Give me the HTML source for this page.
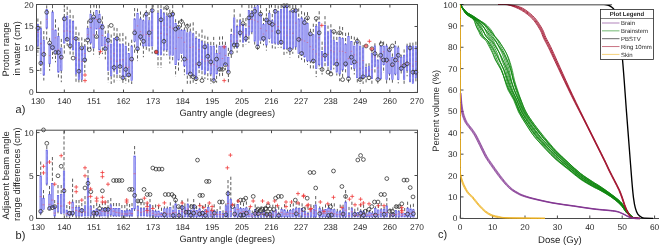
<!DOCTYPE html>
<html><head><meta charset="utf-8"><style>html,body{margin:0;padding:0;background:#fff;}svg{display:block;position:absolute;left:0;top:0;}.tx{filter:grayscale(1);}</style></head>
<body><svg xmlns="http://www.w3.org/2000/svg" width="660" height="246" viewBox="0 0 660 246"><line x1="37.9" y1="18.5" x2="37.9" y2="55.4" stroke="#333" stroke-width="0.8" stroke-dasharray="3.2 2"/>
<line x1="40.8" y1="21.2" x2="40.8" y2="73.6" stroke="#333" stroke-width="0.8" stroke-dasharray="3.2 2"/>
<line x1="43.8" y1="31.0" x2="43.8" y2="80.5" stroke="#333" stroke-width="0.8" stroke-dasharray="3.2 2"/>
<line x1="46.7" y1="5.4" x2="46.7" y2="39.9" stroke="#333" stroke-width="0.8" stroke-dasharray="3.2 2"/>
<line x1="49.6" y1="37.9" x2="49.6" y2="70.7" stroke="#333" stroke-width="0.8" stroke-dasharray="3.2 2"/>
<line x1="52.5" y1="5.0" x2="52.5" y2="58.8" stroke="#333" stroke-width="0.8" stroke-dasharray="3.2 2"/>
<line x1="55.5" y1="19.3" x2="55.5" y2="62.3" stroke="#333" stroke-width="0.8" stroke-dasharray="3.2 2"/>
<line x1="58.4" y1="27.5" x2="58.4" y2="78.4" stroke="#333" stroke-width="0.8" stroke-dasharray="3.2 2"/>
<line x1="61.3" y1="38.9" x2="61.3" y2="82.2" stroke="#333" stroke-width="0.8" stroke-dasharray="3.2 2"/>
<line x1="64.3" y1="8.8" x2="64.3" y2="54.0" stroke="#333" stroke-width="0.8" stroke-dasharray="3.2 2"/>
<line x1="67.2" y1="6.6" x2="67.2" y2="45.8" stroke="#333" stroke-width="0.8" stroke-dasharray="3.2 2"/>
<line x1="70.1" y1="9.7" x2="70.1" y2="55.7" stroke="#333" stroke-width="0.8" stroke-dasharray="3.2 2"/>
<line x1="73.1" y1="15.2" x2="73.1" y2="55.2" stroke="#333" stroke-width="0.8" stroke-dasharray="3.2 2"/>
<line x1="76.0" y1="26.6" x2="76.0" y2="82.8" stroke="#333" stroke-width="0.8" stroke-dasharray="3.2 2"/>
<line x1="78.9" y1="32.4" x2="78.9" y2="84.0" stroke="#333" stroke-width="0.8" stroke-dasharray="3.2 2"/>
<line x1="81.8" y1="37.3" x2="81.8" y2="84.0" stroke="#333" stroke-width="0.8" stroke-dasharray="3.2 2"/>
<line x1="84.8" y1="38.8" x2="84.8" y2="72.4" stroke="#333" stroke-width="0.8" stroke-dasharray="3.2 2"/>
<line x1="87.7" y1="20.6" x2="87.7" y2="51.9" stroke="#333" stroke-width="0.8" stroke-dasharray="3.2 2"/>
<line x1="90.6" y1="5.0" x2="90.6" y2="48.9" stroke="#333" stroke-width="0.8" stroke-dasharray="3.2 2"/>
<line x1="93.6" y1="11.9" x2="93.6" y2="54.7" stroke="#333" stroke-width="0.8" stroke-dasharray="3.2 2"/>
<line x1="96.5" y1="5.0" x2="96.5" y2="37.6" stroke="#333" stroke-width="0.8" stroke-dasharray="3.2 2"/>
<line x1="99.4" y1="5.1" x2="99.4" y2="57.4" stroke="#333" stroke-width="0.8" stroke-dasharray="3.2 2"/>
<line x1="102.4" y1="16.3" x2="102.4" y2="54.1" stroke="#333" stroke-width="0.8" stroke-dasharray="3.2 2"/>
<line x1="105.3" y1="30.7" x2="105.3" y2="59.4" stroke="#333" stroke-width="0.8" stroke-dasharray="3.2 2"/>
<line x1="108.2" y1="25.1" x2="108.2" y2="82.5" stroke="#333" stroke-width="0.8" stroke-dasharray="3.2 2"/>
<line x1="111.2" y1="34.5" x2="111.2" y2="84.0" stroke="#333" stroke-width="0.8" stroke-dasharray="3.2 2"/>
<line x1="114.1" y1="27.5" x2="114.1" y2="83.2" stroke="#333" stroke-width="0.8" stroke-dasharray="3.2 2"/>
<line x1="117.0" y1="28.1" x2="117.0" y2="80.3" stroke="#333" stroke-width="0.8" stroke-dasharray="3.2 2"/>
<line x1="119.9" y1="33.2" x2="119.9" y2="80.2" stroke="#333" stroke-width="0.8" stroke-dasharray="3.2 2"/>
<line x1="122.9" y1="32.9" x2="122.9" y2="84.0" stroke="#333" stroke-width="0.8" stroke-dasharray="3.2 2"/>
<line x1="125.8" y1="36.3" x2="125.8" y2="83.5" stroke="#333" stroke-width="0.8" stroke-dasharray="3.2 2"/>
<line x1="128.7" y1="42.8" x2="128.7" y2="84.0" stroke="#333" stroke-width="0.8" stroke-dasharray="3.2 2"/>
<line x1="131.7" y1="39.7" x2="131.7" y2="84.0" stroke="#333" stroke-width="0.8" stroke-dasharray="3.2 2"/>
<line x1="134.6" y1="8.0" x2="134.6" y2="54.2" stroke="#333" stroke-width="0.8" stroke-dasharray="3.2 2"/>
<line x1="137.5" y1="8.5" x2="137.5" y2="61.1" stroke="#333" stroke-width="0.8" stroke-dasharray="3.2 2"/>
<line x1="140.5" y1="11.5" x2="140.5" y2="45.6" stroke="#333" stroke-width="0.8" stroke-dasharray="3.2 2"/>
<line x1="143.4" y1="14.3" x2="143.4" y2="57.2" stroke="#333" stroke-width="0.8" stroke-dasharray="3.2 2"/>
<line x1="146.3" y1="5.0" x2="146.3" y2="51.4" stroke="#333" stroke-width="0.8" stroke-dasharray="3.2 2"/>
<line x1="149.2" y1="11.8" x2="149.2" y2="51.4" stroke="#333" stroke-width="0.8" stroke-dasharray="3.2 2"/>
<line x1="152.2" y1="5.0" x2="152.2" y2="53.6" stroke="#333" stroke-width="0.8" stroke-dasharray="3.2 2"/>
<line x1="158.0" y1="5.0" x2="158.0" y2="67.8" stroke="#333" stroke-width="0.8" stroke-dasharray="3.2 2"/>
<line x1="161.0" y1="5.0" x2="161.0" y2="68.0" stroke="#333" stroke-width="0.8" stroke-dasharray="3.2 2"/>
<line x1="163.9" y1="6.7" x2="163.9" y2="55.6" stroke="#333" stroke-width="0.8" stroke-dasharray="3.2 2"/>
<line x1="166.8" y1="7.2" x2="166.8" y2="55.3" stroke="#333" stroke-width="0.8" stroke-dasharray="3.2 2"/>
<line x1="169.8" y1="9.5" x2="169.8" y2="63.6" stroke="#333" stroke-width="0.8" stroke-dasharray="3.2 2"/>
<line x1="172.7" y1="5.0" x2="172.7" y2="61.5" stroke="#333" stroke-width="0.8" stroke-dasharray="3.2 2"/>
<line x1="175.6" y1="19.2" x2="175.6" y2="76.6" stroke="#333" stroke-width="0.8" stroke-dasharray="3.2 2"/>
<line x1="178.5" y1="20.7" x2="178.5" y2="72.7" stroke="#333" stroke-width="0.8" stroke-dasharray="3.2 2"/>
<line x1="181.5" y1="18.8" x2="181.5" y2="61.5" stroke="#333" stroke-width="0.8" stroke-dasharray="3.2 2"/>
<line x1="184.4" y1="22.3" x2="184.4" y2="75.2" stroke="#333" stroke-width="0.8" stroke-dasharray="3.2 2"/>
<line x1="187.3" y1="23.6" x2="187.3" y2="83.8" stroke="#333" stroke-width="0.8" stroke-dasharray="3.2 2"/>
<line x1="190.3" y1="23.4" x2="190.3" y2="84.0" stroke="#333" stroke-width="0.8" stroke-dasharray="3.2 2"/>
<line x1="193.2" y1="22.3" x2="193.2" y2="84.0" stroke="#333" stroke-width="0.8" stroke-dasharray="3.2 2"/>
<line x1="196.1" y1="31.0" x2="196.1" y2="84.0" stroke="#333" stroke-width="0.8" stroke-dasharray="3.2 2"/>
<line x1="199.1" y1="33.5" x2="199.1" y2="75.4" stroke="#333" stroke-width="0.8" stroke-dasharray="3.2 2"/>
<line x1="202.0" y1="29.5" x2="202.0" y2="79.2" stroke="#333" stroke-width="0.8" stroke-dasharray="3.2 2"/>
<line x1="204.9" y1="35.6" x2="204.9" y2="79.1" stroke="#333" stroke-width="0.8" stroke-dasharray="3.2 2"/>
<line x1="207.8" y1="36.7" x2="207.8" y2="79.9" stroke="#333" stroke-width="0.8" stroke-dasharray="3.2 2"/>
<line x1="210.8" y1="41.8" x2="210.8" y2="83.9" stroke="#333" stroke-width="0.8" stroke-dasharray="3.2 2"/>
<line x1="213.7" y1="36.9" x2="213.7" y2="84.0" stroke="#333" stroke-width="0.8" stroke-dasharray="3.2 2"/>
<line x1="216.6" y1="44.5" x2="216.6" y2="82.7" stroke="#333" stroke-width="0.8" stroke-dasharray="3.2 2"/>
<line x1="219.6" y1="36.6" x2="219.6" y2="77.2" stroke="#333" stroke-width="0.8" stroke-dasharray="3.2 2"/>
<line x1="222.5" y1="36.3" x2="222.5" y2="77.5" stroke="#333" stroke-width="0.8" stroke-dasharray="3.2 2"/>
<line x1="225.4" y1="41.8" x2="225.4" y2="70.2" stroke="#333" stroke-width="0.8" stroke-dasharray="3.2 2"/>
<line x1="228.4" y1="47.8" x2="228.4" y2="84.0" stroke="#333" stroke-width="0.8" stroke-dasharray="3.2 2"/>
<line x1="231.3" y1="28.7" x2="231.3" y2="59.2" stroke="#333" stroke-width="0.8" stroke-dasharray="3.2 2"/>
<line x1="234.2" y1="9.2" x2="234.2" y2="49.9" stroke="#333" stroke-width="0.8" stroke-dasharray="3.2 2"/>
<line x1="237.1" y1="19.4" x2="237.1" y2="52.7" stroke="#333" stroke-width="0.8" stroke-dasharray="3.2 2"/>
<line x1="240.1" y1="13.7" x2="240.1" y2="42.2" stroke="#333" stroke-width="0.8" stroke-dasharray="3.2 2"/>
<line x1="243.0" y1="18.0" x2="243.0" y2="47.5" stroke="#333" stroke-width="0.8" stroke-dasharray="3.2 2"/>
<line x1="245.9" y1="18.0" x2="245.9" y2="44.4" stroke="#333" stroke-width="0.8" stroke-dasharray="3.2 2"/>
<line x1="248.9" y1="5.0" x2="248.9" y2="43.0" stroke="#333" stroke-width="0.8" stroke-dasharray="3.2 2"/>
<line x1="251.8" y1="5.0" x2="251.8" y2="36.2" stroke="#333" stroke-width="0.8" stroke-dasharray="3.2 2"/>
<line x1="254.7" y1="5.0" x2="254.7" y2="45.6" stroke="#333" stroke-width="0.8" stroke-dasharray="3.2 2"/>
<line x1="257.6" y1="5.0" x2="257.6" y2="51.5" stroke="#333" stroke-width="0.8" stroke-dasharray="3.2 2"/>
<line x1="260.6" y1="5.0" x2="260.6" y2="43.9" stroke="#333" stroke-width="0.8" stroke-dasharray="3.2 2"/>
<line x1="263.5" y1="17.8" x2="263.5" y2="45.3" stroke="#333" stroke-width="0.8" stroke-dasharray="3.2 2"/>
<line x1="266.4" y1="8.1" x2="266.4" y2="50.6" stroke="#333" stroke-width="0.8" stroke-dasharray="3.2 2"/>
<line x1="269.4" y1="5.0" x2="269.4" y2="42.4" stroke="#333" stroke-width="0.8" stroke-dasharray="3.2 2"/>
<line x1="272.3" y1="14.0" x2="272.3" y2="50.0" stroke="#333" stroke-width="0.8" stroke-dasharray="3.2 2"/>
<line x1="275.2" y1="5.0" x2="275.2" y2="48.8" stroke="#333" stroke-width="0.8" stroke-dasharray="3.2 2"/>
<line x1="278.2" y1="5.5" x2="278.2" y2="47.7" stroke="#333" stroke-width="0.8" stroke-dasharray="3.2 2"/>
<line x1="281.1" y1="5.0" x2="281.1" y2="48.1" stroke="#333" stroke-width="0.8" stroke-dasharray="3.2 2"/>
<line x1="284.0" y1="5.0" x2="284.0" y2="56.7" stroke="#333" stroke-width="0.8" stroke-dasharray="3.2 2"/>
<line x1="286.9" y1="5.0" x2="286.9" y2="53.4" stroke="#333" stroke-width="0.8" stroke-dasharray="3.2 2"/>
<line x1="289.9" y1="5.0" x2="289.9" y2="57.5" stroke="#333" stroke-width="0.8" stroke-dasharray="3.2 2"/>
<line x1="292.8" y1="5.0" x2="292.8" y2="53.8" stroke="#333" stroke-width="0.8" stroke-dasharray="3.2 2"/>
<line x1="295.7" y1="5.0" x2="295.7" y2="51.7" stroke="#333" stroke-width="0.8" stroke-dasharray="3.2 2"/>
<line x1="298.7" y1="8.4" x2="298.7" y2="58.1" stroke="#333" stroke-width="0.8" stroke-dasharray="3.2 2"/>
<line x1="301.6" y1="11.1" x2="301.6" y2="59.9" stroke="#333" stroke-width="0.8" stroke-dasharray="3.2 2"/>
<line x1="304.5" y1="12.4" x2="304.5" y2="62.5" stroke="#333" stroke-width="0.8" stroke-dasharray="3.2 2"/>
<line x1="307.5" y1="12.1" x2="307.5" y2="64.9" stroke="#333" stroke-width="0.8" stroke-dasharray="3.2 2"/>
<line x1="310.4" y1="28.8" x2="310.4" y2="69.7" stroke="#333" stroke-width="0.8" stroke-dasharray="3.2 2"/>
<line x1="313.3" y1="23.7" x2="313.3" y2="69.9" stroke="#333" stroke-width="0.8" stroke-dasharray="3.2 2"/>
<line x1="316.2" y1="18.8" x2="316.2" y2="77.1" stroke="#333" stroke-width="0.8" stroke-dasharray="3.2 2"/>
<line x1="319.2" y1="11.2" x2="319.2" y2="69.0" stroke="#333" stroke-width="0.8" stroke-dasharray="3.2 2"/>
<line x1="322.1" y1="41.6" x2="322.1" y2="74.6" stroke="#333" stroke-width="0.8" stroke-dasharray="3.2 2"/>
<line x1="325.0" y1="16.1" x2="325.0" y2="67.1" stroke="#333" stroke-width="0.8" stroke-dasharray="3.2 2"/>
<line x1="328.0" y1="25.6" x2="328.0" y2="71.0" stroke="#333" stroke-width="0.8" stroke-dasharray="3.2 2"/>
<line x1="330.9" y1="24.2" x2="330.9" y2="73.4" stroke="#333" stroke-width="0.8" stroke-dasharray="3.2 2"/>
<line x1="333.8" y1="31.3" x2="333.8" y2="69.4" stroke="#333" stroke-width="0.8" stroke-dasharray="3.2 2"/>
<line x1="336.8" y1="31.7" x2="336.8" y2="75.5" stroke="#333" stroke-width="0.8" stroke-dasharray="3.2 2"/>
<line x1="339.7" y1="26.3" x2="339.7" y2="81.2" stroke="#333" stroke-width="0.8" stroke-dasharray="3.2 2"/>
<line x1="342.6" y1="27.0" x2="342.6" y2="78.4" stroke="#333" stroke-width="0.8" stroke-dasharray="3.2 2"/>
<line x1="345.6" y1="32.8" x2="345.6" y2="73.1" stroke="#333" stroke-width="0.8" stroke-dasharray="3.2 2"/>
<line x1="348.5" y1="32.5" x2="348.5" y2="84.0" stroke="#333" stroke-width="0.8" stroke-dasharray="3.2 2"/>
<line x1="351.4" y1="35.9" x2="351.4" y2="69.5" stroke="#333" stroke-width="0.8" stroke-dasharray="3.2 2"/>
<line x1="354.3" y1="36.7" x2="354.3" y2="74.5" stroke="#333" stroke-width="0.8" stroke-dasharray="3.2 2"/>
<line x1="357.3" y1="37.6" x2="357.3" y2="84.0" stroke="#333" stroke-width="0.8" stroke-dasharray="3.2 2"/>
<line x1="360.2" y1="41.6" x2="360.2" y2="83.7" stroke="#333" stroke-width="0.8" stroke-dasharray="3.2 2"/>
<line x1="363.1" y1="45.0" x2="363.1" y2="84.0" stroke="#333" stroke-width="0.8" stroke-dasharray="3.2 2"/>
<line x1="366.1" y1="63.6" x2="366.1" y2="84.0" stroke="#333" stroke-width="0.8" stroke-dasharray="3.2 2"/>
<line x1="369.0" y1="63.2" x2="369.0" y2="80.1" stroke="#333" stroke-width="0.8" stroke-dasharray="3.2 2"/>
<line x1="371.9" y1="49.4" x2="371.9" y2="84.0" stroke="#333" stroke-width="0.8" stroke-dasharray="3.2 2"/>
<line x1="374.9" y1="43.3" x2="374.9" y2="74.4" stroke="#333" stroke-width="0.8" stroke-dasharray="3.2 2"/>
<line x1="377.8" y1="54.3" x2="377.8" y2="84.0" stroke="#333" stroke-width="0.8" stroke-dasharray="3.2 2"/>
<line x1="380.7" y1="40.7" x2="380.7" y2="81.7" stroke="#333" stroke-width="0.8" stroke-dasharray="3.2 2"/>
<line x1="383.6" y1="41.5" x2="383.6" y2="72.9" stroke="#333" stroke-width="0.8" stroke-dasharray="3.2 2"/>
<line x1="386.6" y1="43.8" x2="386.6" y2="84.0" stroke="#333" stroke-width="0.8" stroke-dasharray="3.2 2"/>
<line x1="389.5" y1="46.6" x2="389.5" y2="80.2" stroke="#333" stroke-width="0.8" stroke-dasharray="3.2 2"/>
<line x1="392.4" y1="53.5" x2="392.4" y2="84.0" stroke="#333" stroke-width="0.8" stroke-dasharray="3.2 2"/>
<line x1="395.4" y1="40.9" x2="395.4" y2="77.0" stroke="#333" stroke-width="0.8" stroke-dasharray="3.2 2"/>
<line x1="398.3" y1="45.7" x2="398.3" y2="83.4" stroke="#333" stroke-width="0.8" stroke-dasharray="3.2 2"/>
<line x1="401.2" y1="54.7" x2="401.2" y2="73.7" stroke="#333" stroke-width="0.8" stroke-dasharray="3.2 2"/>
<line x1="404.1" y1="49.4" x2="404.1" y2="84.0" stroke="#333" stroke-width="0.8" stroke-dasharray="3.2 2"/>
<line x1="407.1" y1="43.7" x2="407.1" y2="76.3" stroke="#333" stroke-width="0.8" stroke-dasharray="3.2 2"/>
<line x1="410.0" y1="42.7" x2="410.0" y2="84.0" stroke="#333" stroke-width="0.8" stroke-dasharray="3.2 2"/>
<line x1="412.9" y1="42.6" x2="412.9" y2="84.0" stroke="#333" stroke-width="0.8" stroke-dasharray="3.2 2"/>
<line x1="415.9" y1="41.7" x2="415.9" y2="83.0" stroke="#333" stroke-width="0.8" stroke-dasharray="3.2 2"/>
<rect x="37.20" y="24.4" width="1.4" height="21.6" fill="#b2b2f5" stroke="#5c5cea" stroke-width="0.6"/>
<line x1="37.20" y1="32.5" x2="38.60" y2="32.5" stroke="#e8485a" stroke-width="0.5"/>
<rect x="40.13" y="28.2" width="1.4" height="35.6" fill="#b2b2f5" stroke="#5c5cea" stroke-width="0.6"/>
<line x1="40.13" y1="43.6" x2="41.53" y2="43.6" stroke="#e8485a" stroke-width="0.5"/>
<rect x="43.06" y="40.0" width="1.4" height="35.0" fill="#b2b2f5" stroke="#5c5cea" stroke-width="0.6"/>
<line x1="43.06" y1="52.2" x2="44.46" y2="52.2" stroke="#e8485a" stroke-width="0.5"/>
<rect x="45.99" y="9.5" width="1.4" height="18.7" fill="#b2b2f5" stroke="#5c5cea" stroke-width="0.6"/>
<line x1="45.99" y1="19.3" x2="47.39" y2="19.3" stroke="#e8485a" stroke-width="0.5"/>
<rect x="48.92" y="44.0" width="1.4" height="19.8" fill="#b2b2f5" stroke="#5c5cea" stroke-width="0.6"/>
<line x1="48.92" y1="55.6" x2="50.32" y2="55.6" stroke="#e8485a" stroke-width="0.5"/>
<rect x="51.85" y="12.0" width="1.4" height="38.0" fill="#b2b2f5" stroke="#5c5cea" stroke-width="0.6"/>
<line x1="51.85" y1="29.2" x2="53.25" y2="29.2" stroke="#e8485a" stroke-width="0.5"/>
<rect x="54.78" y="30.0" width="1.4" height="23.5" fill="#b2b2f5" stroke="#5c5cea" stroke-width="0.6"/>
<line x1="54.78" y1="37.8" x2="56.18" y2="37.8" stroke="#e8485a" stroke-width="0.5"/>
<rect x="57.71" y="36.6" width="1.4" height="35.6" fill="#b2b2f5" stroke="#5c5cea" stroke-width="0.6"/>
<line x1="57.71" y1="49.8" x2="59.11" y2="49.8" stroke="#e8485a" stroke-width="0.5"/>
<rect x="60.64" y="48.0" width="1.4" height="22.3" fill="#b2b2f5" stroke="#5c5cea" stroke-width="0.6"/>
<line x1="60.64" y1="58.0" x2="62.04" y2="58.0" stroke="#e8485a" stroke-width="0.5"/>
<rect x="63.57" y="17.0" width="1.4" height="26.1" fill="#b2b2f5" stroke="#5c5cea" stroke-width="0.6"/>
<line x1="63.57" y1="31.1" x2="64.97" y2="31.1" stroke="#e8485a" stroke-width="0.5"/>
<rect x="66.50" y="16.0" width="1.4" height="24.3" fill="#b2b2f5" stroke="#5c5cea" stroke-width="0.6"/>
<line x1="66.50" y1="30.9" x2="67.90" y2="30.9" stroke="#e8485a" stroke-width="0.5"/>
<rect x="69.43" y="19.8" width="1.4" height="26.2" fill="#b2b2f5" stroke="#5c5cea" stroke-width="0.6"/>
<line x1="69.43" y1="31.6" x2="70.83" y2="31.6" stroke="#e8485a" stroke-width="0.5"/>
<rect x="72.36" y="21.6" width="1.4" height="28.4" fill="#b2b2f5" stroke="#5c5cea" stroke-width="0.6"/>
<line x1="72.36" y1="39.2" x2="73.76" y2="39.2" stroke="#e8485a" stroke-width="0.5"/>
<rect x="75.29" y="37.5" width="1.4" height="36.5" fill="#b2b2f5" stroke="#5c5cea" stroke-width="0.6"/>
<line x1="75.29" y1="57.5" x2="76.69" y2="57.5" stroke="#e8485a" stroke-width="0.5"/>
<rect x="78.22" y="42.2" width="1.4" height="37.4" fill="#b2b2f5" stroke="#5c5cea" stroke-width="0.6"/>
<line x1="78.22" y1="59.9" x2="79.62" y2="59.9" stroke="#e8485a" stroke-width="0.5"/>
<rect x="81.15" y="47.0" width="1.4" height="32.6" fill="#b2b2f5" stroke="#5c5cea" stroke-width="0.6"/>
<line x1="81.15" y1="61.6" x2="82.55" y2="61.6" stroke="#e8485a" stroke-width="0.5"/>
<rect x="84.08" y="46.0" width="1.4" height="15.0" fill="#b2b2f5" stroke="#5c5cea" stroke-width="0.6"/>
<line x1="84.08" y1="53.5" x2="85.48" y2="53.5" stroke="#e8485a" stroke-width="0.5"/>
<rect x="87.01" y="28.2" width="1.4" height="11.2" fill="#b2b2f5" stroke="#5c5cea" stroke-width="0.6"/>
<line x1="87.01" y1="34.7" x2="88.41" y2="34.7" stroke="#e8485a" stroke-width="0.5"/>
<rect x="89.94" y="14.1" width="1.4" height="29.0" fill="#b2b2f5" stroke="#5c5cea" stroke-width="0.6"/>
<line x1="89.94" y1="27.7" x2="91.34" y2="27.7" stroke="#e8485a" stroke-width="0.5"/>
<rect x="92.87" y="17.0" width="1.4" height="31.0" fill="#b2b2f5" stroke="#5c5cea" stroke-width="0.6"/>
<line x1="92.87" y1="34.9" x2="94.27" y2="34.9" stroke="#e8485a" stroke-width="0.5"/>
<rect x="95.80" y="10.4" width="1.4" height="18.7" fill="#b2b2f5" stroke="#5c5cea" stroke-width="0.6"/>
<line x1="95.80" y1="19.5" x2="97.20" y2="19.5" stroke="#e8485a" stroke-width="0.5"/>
<rect x="98.73" y="14.1" width="1.4" height="35.9" fill="#b2b2f5" stroke="#5c5cea" stroke-width="0.6"/>
<line x1="98.73" y1="28.4" x2="100.13" y2="28.4" stroke="#e8485a" stroke-width="0.5"/>
<rect x="101.66" y="24.4" width="1.4" height="21.6" fill="#b2b2f5" stroke="#5c5cea" stroke-width="0.6"/>
<line x1="101.66" y1="35.5" x2="103.06" y2="35.5" stroke="#e8485a" stroke-width="0.5"/>
<rect x="104.59" y="37.5" width="1.4" height="12.2" fill="#b2b2f5" stroke="#5c5cea" stroke-width="0.6"/>
<line x1="104.59" y1="44.6" x2="105.99" y2="44.6" stroke="#e8485a" stroke-width="0.5"/>
<rect x="107.52" y="33.8" width="1.4" height="36.5" fill="#b2b2f5" stroke="#5c5cea" stroke-width="0.6"/>
<line x1="107.52" y1="45.8" x2="108.92" y2="45.8" stroke="#e8485a" stroke-width="0.5"/>
<rect x="110.45" y="44.0" width="1.4" height="31.9" fill="#b2b2f5" stroke="#5c5cea" stroke-width="0.6"/>
<line x1="110.45" y1="59.0" x2="111.85" y2="59.0" stroke="#e8485a" stroke-width="0.5"/>
<rect x="113.38" y="38.4" width="1.4" height="31.9" fill="#b2b2f5" stroke="#5c5cea" stroke-width="0.6"/>
<line x1="113.38" y1="53.4" x2="114.78" y2="53.4" stroke="#e8485a" stroke-width="0.5"/>
<rect x="116.31" y="37.5" width="1.4" height="36.5" fill="#b2b2f5" stroke="#5c5cea" stroke-width="0.6"/>
<line x1="116.31" y1="61.3" x2="117.71" y2="61.3" stroke="#e8485a" stroke-width="0.5"/>
<rect x="119.24" y="44.1" width="1.4" height="23.4" fill="#b2b2f5" stroke="#5c5cea" stroke-width="0.6"/>
<line x1="119.24" y1="59.9" x2="120.64" y2="59.9" stroke="#e8485a" stroke-width="0.5"/>
<rect x="122.17" y="44.1" width="1.4" height="34.6" fill="#b2b2f5" stroke="#5c5cea" stroke-width="0.6"/>
<line x1="122.17" y1="59.7" x2="123.57" y2="59.7" stroke="#e8485a" stroke-width="0.5"/>
<rect x="125.10" y="46.0" width="1.4" height="30.8" fill="#b2b2f5" stroke="#5c5cea" stroke-width="0.6"/>
<line x1="125.10" y1="66.3" x2="126.50" y2="66.3" stroke="#e8485a" stroke-width="0.5"/>
<rect x="128.03" y="53.5" width="1.4" height="22.4" fill="#b2b2f5" stroke="#5c5cea" stroke-width="0.6"/>
<line x1="128.03" y1="67.3" x2="129.43" y2="67.3" stroke="#e8485a" stroke-width="0.5"/>
<rect x="130.96" y="46.0" width="1.4" height="34.6" fill="#b2b2f5" stroke="#5c5cea" stroke-width="0.6"/>
<line x1="130.96" y1="60.0" x2="132.36" y2="60.0" stroke="#e8485a" stroke-width="0.5"/>
<rect x="133.89" y="18.8" width="1.4" height="22.5" fill="#b2b2f5" stroke="#5c5cea" stroke-width="0.6"/>
<line x1="133.89" y1="29.7" x2="135.29" y2="29.7" stroke="#e8485a" stroke-width="0.5"/>
<rect x="136.82" y="13.2" width="1.4" height="36.5" fill="#b2b2f5" stroke="#5c5cea" stroke-width="0.6"/>
<line x1="136.82" y1="25.9" x2="138.22" y2="25.9" stroke="#e8485a" stroke-width="0.5"/>
<rect x="139.75" y="18.8" width="1.4" height="20.6" fill="#b2b2f5" stroke="#5c5cea" stroke-width="0.6"/>
<line x1="139.75" y1="31.7" x2="141.15" y2="31.7" stroke="#e8485a" stroke-width="0.5"/>
<rect x="142.68" y="20.7" width="1.4" height="25.3" fill="#b2b2f5" stroke="#5c5cea" stroke-width="0.6"/>
<line x1="142.68" y1="35.0" x2="144.08" y2="35.0" stroke="#e8485a" stroke-width="0.5"/>
<rect x="145.61" y="12.3" width="1.4" height="33.7" fill="#b2b2f5" stroke="#5c5cea" stroke-width="0.6"/>
<line x1="145.61" y1="34.4" x2="147.01" y2="34.4" stroke="#e8485a" stroke-width="0.5"/>
<rect x="148.54" y="20.7" width="1.4" height="25.3" fill="#b2b2f5" stroke="#5c5cea" stroke-width="0.6"/>
<line x1="148.54" y1="36.3" x2="149.94" y2="36.3" stroke="#e8485a" stroke-width="0.5"/>
<rect x="151.47" y="9.5" width="1.4" height="36.5" fill="#b2b2f5" stroke="#5c5cea" stroke-width="0.6"/>
<line x1="151.47" y1="30.2" x2="152.87" y2="30.2" stroke="#e8485a" stroke-width="0.5"/>
<rect x="157.33" y="13.2" width="1.4" height="41.8" fill="#b2b2f5" stroke="#5c5cea" stroke-width="0.6"/>
<line x1="157.33" y1="38.0" x2="158.73" y2="38.0" stroke="#e8485a" stroke-width="0.5"/>
<rect x="160.26" y="9.5" width="1.4" height="45.5" fill="#b2b2f5" stroke="#5c5cea" stroke-width="0.6"/>
<line x1="160.26" y1="33.4" x2="161.66" y2="33.4" stroke="#e8485a" stroke-width="0.5"/>
<rect x="163.19" y="13.2" width="1.4" height="36.8" fill="#b2b2f5" stroke="#5c5cea" stroke-width="0.6"/>
<line x1="163.19" y1="25.8" x2="164.59" y2="25.8" stroke="#e8485a" stroke-width="0.5"/>
<rect x="166.12" y="16.0" width="1.4" height="34.0" fill="#b2b2f5" stroke="#5c5cea" stroke-width="0.6"/>
<line x1="166.12" y1="34.2" x2="167.52" y2="34.2" stroke="#e8485a" stroke-width="0.5"/>
<rect x="169.05" y="15.1" width="1.4" height="40.2" fill="#b2b2f5" stroke="#5c5cea" stroke-width="0.6"/>
<line x1="169.05" y1="27.2" x2="170.45" y2="27.2" stroke="#e8485a" stroke-width="0.5"/>
<rect x="171.98" y="13.2" width="1.4" height="42.1" fill="#b2b2f5" stroke="#5c5cea" stroke-width="0.6"/>
<line x1="171.98" y1="28.2" x2="173.38" y2="28.2" stroke="#e8485a" stroke-width="0.5"/>
<rect x="174.91" y="23.5" width="1.4" height="41.2" fill="#b2b2f5" stroke="#5c5cea" stroke-width="0.6"/>
<line x1="174.91" y1="48.6" x2="176.31" y2="48.6" stroke="#e8485a" stroke-width="0.5"/>
<rect x="177.84" y="27.2" width="1.4" height="32.8" fill="#b2b2f5" stroke="#5c5cea" stroke-width="0.6"/>
<line x1="177.84" y1="37.6" x2="179.24" y2="37.6" stroke="#e8485a" stroke-width="0.5"/>
<rect x="180.77" y="30.0" width="1.4" height="23.5" fill="#b2b2f5" stroke="#5c5cea" stroke-width="0.6"/>
<line x1="180.77" y1="37.9" x2="182.17" y2="37.9" stroke="#e8485a" stroke-width="0.5"/>
<rect x="183.70" y="30.0" width="1.4" height="36.0" fill="#b2b2f5" stroke="#5c5cea" stroke-width="0.6"/>
<line x1="183.70" y1="42.2" x2="185.10" y2="42.2" stroke="#e8485a" stroke-width="0.5"/>
<rect x="186.63" y="32.8" width="1.4" height="41.2" fill="#b2b2f5" stroke="#5c5cea" stroke-width="0.6"/>
<line x1="186.63" y1="59.7" x2="188.03" y2="59.7" stroke="#e8485a" stroke-width="0.5"/>
<rect x="189.56" y="31.9" width="1.4" height="42.1" fill="#b2b2f5" stroke="#5c5cea" stroke-width="0.6"/>
<line x1="189.56" y1="47.5" x2="190.96" y2="47.5" stroke="#e8485a" stroke-width="0.5"/>
<rect x="192.49" y="33.8" width="1.4" height="42.1" fill="#b2b2f5" stroke="#5c5cea" stroke-width="0.6"/>
<line x1="192.49" y1="46.8" x2="193.89" y2="46.8" stroke="#e8485a" stroke-width="0.5"/>
<rect x="195.42" y="38.4" width="1.4" height="40.3" fill="#b2b2f5" stroke="#5c5cea" stroke-width="0.6"/>
<line x1="195.42" y1="64.1" x2="196.82" y2="64.1" stroke="#e8485a" stroke-width="0.5"/>
<rect x="198.35" y="39.4" width="1.4" height="28.6" fill="#b2b2f5" stroke="#5c5cea" stroke-width="0.6"/>
<line x1="198.35" y1="49.4" x2="199.75" y2="49.4" stroke="#e8485a" stroke-width="0.5"/>
<rect x="201.28" y="41.3" width="1.4" height="28.7" fill="#b2b2f5" stroke="#5c5cea" stroke-width="0.6"/>
<line x1="201.28" y1="59.6" x2="202.68" y2="59.6" stroke="#e8485a" stroke-width="0.5"/>
<rect x="204.21" y="44.0" width="1.4" height="30.0" fill="#b2b2f5" stroke="#5c5cea" stroke-width="0.6"/>
<line x1="204.21" y1="61.1" x2="205.61" y2="61.1" stroke="#e8485a" stroke-width="0.5"/>
<rect x="207.14" y="44.0" width="1.4" height="26.3" fill="#b2b2f5" stroke="#5c5cea" stroke-width="0.6"/>
<line x1="207.14" y1="60.7" x2="208.54" y2="60.7" stroke="#e8485a" stroke-width="0.5"/>
<rect x="210.07" y="46.0" width="1.4" height="28.0" fill="#b2b2f5" stroke="#5c5cea" stroke-width="0.6"/>
<line x1="210.07" y1="65.1" x2="211.47" y2="65.1" stroke="#e8485a" stroke-width="0.5"/>
<rect x="213.00" y="46.0" width="1.4" height="34.6" fill="#b2b2f5" stroke="#5c5cea" stroke-width="0.6"/>
<line x1="213.00" y1="64.4" x2="214.40" y2="64.4" stroke="#e8485a" stroke-width="0.5"/>
<rect x="215.93" y="53.5" width="1.4" height="20.5" fill="#b2b2f5" stroke="#5c5cea" stroke-width="0.6"/>
<line x1="215.93" y1="66.2" x2="217.33" y2="66.2" stroke="#e8485a" stroke-width="0.5"/>
<rect x="218.86" y="46.0" width="1.4" height="23.4" fill="#b2b2f5" stroke="#5c5cea" stroke-width="0.6"/>
<line x1="218.86" y1="53.4" x2="220.26" y2="53.4" stroke="#e8485a" stroke-width="0.5"/>
<rect x="221.79" y="46.0" width="1.4" height="20.6" fill="#b2b2f5" stroke="#5c5cea" stroke-width="0.6"/>
<line x1="221.79" y1="58.5" x2="223.19" y2="58.5" stroke="#e8485a" stroke-width="0.5"/>
<rect x="224.72" y="46.0" width="1.4" height="18.7" fill="#b2b2f5" stroke="#5c5cea" stroke-width="0.6"/>
<line x1="224.72" y1="55.4" x2="226.12" y2="55.4" stroke="#e8485a" stroke-width="0.5"/>
<rect x="227.65" y="57.2" width="1.4" height="15.0" fill="#b2b2f5" stroke="#5c5cea" stroke-width="0.6"/>
<line x1="227.65" y1="66.0" x2="229.05" y2="66.0" stroke="#e8485a" stroke-width="0.5"/>
<rect x="230.58" y="34.7" width="1.4" height="18.8" fill="#b2b2f5" stroke="#5c5cea" stroke-width="0.6"/>
<line x1="230.58" y1="41.1" x2="231.98" y2="41.1" stroke="#e8485a" stroke-width="0.5"/>
<rect x="233.51" y="17.9" width="1.4" height="27.1" fill="#b2b2f5" stroke="#5c5cea" stroke-width="0.6"/>
<line x1="233.51" y1="34.1" x2="234.91" y2="34.1" stroke="#e8485a" stroke-width="0.5"/>
<rect x="236.44" y="26.3" width="1.4" height="21.5" fill="#b2b2f5" stroke="#5c5cea" stroke-width="0.6"/>
<line x1="236.44" y1="40.8" x2="237.84" y2="40.8" stroke="#e8485a" stroke-width="0.5"/>
<rect x="239.37" y="20.7" width="1.4" height="14.9" fill="#b2b2f5" stroke="#5c5cea" stroke-width="0.6"/>
<line x1="239.37" y1="25.5" x2="240.77" y2="25.5" stroke="#e8485a" stroke-width="0.5"/>
<rect x="242.30" y="24.4" width="1.4" height="17.8" fill="#b2b2f5" stroke="#5c5cea" stroke-width="0.6"/>
<line x1="242.30" y1="32.0" x2="243.70" y2="32.0" stroke="#e8485a" stroke-width="0.5"/>
<rect x="245.23" y="28.2" width="1.4" height="13.0" fill="#b2b2f5" stroke="#5c5cea" stroke-width="0.6"/>
<line x1="245.23" y1="35.0" x2="246.63" y2="35.0" stroke="#e8485a" stroke-width="0.5"/>
<rect x="248.16" y="10.4" width="1.4" height="25.2" fill="#b2b2f5" stroke="#5c5cea" stroke-width="0.6"/>
<line x1="248.16" y1="26.3" x2="249.56" y2="26.3" stroke="#e8485a" stroke-width="0.5"/>
<rect x="251.09" y="11.3" width="1.4" height="20.6" fill="#b2b2f5" stroke="#5c5cea" stroke-width="0.6"/>
<line x1="251.09" y1="19.5" x2="252.49" y2="19.5" stroke="#e8485a" stroke-width="0.5"/>
<rect x="254.02" y="7.6" width="1.4" height="33.6" fill="#b2b2f5" stroke="#5c5cea" stroke-width="0.6"/>
<line x1="254.02" y1="20.1" x2="255.42" y2="20.1" stroke="#e8485a" stroke-width="0.5"/>
<rect x="256.95" y="5.7" width="1.4" height="40.2" fill="#b2b2f5" stroke="#5c5cea" stroke-width="0.6"/>
<line x1="256.95" y1="21.8" x2="258.35" y2="21.8" stroke="#e8485a" stroke-width="0.5"/>
<rect x="259.88" y="14.1" width="1.4" height="26.2" fill="#b2b2f5" stroke="#5c5cea" stroke-width="0.6"/>
<line x1="259.88" y1="28.4" x2="261.28" y2="28.4" stroke="#e8485a" stroke-width="0.5"/>
<rect x="262.81" y="24.4" width="1.4" height="15.9" fill="#b2b2f5" stroke="#5c5cea" stroke-width="0.6"/>
<line x1="262.81" y1="34.0" x2="264.21" y2="34.0" stroke="#e8485a" stroke-width="0.5"/>
<rect x="265.74" y="18.8" width="1.4" height="26.2" fill="#b2b2f5" stroke="#5c5cea" stroke-width="0.6"/>
<line x1="265.74" y1="30.8" x2="267.14" y2="30.8" stroke="#e8485a" stroke-width="0.5"/>
<rect x="268.67" y="13.2" width="1.4" height="25.2" fill="#b2b2f5" stroke="#5c5cea" stroke-width="0.6"/>
<line x1="268.67" y1="24.5" x2="270.07" y2="24.5" stroke="#e8485a" stroke-width="0.5"/>
<rect x="271.60" y="20.7" width="1.4" height="22.4" fill="#b2b2f5" stroke="#5c5cea" stroke-width="0.6"/>
<line x1="271.60" y1="31.0" x2="273.00" y2="31.0" stroke="#e8485a" stroke-width="0.5"/>
<rect x="274.53" y="9.5" width="1.4" height="33.6" fill="#b2b2f5" stroke="#5c5cea" stroke-width="0.6"/>
<line x1="274.53" y1="24.3" x2="275.93" y2="24.3" stroke="#e8485a" stroke-width="0.5"/>
<rect x="277.46" y="11.3" width="1.4" height="32.7" fill="#b2b2f5" stroke="#5c5cea" stroke-width="0.6"/>
<line x1="277.46" y1="26.6" x2="278.86" y2="26.6" stroke="#e8485a" stroke-width="0.5"/>
<rect x="280.39" y="9.5" width="1.4" height="34.5" fill="#b2b2f5" stroke="#5c5cea" stroke-width="0.6"/>
<line x1="280.39" y1="21.0" x2="281.79" y2="21.0" stroke="#e8485a" stroke-width="0.5"/>
<rect x="283.32" y="6.7" width="1.4" height="42.0" fill="#b2b2f5" stroke="#5c5cea" stroke-width="0.6"/>
<line x1="283.32" y1="27.7" x2="284.72" y2="27.7" stroke="#e8485a" stroke-width="0.5"/>
<rect x="286.25" y="5.7" width="1.4" height="43.0" fill="#b2b2f5" stroke="#5c5cea" stroke-width="0.6"/>
<line x1="286.25" y1="35.3" x2="287.65" y2="35.3" stroke="#e8485a" stroke-width="0.5"/>
<rect x="289.18" y="11.3" width="1.4" height="39.3" fill="#b2b2f5" stroke="#5c5cea" stroke-width="0.6"/>
<line x1="289.18" y1="29.6" x2="290.58" y2="29.6" stroke="#e8485a" stroke-width="0.5"/>
<rect x="292.11" y="10.4" width="1.4" height="38.3" fill="#b2b2f5" stroke="#5c5cea" stroke-width="0.6"/>
<line x1="292.11" y1="33.3" x2="293.51" y2="33.3" stroke="#e8485a" stroke-width="0.5"/>
<rect x="295.04" y="9.5" width="1.4" height="37.4" fill="#b2b2f5" stroke="#5c5cea" stroke-width="0.6"/>
<line x1="295.04" y1="23.1" x2="296.44" y2="23.1" stroke="#e8485a" stroke-width="0.5"/>
<rect x="297.97" y="18.8" width="1.4" height="34.7" fill="#b2b2f5" stroke="#5c5cea" stroke-width="0.6"/>
<line x1="297.97" y1="38.8" x2="299.37" y2="38.8" stroke="#e8485a" stroke-width="0.5"/>
<rect x="300.90" y="17.9" width="1.4" height="36.5" fill="#b2b2f5" stroke="#5c5cea" stroke-width="0.6"/>
<line x1="300.90" y1="39.9" x2="302.30" y2="39.9" stroke="#e8485a" stroke-width="0.5"/>
<rect x="303.83" y="19.8" width="1.4" height="37.2" fill="#b2b2f5" stroke="#5c5cea" stroke-width="0.6"/>
<line x1="303.83" y1="41.0" x2="305.23" y2="41.0" stroke="#e8485a" stroke-width="0.5"/>
<rect x="306.76" y="23.5" width="1.4" height="37.5" fill="#b2b2f5" stroke="#5c5cea" stroke-width="0.6"/>
<line x1="306.76" y1="42.5" x2="308.16" y2="42.5" stroke="#e8485a" stroke-width="0.5"/>
<rect x="309.69" y="32.8" width="1.4" height="28.2" fill="#b2b2f5" stroke="#5c5cea" stroke-width="0.6"/>
<line x1="309.69" y1="46.7" x2="311.09" y2="46.7" stroke="#e8485a" stroke-width="0.5"/>
<rect x="312.62" y="34.7" width="1.4" height="26.3" fill="#b2b2f5" stroke="#5c5cea" stroke-width="0.6"/>
<line x1="312.62" y1="49.4" x2="314.02" y2="49.4" stroke="#e8485a" stroke-width="0.5"/>
<rect x="315.55" y="26.3" width="1.4" height="42.1" fill="#b2b2f5" stroke="#5c5cea" stroke-width="0.6"/>
<line x1="315.55" y1="54.0" x2="316.95" y2="54.0" stroke="#e8485a" stroke-width="0.5"/>
<rect x="318.48" y="22.6" width="1.4" height="42.1" fill="#b2b2f5" stroke="#5c5cea" stroke-width="0.6"/>
<line x1="318.48" y1="37.7" x2="319.88" y2="37.7" stroke="#e8485a" stroke-width="0.5"/>
<rect x="321.41" y="51.6" width="1.4" height="15.0" fill="#b2b2f5" stroke="#5c5cea" stroke-width="0.6"/>
<line x1="321.41" y1="56.7" x2="322.81" y2="56.7" stroke="#e8485a" stroke-width="0.5"/>
<rect x="324.34" y="25.4" width="1.4" height="35.6" fill="#b2b2f5" stroke="#5c5cea" stroke-width="0.6"/>
<line x1="324.34" y1="46.7" x2="325.74" y2="46.7" stroke="#e8485a" stroke-width="0.5"/>
<rect x="327.27" y="31.9" width="1.4" height="34.1" fill="#b2b2f5" stroke="#5c5cea" stroke-width="0.6"/>
<line x1="327.27" y1="54.6" x2="328.67" y2="54.6" stroke="#e8485a" stroke-width="0.5"/>
<rect x="330.20" y="30.0" width="1.4" height="40.0" fill="#b2b2f5" stroke="#5c5cea" stroke-width="0.6"/>
<line x1="330.20" y1="50.3" x2="331.60" y2="50.3" stroke="#e8485a" stroke-width="0.5"/>
<rect x="333.13" y="40.0" width="1.4" height="24.7" fill="#b2b2f5" stroke="#5c5cea" stroke-width="0.6"/>
<line x1="333.13" y1="51.8" x2="334.53" y2="51.8" stroke="#e8485a" stroke-width="0.5"/>
<rect x="336.06" y="42.2" width="1.4" height="30.0" fill="#b2b2f5" stroke="#5c5cea" stroke-width="0.6"/>
<line x1="336.06" y1="59.8" x2="337.46" y2="59.8" stroke="#e8485a" stroke-width="0.5"/>
<rect x="338.99" y="37.5" width="1.4" height="36.5" fill="#b2b2f5" stroke="#5c5cea" stroke-width="0.6"/>
<line x1="338.99" y1="51.2" x2="340.39" y2="51.2" stroke="#e8485a" stroke-width="0.5"/>
<rect x="341.92" y="38.4" width="1.4" height="31.6" fill="#b2b2f5" stroke="#5c5cea" stroke-width="0.6"/>
<line x1="341.92" y1="51.3" x2="343.32" y2="51.3" stroke="#e8485a" stroke-width="0.5"/>
<rect x="344.85" y="44.0" width="1.4" height="22.6" fill="#b2b2f5" stroke="#5c5cea" stroke-width="0.6"/>
<line x1="344.85" y1="52.6" x2="346.25" y2="52.6" stroke="#e8485a" stroke-width="0.5"/>
<rect x="347.78" y="36.6" width="1.4" height="41.2" fill="#b2b2f5" stroke="#5c5cea" stroke-width="0.6"/>
<line x1="347.78" y1="58.6" x2="349.18" y2="58.6" stroke="#e8485a" stroke-width="0.5"/>
<rect x="350.71" y="41.3" width="1.4" height="23.4" fill="#b2b2f5" stroke="#5c5cea" stroke-width="0.6"/>
<line x1="350.71" y1="51.3" x2="352.11" y2="51.3" stroke="#e8485a" stroke-width="0.5"/>
<rect x="353.64" y="46.0" width="1.4" height="22.4" fill="#b2b2f5" stroke="#5c5cea" stroke-width="0.6"/>
<line x1="353.64" y1="54.8" x2="355.04" y2="54.8" stroke="#e8485a" stroke-width="0.5"/>
<rect x="356.57" y="41.3" width="1.4" height="36.5" fill="#b2b2f5" stroke="#5c5cea" stroke-width="0.6"/>
<line x1="356.57" y1="62.3" x2="357.97" y2="62.3" stroke="#e8485a" stroke-width="0.5"/>
<rect x="359.50" y="46.0" width="1.4" height="32.7" fill="#b2b2f5" stroke="#5c5cea" stroke-width="0.6"/>
<line x1="359.50" y1="68.3" x2="360.90" y2="68.3" stroke="#e8485a" stroke-width="0.5"/>
<rect x="362.43" y="48.0" width="1.4" height="29.8" fill="#b2b2f5" stroke="#5c5cea" stroke-width="0.6"/>
<line x1="362.43" y1="60.5" x2="363.83" y2="60.5" stroke="#e8485a" stroke-width="0.5"/>
<rect x="365.36" y="67.5" width="1.4" height="9.3" fill="#b2b2f5" stroke="#5c5cea" stroke-width="0.6"/>
<line x1="365.36" y1="72.9" x2="366.76" y2="72.9" stroke="#e8485a" stroke-width="0.5"/>
<rect x="368.29" y="66.6" width="1.4" height="9.3" fill="#b2b2f5" stroke="#5c5cea" stroke-width="0.6"/>
<line x1="368.29" y1="70.9" x2="369.69" y2="70.9" stroke="#e8485a" stroke-width="0.5"/>
<rect x="371.22" y="53.5" width="1.4" height="25.2" fill="#b2b2f5" stroke="#5c5cea" stroke-width="0.6"/>
<line x1="371.22" y1="69.7" x2="372.62" y2="69.7" stroke="#e8485a" stroke-width="0.5"/>
<rect x="374.15" y="46.0" width="1.4" height="20.6" fill="#b2b2f5" stroke="#5c5cea" stroke-width="0.6"/>
<line x1="374.15" y1="57.0" x2="375.55" y2="57.0" stroke="#e8485a" stroke-width="0.5"/>
<rect x="377.08" y="60.0" width="1.4" height="19.6" fill="#b2b2f5" stroke="#5c5cea" stroke-width="0.6"/>
<line x1="377.08" y1="68.0" x2="378.48" y2="68.0" stroke="#e8485a" stroke-width="0.5"/>
<rect x="380.01" y="46.0" width="1.4" height="32.7" fill="#b2b2f5" stroke="#5c5cea" stroke-width="0.6"/>
<line x1="380.01" y1="58.7" x2="381.41" y2="58.7" stroke="#e8485a" stroke-width="0.5"/>
<rect x="382.94" y="46.0" width="1.4" height="18.7" fill="#b2b2f5" stroke="#5c5cea" stroke-width="0.6"/>
<line x1="382.94" y1="51.8" x2="384.34" y2="51.8" stroke="#e8485a" stroke-width="0.5"/>
<rect x="385.87" y="46.0" width="1.4" height="33.6" fill="#b2b2f5" stroke="#5c5cea" stroke-width="0.6"/>
<line x1="385.87" y1="62.5" x2="387.27" y2="62.5" stroke="#e8485a" stroke-width="0.5"/>
<rect x="388.80" y="49.7" width="1.4" height="24.3" fill="#b2b2f5" stroke="#5c5cea" stroke-width="0.6"/>
<line x1="388.80" y1="60.7" x2="390.20" y2="60.7" stroke="#e8485a" stroke-width="0.5"/>
<rect x="391.73" y="57.2" width="1.4" height="22.4" fill="#b2b2f5" stroke="#5c5cea" stroke-width="0.6"/>
<line x1="391.73" y1="65.5" x2="393.13" y2="65.5" stroke="#e8485a" stroke-width="0.5"/>
<rect x="394.66" y="46.0" width="1.4" height="28.0" fill="#b2b2f5" stroke="#5c5cea" stroke-width="0.6"/>
<line x1="394.66" y1="58.4" x2="396.06" y2="58.4" stroke="#e8485a" stroke-width="0.5"/>
<rect x="397.59" y="47.9" width="1.4" height="31.7" fill="#b2b2f5" stroke="#5c5cea" stroke-width="0.6"/>
<line x1="397.59" y1="61.5" x2="398.99" y2="61.5" stroke="#e8485a" stroke-width="0.5"/>
<rect x="400.52" y="57.2" width="1.4" height="13.1" fill="#b2b2f5" stroke="#5c5cea" stroke-width="0.6"/>
<line x1="400.52" y1="65.2" x2="401.92" y2="65.2" stroke="#e8485a" stroke-width="0.5"/>
<rect x="403.45" y="55.3" width="1.4" height="24.3" fill="#b2b2f5" stroke="#5c5cea" stroke-width="0.6"/>
<line x1="403.45" y1="64.0" x2="404.85" y2="64.0" stroke="#e8485a" stroke-width="0.5"/>
<rect x="406.38" y="46.0" width="1.4" height="24.3" fill="#b2b2f5" stroke="#5c5cea" stroke-width="0.6"/>
<line x1="406.38" y1="62.9" x2="407.78" y2="62.9" stroke="#e8485a" stroke-width="0.5"/>
<rect x="409.31" y="46.0" width="1.4" height="35.5" fill="#b2b2f5" stroke="#5c5cea" stroke-width="0.6"/>
<line x1="409.31" y1="63.5" x2="410.71" y2="63.5" stroke="#e8485a" stroke-width="0.5"/>
<rect x="412.24" y="46.0" width="1.4" height="37.4" fill="#b2b2f5" stroke="#5c5cea" stroke-width="0.6"/>
<line x1="412.24" y1="66.2" x2="413.64" y2="66.2" stroke="#e8485a" stroke-width="0.5"/>
<rect x="415.17" y="46.0" width="1.4" height="31.8" fill="#b2b2f5" stroke="#5c5cea" stroke-width="0.6"/>
<line x1="415.17" y1="61.5" x2="416.57" y2="61.5" stroke="#e8485a" stroke-width="0.5"/>
<circle cx="37.9" cy="28.2" r="1.9" fill="none" stroke="#2a2a2a" stroke-width="0.75"/>
<circle cx="40.8" cy="63.2" r="1.9" fill="none" stroke="#2a2a2a" stroke-width="0.75"/>
<circle cx="43.8" cy="54.4" r="1.9" fill="none" stroke="#2a2a2a" stroke-width="0.75"/>
<circle cx="46.7" cy="12.3" r="1.9" fill="none" stroke="#2a2a2a" stroke-width="0.75"/>
<circle cx="49.6" cy="43.0" r="1.9" fill="none" stroke="#2a2a2a" stroke-width="0.75"/>
<circle cx="52.5" cy="47.5" r="1.9" fill="none" stroke="#2a2a2a" stroke-width="0.75"/>
<circle cx="55.5" cy="52.5" r="1.9" fill="none" stroke="#2a2a2a" stroke-width="0.75"/>
<circle cx="58.4" cy="52.5" r="1.9" fill="none" stroke="#2a2a2a" stroke-width="0.75"/>
<circle cx="61.3" cy="57.2" r="1.9" fill="none" stroke="#2a2a2a" stroke-width="0.75"/>
<circle cx="64.3" cy="18.8" r="1.9" fill="none" stroke="#2a2a2a" stroke-width="0.75"/>
<circle cx="67.2" cy="39.4" r="1.9" fill="none" stroke="#2a2a2a" stroke-width="0.75"/>
<circle cx="70.1" cy="45.9" r="1.9" fill="none" stroke="#2a2a2a" stroke-width="0.75"/>
<circle cx="73.1" cy="58.1" r="1.9" fill="none" stroke="#2a2a2a" stroke-width="0.75"/>
<circle cx="76.0" cy="38.4" r="1.9" fill="none" stroke="#2a2a2a" stroke-width="0.75"/>
<circle cx="78.9" cy="71.2" r="1.9" fill="none" stroke="#2a2a2a" stroke-width="0.75"/>
<circle cx="81.8" cy="47.9" r="1.9" fill="none" stroke="#2a2a2a" stroke-width="0.75"/>
<circle cx="84.8" cy="60.0" r="1.9" fill="none" stroke="#2a2a2a" stroke-width="0.75"/>
<circle cx="87.7" cy="40.0" r="1.9" fill="none" stroke="#2a2a2a" stroke-width="0.75"/>
<circle cx="90.6" cy="20.7" r="1.9" fill="none" stroke="#2a2a2a" stroke-width="0.75"/>
<circle cx="93.6" cy="17.0" r="1.9" fill="none" stroke="#2a2a2a" stroke-width="0.75"/>
<circle cx="96.5" cy="36.6" r="1.9" fill="none" stroke="#2a2a2a" stroke-width="0.75"/>
<circle cx="99.4" cy="20.7" r="1.9" fill="none" stroke="#2a2a2a" stroke-width="0.75"/>
<circle cx="102.4" cy="27.2" r="1.9" fill="none" stroke="#2a2a2a" stroke-width="0.75"/>
<circle cx="105.3" cy="48.8" r="1.9" fill="none" stroke="#2a2a2a" stroke-width="0.75"/>
<circle cx="108.2" cy="40.3" r="1.9" fill="none" stroke="#2a2a2a" stroke-width="0.75"/>
<circle cx="111.2" cy="25.4" r="1.9" fill="none" stroke="#2a2a2a" stroke-width="0.75"/>
<circle cx="114.1" cy="67.5" r="1.9" fill="none" stroke="#2a2a2a" stroke-width="0.75"/>
<circle cx="117.0" cy="38.4" r="1.9" fill="none" stroke="#2a2a2a" stroke-width="0.75"/>
<circle cx="119.9" cy="66.6" r="1.9" fill="none" stroke="#2a2a2a" stroke-width="0.75"/>
<circle cx="122.9" cy="77.8" r="1.9" fill="none" stroke="#2a2a2a" stroke-width="0.75"/>
<circle cx="125.8" cy="69.4" r="1.9" fill="none" stroke="#2a2a2a" stroke-width="0.75"/>
<circle cx="128.7" cy="75.0" r="1.9" fill="none" stroke="#2a2a2a" stroke-width="0.75"/>
<circle cx="131.7" cy="59.1" r="1.9" fill="none" stroke="#2a2a2a" stroke-width="0.75"/>
<circle cx="134.6" cy="32.8" r="1.9" fill="none" stroke="#2a2a2a" stroke-width="0.75"/>
<circle cx="137.5" cy="48.8" r="1.9" fill="none" stroke="#2a2a2a" stroke-width="0.75"/>
<circle cx="140.5" cy="36.6" r="1.9" fill="none" stroke="#2a2a2a" stroke-width="0.75"/>
<circle cx="143.4" cy="41.3" r="1.9" fill="none" stroke="#2a2a2a" stroke-width="0.75"/>
<circle cx="146.3" cy="14.1" r="1.9" fill="none" stroke="#2a2a2a" stroke-width="0.75"/>
<circle cx="149.2" cy="32.8" r="1.9" fill="none" stroke="#2a2a2a" stroke-width="0.75"/>
<circle cx="152.2" cy="10.4" r="1.9" fill="none" stroke="#2a2a2a" stroke-width="0.75"/>
<circle cx="161.0" cy="19.8" r="1.9" fill="none" stroke="#2a2a2a" stroke-width="0.75"/>
<circle cx="163.9" cy="41.3" r="1.9" fill="none" stroke="#2a2a2a" stroke-width="0.75"/>
<circle cx="166.8" cy="7.6" r="1.9" fill="none" stroke="#2a2a2a" stroke-width="0.75"/>
<circle cx="169.8" cy="15.1" r="1.9" fill="none" stroke="#2a2a2a" stroke-width="0.75"/>
<circle cx="172.7" cy="14.1" r="1.9" fill="none" stroke="#2a2a2a" stroke-width="0.75"/>
<circle cx="175.6" cy="29.1" r="1.9" fill="none" stroke="#2a2a2a" stroke-width="0.75"/>
<circle cx="178.5" cy="27.2" r="1.9" fill="none" stroke="#2a2a2a" stroke-width="0.75"/>
<circle cx="181.5" cy="21.6" r="1.9" fill="none" stroke="#2a2a2a" stroke-width="0.75"/>
<circle cx="184.4" cy="59.1" r="1.9" fill="none" stroke="#2a2a2a" stroke-width="0.75"/>
<circle cx="187.3" cy="26.3" r="1.9" fill="none" stroke="#2a2a2a" stroke-width="0.75"/>
<circle cx="190.3" cy="74.0" r="1.9" fill="none" stroke="#2a2a2a" stroke-width="0.75"/>
<circle cx="193.2" cy="76.8" r="1.9" fill="none" stroke="#2a2a2a" stroke-width="0.75"/>
<circle cx="196.1" cy="78.7" r="1.9" fill="none" stroke="#2a2a2a" stroke-width="0.75"/>
<circle cx="199.1" cy="63.8" r="1.9" fill="none" stroke="#2a2a2a" stroke-width="0.75"/>
<circle cx="202.0" cy="80.6" r="1.9" fill="none" stroke="#2a2a2a" stroke-width="0.75"/>
<circle cx="204.9" cy="46.9" r="1.9" fill="none" stroke="#2a2a2a" stroke-width="0.75"/>
<circle cx="207.8" cy="56.3" r="1.9" fill="none" stroke="#2a2a2a" stroke-width="0.75"/>
<circle cx="210.8" cy="61.9" r="1.9" fill="none" stroke="#2a2a2a" stroke-width="0.75"/>
<circle cx="213.7" cy="80.6" r="1.9" fill="none" stroke="#2a2a2a" stroke-width="0.75"/>
<circle cx="216.6" cy="59.1" r="1.9" fill="none" stroke="#2a2a2a" stroke-width="0.75"/>
<circle cx="219.6" cy="69.4" r="1.9" fill="none" stroke="#2a2a2a" stroke-width="0.75"/>
<circle cx="222.5" cy="69.4" r="1.9" fill="none" stroke="#2a2a2a" stroke-width="0.75"/>
<circle cx="225.4" cy="64.7" r="1.9" fill="none" stroke="#2a2a2a" stroke-width="0.75"/>
<circle cx="228.4" cy="72.2" r="1.9" fill="none" stroke="#2a2a2a" stroke-width="0.75"/>
<circle cx="231.3" cy="52.5" r="1.9" fill="none" stroke="#2a2a2a" stroke-width="0.75"/>
<circle cx="234.2" cy="45.0" r="1.9" fill="none" stroke="#2a2a2a" stroke-width="0.75"/>
<circle cx="237.1" cy="45.0" r="1.9" fill="none" stroke="#2a2a2a" stroke-width="0.75"/>
<circle cx="240.1" cy="32.8" r="1.9" fill="none" stroke="#2a2a2a" stroke-width="0.75"/>
<circle cx="243.0" cy="23.5" r="1.9" fill="none" stroke="#2a2a2a" stroke-width="0.75"/>
<circle cx="245.9" cy="38.4" r="1.9" fill="none" stroke="#2a2a2a" stroke-width="0.75"/>
<circle cx="248.9" cy="17.9" r="1.9" fill="none" stroke="#2a2a2a" stroke-width="0.75"/>
<circle cx="251.8" cy="15.0" r="1.9" fill="none" stroke="#2a2a2a" stroke-width="0.75"/>
<circle cx="254.7" cy="11.3" r="1.9" fill="none" stroke="#2a2a2a" stroke-width="0.75"/>
<circle cx="257.6" cy="46.9" r="1.9" fill="none" stroke="#2a2a2a" stroke-width="0.75"/>
<circle cx="260.6" cy="14.1" r="1.9" fill="none" stroke="#2a2a2a" stroke-width="0.75"/>
<circle cx="263.5" cy="38.4" r="1.9" fill="none" stroke="#2a2a2a" stroke-width="0.75"/>
<circle cx="266.4" cy="19.8" r="1.9" fill="none" stroke="#2a2a2a" stroke-width="0.75"/>
<circle cx="269.4" cy="22.6" r="1.9" fill="none" stroke="#2a2a2a" stroke-width="0.75"/>
<circle cx="272.3" cy="24.4" r="1.9" fill="none" stroke="#2a2a2a" stroke-width="0.75"/>
<circle cx="275.2" cy="11.3" r="1.9" fill="none" stroke="#2a2a2a" stroke-width="0.75"/>
<circle cx="278.2" cy="31.9" r="1.9" fill="none" stroke="#2a2a2a" stroke-width="0.75"/>
<circle cx="281.1" cy="42.2" r="1.9" fill="none" stroke="#2a2a2a" stroke-width="0.75"/>
<circle cx="284.0" cy="5.7" r="1.9" fill="none" stroke="#2a2a2a" stroke-width="0.75"/>
<circle cx="286.9" cy="5.7" r="1.9" fill="none" stroke="#2a2a2a" stroke-width="0.75"/>
<circle cx="289.9" cy="49.7" r="1.9" fill="none" stroke="#2a2a2a" stroke-width="0.75"/>
<circle cx="292.8" cy="10.4" r="1.9" fill="none" stroke="#2a2a2a" stroke-width="0.75"/>
<circle cx="295.7" cy="10.4" r="1.9" fill="none" stroke="#2a2a2a" stroke-width="0.75"/>
<circle cx="298.7" cy="39.4" r="1.9" fill="none" stroke="#2a2a2a" stroke-width="0.75"/>
<circle cx="301.6" cy="53.5" r="1.9" fill="none" stroke="#2a2a2a" stroke-width="0.75"/>
<circle cx="304.5" cy="22.6" r="1.9" fill="none" stroke="#2a2a2a" stroke-width="0.75"/>
<circle cx="307.5" cy="17.9" r="1.9" fill="none" stroke="#2a2a2a" stroke-width="0.75"/>
<circle cx="310.4" cy="33.8" r="1.9" fill="none" stroke="#2a2a2a" stroke-width="0.75"/>
<circle cx="313.3" cy="61.0" r="1.9" fill="none" stroke="#2a2a2a" stroke-width="0.75"/>
<circle cx="316.2" cy="18.4" r="1.9" fill="none" stroke="#2a2a2a" stroke-width="0.75"/>
<circle cx="319.2" cy="32.8" r="1.9" fill="none" stroke="#2a2a2a" stroke-width="0.75"/>
<circle cx="322.1" cy="69.4" r="1.9" fill="none" stroke="#2a2a2a" stroke-width="0.75"/>
<circle cx="325.0" cy="55.3" r="1.9" fill="none" stroke="#2a2a2a" stroke-width="0.75"/>
<circle cx="328.0" cy="72.2" r="1.9" fill="none" stroke="#2a2a2a" stroke-width="0.75"/>
<circle cx="330.9" cy="74.0" r="1.9" fill="none" stroke="#2a2a2a" stroke-width="0.75"/>
<circle cx="333.8" cy="31.5" r="1.9" fill="none" stroke="#2a2a2a" stroke-width="0.75"/>
<circle cx="336.8" cy="64.1" r="1.9" fill="none" stroke="#2a2a2a" stroke-width="0.75"/>
<circle cx="339.7" cy="32.8" r="1.9" fill="none" stroke="#2a2a2a" stroke-width="0.75"/>
<circle cx="342.6" cy="79.6" r="1.9" fill="none" stroke="#2a2a2a" stroke-width="0.75"/>
<circle cx="345.6" cy="63.8" r="1.9" fill="none" stroke="#2a2a2a" stroke-width="0.75"/>
<circle cx="348.5" cy="78.7" r="1.9" fill="none" stroke="#2a2a2a" stroke-width="0.75"/>
<circle cx="351.4" cy="57.2" r="1.9" fill="none" stroke="#2a2a2a" stroke-width="0.75"/>
<circle cx="354.3" cy="61.9" r="1.9" fill="none" stroke="#2a2a2a" stroke-width="0.75"/>
<circle cx="357.3" cy="41.3" r="1.9" fill="none" stroke="#2a2a2a" stroke-width="0.75"/>
<circle cx="360.2" cy="79.6" r="1.9" fill="none" stroke="#2a2a2a" stroke-width="0.75"/>
<circle cx="363.1" cy="76.8" r="1.9" fill="none" stroke="#2a2a2a" stroke-width="0.75"/>
<circle cx="366.1" cy="46.0" r="1.9" fill="none" stroke="#2a2a2a" stroke-width="0.75"/>
<circle cx="369.0" cy="77.8" r="1.9" fill="none" stroke="#2a2a2a" stroke-width="0.75"/>
<circle cx="371.9" cy="48.8" r="1.9" fill="none" stroke="#2a2a2a" stroke-width="0.75"/>
<circle cx="374.9" cy="53.5" r="1.9" fill="none" stroke="#2a2a2a" stroke-width="0.75"/>
<circle cx="377.8" cy="79.6" r="1.9" fill="none" stroke="#2a2a2a" stroke-width="0.75"/>
<circle cx="380.7" cy="55.3" r="1.9" fill="none" stroke="#2a2a2a" stroke-width="0.75"/>
<circle cx="383.6" cy="60.0" r="1.9" fill="none" stroke="#2a2a2a" stroke-width="0.75"/>
<circle cx="386.6" cy="60.0" r="1.9" fill="none" stroke="#2a2a2a" stroke-width="0.75"/>
<circle cx="389.5" cy="49.7" r="1.9" fill="none" stroke="#2a2a2a" stroke-width="0.75"/>
<circle cx="392.4" cy="64.7" r="1.9" fill="none" stroke="#2a2a2a" stroke-width="0.75"/>
<circle cx="395.4" cy="60.0" r="1.9" fill="none" stroke="#2a2a2a" stroke-width="0.75"/>
<circle cx="398.3" cy="55.3" r="1.9" fill="none" stroke="#2a2a2a" stroke-width="0.75"/>
<circle cx="401.2" cy="68.4" r="1.9" fill="none" stroke="#2a2a2a" stroke-width="0.75"/>
<circle cx="404.1" cy="65.6" r="1.9" fill="none" stroke="#2a2a2a" stroke-width="0.75"/>
<circle cx="407.1" cy="63.8" r="1.9" fill="none" stroke="#2a2a2a" stroke-width="0.75"/>
<circle cx="410.0" cy="47.9" r="1.9" fill="none" stroke="#2a2a2a" stroke-width="0.75"/>
<circle cx="412.9" cy="72.2" r="1.9" fill="none" stroke="#2a2a2a" stroke-width="0.75"/>
<circle cx="415.9" cy="72.2" r="1.9" fill="none" stroke="#2a2a2a" stroke-width="0.75"/>
<path d="M367.4 41.3h4M369.4 39.3v4" stroke="#f03a3a" stroke-width="0.8"/>
<path d="M83.0 75.0h4M85.0 73.0v4" stroke="#f03a3a" stroke-width="0.8"/>
<path d="M83.0 80.6h4M85.0 78.6v4" stroke="#f03a3a" stroke-width="0.8"/>
<path d="M98.5 51.6h4M100.5 49.6v4" stroke="#f03a3a" stroke-width="0.8"/>
<path d="M222.2 46.9h4M224.2 44.9v4" stroke="#f03a3a" stroke-width="0.8"/>
<path d="M222.2 80.6h4M224.2 78.6v4" stroke="#f03a3a" stroke-width="0.8"/>
<path d="M319.8 25.4h4M321.8 23.4v4" stroke="#f03a3a" stroke-width="0.8"/>
<path d="M364.0 45.9h4M366.0 43.9v4" stroke="#f03a3a" stroke-width="0.8"/>
<path d="M369.8 48.8h4M371.8 46.8v4" stroke="#f03a3a" stroke-width="0.8"/>
<circle cx="156.2" cy="52" r="1.9" fill="#e84848" stroke="#333" stroke-width="0.6"/>
<circle cx="381.2" cy="44.0" r="1.9" fill="none" stroke="#2a2a2a" stroke-width="0.75"/>
<circle cx="392.4" cy="45.9" r="1.9" fill="none" stroke="#2a2a2a" stroke-width="0.75"/>
<circle cx="89.3" cy="49.7" r="1.9" fill="none" stroke="#2a2a2a" stroke-width="0.75"/>
<line x1="40.7" y1="161.5" x2="40.7" y2="215.2" stroke="#333" stroke-width="0.8" stroke-dasharray="3.2 2"/>
<line x1="43.5" y1="190.0" x2="43.5" y2="211.4" stroke="#333" stroke-width="0.8" stroke-dasharray="3.2 2"/>
<line x1="46.8" y1="146.0" x2="46.8" y2="186.2" stroke="#333" stroke-width="0.8" stroke-dasharray="3.2 2"/>
<line x1="49.5" y1="186.0" x2="49.5" y2="211.4" stroke="#333" stroke-width="0.8" stroke-dasharray="3.2 2"/>
<line x1="52.4" y1="157.0" x2="52.4" y2="209.6" stroke="#333" stroke-width="0.8" stroke-dasharray="3.2 2"/>
<line x1="54.7" y1="200.0" x2="54.7" y2="218.0" stroke="#333" stroke-width="0.8" stroke-dasharray="3.2 2"/>
<line x1="58.0" y1="185.0" x2="58.0" y2="213.3" stroke="#333" stroke-width="0.8" stroke-dasharray="3.2 2"/>
<line x1="61.2" y1="185.0" x2="61.2" y2="215.2" stroke="#333" stroke-width="0.8" stroke-dasharray="3.2 2"/>
<line x1="64.0" y1="131.0" x2="64.0" y2="215.2" stroke="#333" stroke-width="0.8" stroke-dasharray="3.2 2"/>
<line x1="66.8" y1="205.0" x2="66.8" y2="217.5" stroke="#333" stroke-width="0.8" stroke-dasharray="3.2 2"/>
<line x1="69.6" y1="206.0" x2="69.6" y2="218.0" stroke="#333" stroke-width="0.8" stroke-dasharray="3.2 2"/>
<line x1="72.6" y1="178.6" x2="72.6" y2="217.0" stroke="#333" stroke-width="0.8" stroke-dasharray="3.2 2"/>
<line x1="76.2" y1="200.0" x2="76.2" y2="218.0" stroke="#333" stroke-width="0.8" stroke-dasharray="3.2 2"/>
<line x1="79.0" y1="200.0" x2="79.0" y2="218.0" stroke="#333" stroke-width="0.8" stroke-dasharray="3.2 2"/>
<line x1="81.8" y1="203.0" x2="81.8" y2="218.0" stroke="#333" stroke-width="0.8" stroke-dasharray="3.2 2"/>
<line x1="85.0" y1="196.0" x2="85.0" y2="218.0" stroke="#333" stroke-width="0.8" stroke-dasharray="3.2 2"/>
<line x1="88.0" y1="170.0" x2="88.0" y2="218.0" stroke="#333" stroke-width="0.8" stroke-dasharray="3.2 2"/>
<line x1="90.8" y1="200.0" x2="90.8" y2="218.0" stroke="#333" stroke-width="0.8" stroke-dasharray="3.2 2"/>
<line x1="93.8" y1="205.0" x2="93.8" y2="218.0" stroke="#333" stroke-width="0.8" stroke-dasharray="3.2 2"/>
<line x1="96.7" y1="203.0" x2="96.7" y2="218.0" stroke="#333" stroke-width="0.8" stroke-dasharray="3.2 2"/>
<line x1="99.6" y1="204.0" x2="99.6" y2="218.0" stroke="#333" stroke-width="0.8" stroke-dasharray="3.2 2"/>
<line x1="102.4" y1="202.0" x2="102.4" y2="218.0" stroke="#333" stroke-width="0.8" stroke-dasharray="3.2 2"/>
<line x1="105.2" y1="202.0" x2="105.2" y2="218.0" stroke="#333" stroke-width="0.8" stroke-dasharray="3.2 2"/>
<line x1="108.0" y1="200.0" x2="108.0" y2="218.0" stroke="#333" stroke-width="0.8" stroke-dasharray="3.2 2"/>
<line x1="110.8" y1="198.0" x2="110.8" y2="217.0" stroke="#333" stroke-width="0.8" stroke-dasharray="3.2 2"/>
<line x1="113.6" y1="203.0" x2="113.6" y2="218.0" stroke="#333" stroke-width="0.8" stroke-dasharray="3.2 2"/>
<line x1="116.4" y1="203.0" x2="116.4" y2="218.0" stroke="#333" stroke-width="0.8" stroke-dasharray="3.2 2"/>
<line x1="119.2" y1="203.0" x2="119.2" y2="218.0" stroke="#333" stroke-width="0.8" stroke-dasharray="3.2 2"/>
<line x1="121.9" y1="205.0" x2="121.9" y2="218.0" stroke="#333" stroke-width="0.8" stroke-dasharray="3.2 2"/>
<line x1="124.8" y1="205.0" x2="124.8" y2="218.0" stroke="#333" stroke-width="0.8" stroke-dasharray="3.2 2"/>
<line x1="127.0" y1="203.0" x2="127.0" y2="218.0" stroke="#333" stroke-width="0.8" stroke-dasharray="3.2 2"/>
<line x1="129.6" y1="204.0" x2="129.6" y2="218.0" stroke="#333" stroke-width="0.8" stroke-dasharray="3.2 2"/>
<line x1="132.0" y1="203.0" x2="132.0" y2="218.0" stroke="#333" stroke-width="0.8" stroke-dasharray="3.2 2"/>
<line x1="134.6" y1="146.0" x2="134.6" y2="211.0" stroke="#333" stroke-width="0.8" stroke-dasharray="3.2 2"/>
<line x1="137.9" y1="200.0" x2="137.9" y2="218.0" stroke="#333" stroke-width="0.8" stroke-dasharray="3.2 2"/>
<line x1="141.0" y1="202.0" x2="141.0" y2="218.0" stroke="#333" stroke-width="0.8" stroke-dasharray="3.2 2"/>
<line x1="144.0" y1="202.0" x2="144.0" y2="218.0" stroke="#333" stroke-width="0.8" stroke-dasharray="3.2 2"/>
<line x1="147.2" y1="203.0" x2="147.2" y2="218.0" stroke="#333" stroke-width="0.8" stroke-dasharray="3.2 2"/>
<line x1="150.0" y1="199.0" x2="150.0" y2="218.0" stroke="#333" stroke-width="0.8" stroke-dasharray="3.2 2"/>
<line x1="152.8" y1="205.0" x2="152.8" y2="218.0" stroke="#333" stroke-width="0.8" stroke-dasharray="3.2 2"/>
<line x1="155.6" y1="204.4" x2="155.6" y2="218.0" stroke="#333" stroke-width="0.8" stroke-dasharray="3.2 2"/>
<line x1="158.5" y1="206.0" x2="158.5" y2="218.0" stroke="#333" stroke-width="0.8" stroke-dasharray="3.2 2"/>
<line x1="161.5" y1="207.7" x2="161.5" y2="218.0" stroke="#333" stroke-width="0.8" stroke-dasharray="3.2 2"/>
<line x1="164.4" y1="206.4" x2="164.4" y2="218.0" stroke="#333" stroke-width="0.8" stroke-dasharray="3.2 2"/>
<line x1="167.3" y1="206.5" x2="167.3" y2="218.0" stroke="#333" stroke-width="0.8" stroke-dasharray="3.2 2"/>
<line x1="170.3" y1="202.3" x2="170.3" y2="218.0" stroke="#333" stroke-width="0.8" stroke-dasharray="3.2 2"/>
<line x1="173.2" y1="205.4" x2="173.2" y2="218.0" stroke="#333" stroke-width="0.8" stroke-dasharray="3.2 2"/>
<line x1="175.6" y1="195.0" x2="175.6" y2="218.0" stroke="#333" stroke-width="0.8" stroke-dasharray="3.2 2"/>
<line x1="179.0" y1="206.2" x2="179.0" y2="218.0" stroke="#333" stroke-width="0.8" stroke-dasharray="3.2 2"/>
<line x1="182.0" y1="200.1" x2="182.0" y2="218.0" stroke="#333" stroke-width="0.8" stroke-dasharray="3.2 2"/>
<line x1="184.9" y1="203.3" x2="184.9" y2="218.0" stroke="#333" stroke-width="0.8" stroke-dasharray="3.2 2"/>
<line x1="187.8" y1="198.5" x2="187.8" y2="218.0" stroke="#333" stroke-width="0.8" stroke-dasharray="3.2 2"/>
<line x1="190.8" y1="204.3" x2="190.8" y2="218.0" stroke="#333" stroke-width="0.8" stroke-dasharray="3.2 2"/>
<line x1="193.7" y1="199.0" x2="193.7" y2="218.0" stroke="#333" stroke-width="0.8" stroke-dasharray="3.2 2"/>
<line x1="196.6" y1="206.0" x2="196.6" y2="218.0" stroke="#333" stroke-width="0.8" stroke-dasharray="3.2 2"/>
<line x1="199.6" y1="202.9" x2="199.6" y2="218.0" stroke="#333" stroke-width="0.8" stroke-dasharray="3.2 2"/>
<line x1="202.5" y1="205.5" x2="202.5" y2="218.0" stroke="#333" stroke-width="0.8" stroke-dasharray="3.2 2"/>
<line x1="205.4" y1="204.0" x2="205.4" y2="218.0" stroke="#333" stroke-width="0.8" stroke-dasharray="3.2 2"/>
<line x1="208.3" y1="204.6" x2="208.3" y2="218.0" stroke="#333" stroke-width="0.8" stroke-dasharray="3.2 2"/>
<line x1="211.3" y1="208.4" x2="211.3" y2="218.0" stroke="#333" stroke-width="0.8" stroke-dasharray="3.2 2"/>
<line x1="214.2" y1="204.3" x2="214.2" y2="218.0" stroke="#333" stroke-width="0.8" stroke-dasharray="3.2 2"/>
<line x1="217.1" y1="209.0" x2="217.1" y2="218.0" stroke="#333" stroke-width="0.8" stroke-dasharray="3.2 2"/>
<line x1="220.1" y1="206.2" x2="220.1" y2="218.0" stroke="#333" stroke-width="0.8" stroke-dasharray="3.2 2"/>
<line x1="223.0" y1="210.3" x2="223.0" y2="218.0" stroke="#333" stroke-width="0.8" stroke-dasharray="3.2 2"/>
<line x1="225.9" y1="203.5" x2="225.9" y2="218.0" stroke="#333" stroke-width="0.8" stroke-dasharray="3.2 2"/>
<line x1="228.0" y1="180.0" x2="228.0" y2="218.0" stroke="#333" stroke-width="0.8" stroke-dasharray="3.2 2"/>
<line x1="230.8" y1="176.7" x2="230.8" y2="218.0" stroke="#333" stroke-width="0.8" stroke-dasharray="3.2 2"/>
<line x1="234.7" y1="203.5" x2="234.7" y2="218.0" stroke="#333" stroke-width="0.8" stroke-dasharray="3.2 2"/>
<line x1="237.6" y1="199.5" x2="237.6" y2="218.0" stroke="#333" stroke-width="0.8" stroke-dasharray="3.2 2"/>
<line x1="240.6" y1="201.8" x2="240.6" y2="218.0" stroke="#333" stroke-width="0.8" stroke-dasharray="3.2 2"/>
<line x1="243.5" y1="203.0" x2="243.5" y2="218.0" stroke="#333" stroke-width="0.8" stroke-dasharray="3.2 2"/>
<line x1="246.4" y1="201.5" x2="246.4" y2="218.0" stroke="#333" stroke-width="0.8" stroke-dasharray="3.2 2"/>
<line x1="249.4" y1="207.6" x2="249.4" y2="218.0" stroke="#333" stroke-width="0.8" stroke-dasharray="3.2 2"/>
<line x1="252.3" y1="210.6" x2="252.3" y2="218.0" stroke="#333" stroke-width="0.8" stroke-dasharray="3.2 2"/>
<line x1="255.2" y1="204.4" x2="255.2" y2="218.0" stroke="#333" stroke-width="0.8" stroke-dasharray="3.2 2"/>
<line x1="258.2" y1="209.7" x2="258.2" y2="218.0" stroke="#333" stroke-width="0.8" stroke-dasharray="3.2 2"/>
<line x1="261.1" y1="206.3" x2="261.1" y2="218.0" stroke="#333" stroke-width="0.8" stroke-dasharray="3.2 2"/>
<line x1="264.0" y1="207.0" x2="264.0" y2="218.0" stroke="#333" stroke-width="0.8" stroke-dasharray="3.2 2"/>
<line x1="266.9" y1="211.6" x2="266.9" y2="218.0" stroke="#333" stroke-width="0.8" stroke-dasharray="3.2 2"/>
<line x1="269.9" y1="210.2" x2="269.9" y2="218.0" stroke="#333" stroke-width="0.8" stroke-dasharray="3.2 2"/>
<line x1="272.8" y1="204.7" x2="272.8" y2="218.0" stroke="#333" stroke-width="0.8" stroke-dasharray="3.2 2"/>
<line x1="275.7" y1="204.8" x2="275.7" y2="218.0" stroke="#333" stroke-width="0.8" stroke-dasharray="3.2 2"/>
<line x1="278.7" y1="206.5" x2="278.7" y2="218.0" stroke="#333" stroke-width="0.8" stroke-dasharray="3.2 2"/>
<line x1="281.6" y1="207.3" x2="281.6" y2="218.0" stroke="#333" stroke-width="0.8" stroke-dasharray="3.2 2"/>
<line x1="284.5" y1="204.2" x2="284.5" y2="218.0" stroke="#333" stroke-width="0.8" stroke-dasharray="3.2 2"/>
<line x1="287.5" y1="209.6" x2="287.5" y2="218.0" stroke="#333" stroke-width="0.8" stroke-dasharray="3.2 2"/>
<line x1="290.4" y1="203.9" x2="290.4" y2="218.0" stroke="#333" stroke-width="0.8" stroke-dasharray="3.2 2"/>
<line x1="293.3" y1="203.2" x2="293.3" y2="218.0" stroke="#333" stroke-width="0.8" stroke-dasharray="3.2 2"/>
<line x1="296.2" y1="201.5" x2="296.2" y2="218.0" stroke="#333" stroke-width="0.8" stroke-dasharray="3.2 2"/>
<line x1="299.2" y1="202.4" x2="299.2" y2="218.0" stroke="#333" stroke-width="0.8" stroke-dasharray="3.2 2"/>
<line x1="302.1" y1="203.3" x2="302.1" y2="218.0" stroke="#333" stroke-width="0.8" stroke-dasharray="3.2 2"/>
<line x1="305.0" y1="206.5" x2="305.0" y2="218.0" stroke="#333" stroke-width="0.8" stroke-dasharray="3.2 2"/>
<line x1="308.0" y1="206.5" x2="308.0" y2="218.0" stroke="#333" stroke-width="0.8" stroke-dasharray="3.2 2"/>
<line x1="310.9" y1="204.3" x2="310.9" y2="218.0" stroke="#333" stroke-width="0.8" stroke-dasharray="3.2 2"/>
<line x1="313.8" y1="205.0" x2="313.8" y2="218.0" stroke="#333" stroke-width="0.8" stroke-dasharray="3.2 2"/>
<line x1="315.7" y1="196.0" x2="315.7" y2="218.0" stroke="#333" stroke-width="0.8" stroke-dasharray="3.2 2"/>
<line x1="319.7" y1="206.4" x2="319.7" y2="218.0" stroke="#333" stroke-width="0.8" stroke-dasharray="3.2 2"/>
<line x1="322.6" y1="206.9" x2="322.6" y2="218.0" stroke="#333" stroke-width="0.8" stroke-dasharray="3.2 2"/>
<line x1="325.5" y1="204.4" x2="325.5" y2="218.0" stroke="#333" stroke-width="0.8" stroke-dasharray="3.2 2"/>
<line x1="328.5" y1="204.5" x2="328.5" y2="218.0" stroke="#333" stroke-width="0.8" stroke-dasharray="3.2 2"/>
<line x1="331.4" y1="203.1" x2="331.4" y2="218.0" stroke="#333" stroke-width="0.8" stroke-dasharray="3.2 2"/>
<line x1="334.3" y1="203.3" x2="334.3" y2="218.0" stroke="#333" stroke-width="0.8" stroke-dasharray="3.2 2"/>
<line x1="337.3" y1="208.9" x2="337.3" y2="218.0" stroke="#333" stroke-width="0.8" stroke-dasharray="3.2 2"/>
<line x1="340.2" y1="204.6" x2="340.2" y2="218.0" stroke="#333" stroke-width="0.8" stroke-dasharray="3.2 2"/>
<line x1="343.1" y1="204.7" x2="343.1" y2="218.0" stroke="#333" stroke-width="0.8" stroke-dasharray="3.2 2"/>
<line x1="345.6" y1="190.0" x2="345.6" y2="218.0" stroke="#333" stroke-width="0.8" stroke-dasharray="3.2 2"/>
<line x1="349.0" y1="206.9" x2="349.0" y2="218.0" stroke="#333" stroke-width="0.8" stroke-dasharray="3.2 2"/>
<line x1="351.9" y1="201.7" x2="351.9" y2="218.0" stroke="#333" stroke-width="0.8" stroke-dasharray="3.2 2"/>
<line x1="354.8" y1="208.8" x2="354.8" y2="218.0" stroke="#333" stroke-width="0.8" stroke-dasharray="3.2 2"/>
<line x1="357.8" y1="207.5" x2="357.8" y2="218.0" stroke="#333" stroke-width="0.8" stroke-dasharray="3.2 2"/>
<line x1="360.7" y1="203.9" x2="360.7" y2="218.0" stroke="#333" stroke-width="0.8" stroke-dasharray="3.2 2"/>
<line x1="363.6" y1="204.7" x2="363.6" y2="218.0" stroke="#333" stroke-width="0.8" stroke-dasharray="3.2 2"/>
<line x1="366.6" y1="208.9" x2="366.6" y2="218.0" stroke="#333" stroke-width="0.8" stroke-dasharray="3.2 2"/>
<line x1="369.5" y1="209.9" x2="369.5" y2="218.0" stroke="#333" stroke-width="0.8" stroke-dasharray="3.2 2"/>
<line x1="372.4" y1="211.0" x2="372.4" y2="218.0" stroke="#333" stroke-width="0.8" stroke-dasharray="3.2 2"/>
<line x1="375.4" y1="206.4" x2="375.4" y2="218.0" stroke="#333" stroke-width="0.8" stroke-dasharray="3.2 2"/>
<line x1="378.3" y1="204.8" x2="378.3" y2="218.0" stroke="#333" stroke-width="0.8" stroke-dasharray="3.2 2"/>
<line x1="381.2" y1="202.9" x2="381.2" y2="218.0" stroke="#333" stroke-width="0.8" stroke-dasharray="3.2 2"/>
<line x1="384.1" y1="206.7" x2="384.1" y2="218.0" stroke="#333" stroke-width="0.8" stroke-dasharray="3.2 2"/>
<line x1="386.8" y1="198.0" x2="386.8" y2="218.0" stroke="#333" stroke-width="0.8" stroke-dasharray="3.2 2"/>
<line x1="390.0" y1="208.4" x2="390.0" y2="218.0" stroke="#333" stroke-width="0.8" stroke-dasharray="3.2 2"/>
<line x1="392.9" y1="207.3" x2="392.9" y2="218.0" stroke="#333" stroke-width="0.8" stroke-dasharray="3.2 2"/>
<line x1="395.9" y1="204.8" x2="395.9" y2="218.0" stroke="#333" stroke-width="0.8" stroke-dasharray="3.2 2"/>
<line x1="398.8" y1="204.9" x2="398.8" y2="218.0" stroke="#333" stroke-width="0.8" stroke-dasharray="3.2 2"/>
<line x1="401.7" y1="207.8" x2="401.7" y2="218.0" stroke="#333" stroke-width="0.8" stroke-dasharray="3.2 2"/>
<line x1="404.7" y1="208.0" x2="404.7" y2="218.0" stroke="#333" stroke-width="0.8" stroke-dasharray="3.2 2"/>
<line x1="407.6" y1="201.7" x2="407.6" y2="218.0" stroke="#333" stroke-width="0.8" stroke-dasharray="3.2 2"/>
<line x1="410.5" y1="204.5" x2="410.5" y2="218.0" stroke="#333" stroke-width="0.8" stroke-dasharray="3.2 2"/>
<line x1="413.4" y1="203.7" x2="413.4" y2="218.0" stroke="#333" stroke-width="0.8" stroke-dasharray="3.2 2"/>
<rect x="39.95" y="175.8" width="1.5" height="37.4" fill="#b2b2f5" stroke="#5c5cea" stroke-width="0.6"/>
<line x1="39.60" y1="196.6" x2="41.80" y2="196.6" stroke="#e8485a" stroke-width="0.5"/>
<rect x="42.75" y="198.2" width="1.5" height="11.2" fill="#b2b2f5" stroke="#5c5cea" stroke-width="0.6"/>
<line x1="42.40" y1="204.8" x2="44.60" y2="204.8" stroke="#e8485a" stroke-width="0.5"/>
<rect x="46.05" y="150.0" width="1.5" height="34.2" fill="#b2b2f5" stroke="#5c5cea" stroke-width="0.6"/>
<line x1="45.70" y1="163.2" x2="47.90" y2="163.2" stroke="#e8485a" stroke-width="0.5"/>
<rect x="48.75" y="194.5" width="1.5" height="14.9" fill="#b2b2f5" stroke="#5c5cea" stroke-width="0.6"/>
<line x1="48.40" y1="204.3" x2="50.60" y2="204.3" stroke="#e8485a" stroke-width="0.5"/>
<rect x="51.65" y="183.3" width="1.5" height="24.3" fill="#b2b2f5" stroke="#5c5cea" stroke-width="0.6"/>
<line x1="51.30" y1="200.1" x2="53.50" y2="200.1" stroke="#e8485a" stroke-width="0.5"/>
<rect x="53.95" y="206.6" width="1.5" height="9.4" fill="#b2b2f5" stroke="#5c5cea" stroke-width="0.6"/>
<line x1="53.60" y1="213.1" x2="55.80" y2="213.1" stroke="#e8485a" stroke-width="0.5"/>
<rect x="57.25" y="195.4" width="1.5" height="15.9" fill="#b2b2f5" stroke="#5c5cea" stroke-width="0.6"/>
<line x1="56.90" y1="203.6" x2="59.10" y2="203.6" stroke="#e8485a" stroke-width="0.5"/>
<rect x="60.45" y="194.5" width="1.5" height="18.7" fill="#b2b2f5" stroke="#5c5cea" stroke-width="0.6"/>
<line x1="60.10" y1="206.0" x2="62.30" y2="206.0" stroke="#e8485a" stroke-width="0.5"/>
<rect x="63.25" y="171.0" width="1.5" height="42.2" fill="#b2b2f5" stroke="#5c5cea" stroke-width="0.6"/>
<line x1="62.90" y1="189.1" x2="65.10" y2="189.1" stroke="#e8485a" stroke-width="0.5"/>
<rect x="66.05" y="210.0" width="1.5" height="5.5" fill="#b2b2f5" stroke="#5c5cea" stroke-width="0.6"/>
<line x1="65.70" y1="213.7" x2="67.90" y2="213.7" stroke="#e8485a" stroke-width="0.5"/>
<rect x="68.85" y="211.5" width="1.5" height="4.5" fill="#b2b2f5" stroke="#5c5cea" stroke-width="0.6"/>
<line x1="68.50" y1="214.4" x2="70.70" y2="214.4" stroke="#e8485a" stroke-width="0.5"/>
<rect x="71.85" y="202.0" width="1.5" height="13.0" fill="#b2b2f5" stroke="#5c5cea" stroke-width="0.6"/>
<line x1="71.50" y1="207.7" x2="73.70" y2="207.7" stroke="#e8485a" stroke-width="0.5"/>
<rect x="75.45" y="207.6" width="1.5" height="8.4" fill="#b2b2f5" stroke="#5c5cea" stroke-width="0.6"/>
<line x1="75.10" y1="210.4" x2="77.30" y2="210.4" stroke="#e8485a" stroke-width="0.5"/>
<rect x="78.25" y="207.6" width="1.5" height="8.4" fill="#b2b2f5" stroke="#5c5cea" stroke-width="0.6"/>
<line x1="77.90" y1="211.6" x2="80.10" y2="211.6" stroke="#e8485a" stroke-width="0.5"/>
<rect x="81.05" y="209.0" width="1.5" height="7.0" fill="#b2b2f5" stroke="#5c5cea" stroke-width="0.6"/>
<line x1="80.70" y1="212.6" x2="82.90" y2="212.6" stroke="#e8485a" stroke-width="0.5"/>
<rect x="84.25" y="205.7" width="1.5" height="10.3" fill="#b2b2f5" stroke="#5c5cea" stroke-width="0.6"/>
<line x1="83.90" y1="212.0" x2="86.10" y2="212.0" stroke="#e8485a" stroke-width="0.5"/>
<rect x="87.25" y="178.6" width="1.5" height="37.4" fill="#b2b2f5" stroke="#5c5cea" stroke-width="0.6"/>
<line x1="86.90" y1="197.1" x2="89.10" y2="197.1" stroke="#e8485a" stroke-width="0.5"/>
<rect x="90.05" y="206.0" width="1.5" height="10.0" fill="#b2b2f5" stroke="#5c5cea" stroke-width="0.6"/>
<line x1="89.70" y1="209.1" x2="91.90" y2="209.1" stroke="#e8485a" stroke-width="0.5"/>
<rect x="93.05" y="210.4" width="1.5" height="5.6" fill="#b2b2f5" stroke="#5c5cea" stroke-width="0.6"/>
<line x1="92.70" y1="213.9" x2="94.90" y2="213.9" stroke="#e8485a" stroke-width="0.5"/>
<rect x="95.95" y="209.0" width="1.5" height="7.0" fill="#b2b2f5" stroke="#5c5cea" stroke-width="0.6"/>
<line x1="95.60" y1="211.3" x2="97.80" y2="211.3" stroke="#e8485a" stroke-width="0.5"/>
<rect x="98.85" y="210.4" width="1.5" height="5.6" fill="#b2b2f5" stroke="#5c5cea" stroke-width="0.6"/>
<line x1="98.50" y1="213.9" x2="100.70" y2="213.9" stroke="#e8485a" stroke-width="0.5"/>
<rect x="101.65" y="208.5" width="1.5" height="7.5" fill="#b2b2f5" stroke="#5c5cea" stroke-width="0.6"/>
<line x1="101.30" y1="211.3" x2="103.50" y2="211.3" stroke="#e8485a" stroke-width="0.5"/>
<rect x="104.45" y="208.5" width="1.5" height="7.5" fill="#b2b2f5" stroke="#5c5cea" stroke-width="0.6"/>
<line x1="104.10" y1="211.8" x2="106.30" y2="211.8" stroke="#e8485a" stroke-width="0.5"/>
<rect x="107.25" y="208.5" width="1.5" height="7.5" fill="#b2b2f5" stroke="#5c5cea" stroke-width="0.6"/>
<line x1="106.90" y1="213.1" x2="109.10" y2="213.1" stroke="#e8485a" stroke-width="0.5"/>
<rect x="110.05" y="204.8" width="1.5" height="10.2" fill="#b2b2f5" stroke="#5c5cea" stroke-width="0.6"/>
<line x1="109.70" y1="208.4" x2="111.90" y2="208.4" stroke="#e8485a" stroke-width="0.5"/>
<rect x="112.85" y="208.5" width="1.5" height="7.5" fill="#b2b2f5" stroke="#5c5cea" stroke-width="0.6"/>
<line x1="112.50" y1="211.2" x2="114.70" y2="211.2" stroke="#e8485a" stroke-width="0.5"/>
<rect x="115.65" y="208.5" width="1.5" height="7.5" fill="#b2b2f5" stroke="#5c5cea" stroke-width="0.6"/>
<line x1="115.30" y1="212.3" x2="117.50" y2="212.3" stroke="#e8485a" stroke-width="0.5"/>
<rect x="118.45" y="208.5" width="1.5" height="7.5" fill="#b2b2f5" stroke="#5c5cea" stroke-width="0.6"/>
<line x1="118.10" y1="212.9" x2="120.30" y2="212.9" stroke="#e8485a" stroke-width="0.5"/>
<rect x="121.15" y="210.4" width="1.5" height="5.6" fill="#b2b2f5" stroke="#5c5cea" stroke-width="0.6"/>
<line x1="120.80" y1="214.0" x2="123.00" y2="214.0" stroke="#e8485a" stroke-width="0.5"/>
<rect x="124.05" y="211.0" width="1.5" height="5.0" fill="#b2b2f5" stroke="#5c5cea" stroke-width="0.6"/>
<line x1="123.70" y1="213.9" x2="125.90" y2="213.9" stroke="#e8485a" stroke-width="0.5"/>
<rect x="126.25" y="210.0" width="1.5" height="6.0" fill="#b2b2f5" stroke="#5c5cea" stroke-width="0.6"/>
<line x1="125.90" y1="214.1" x2="128.10" y2="214.1" stroke="#e8485a" stroke-width="0.5"/>
<rect x="128.85" y="210.4" width="1.5" height="5.6" fill="#b2b2f5" stroke="#5c5cea" stroke-width="0.6"/>
<line x1="128.50" y1="213.2" x2="130.70" y2="213.2" stroke="#e8485a" stroke-width="0.5"/>
<rect x="131.25" y="208.5" width="1.5" height="7.5" fill="#b2b2f5" stroke="#5c5cea" stroke-width="0.6"/>
<line x1="130.90" y1="213.6" x2="133.10" y2="213.6" stroke="#e8485a" stroke-width="0.5"/>
<rect x="133.85" y="156.0" width="1.5" height="53.0" fill="#b2b2f5" stroke="#5c5cea" stroke-width="0.6"/>
<line x1="133.50" y1="173.7" x2="135.70" y2="173.7" stroke="#e8485a" stroke-width="0.5"/>
<rect x="137.15" y="206.6" width="1.5" height="9.4" fill="#b2b2f5" stroke="#5c5cea" stroke-width="0.6"/>
<line x1="136.80" y1="210.3" x2="139.00" y2="210.3" stroke="#e8485a" stroke-width="0.5"/>
<rect x="140.25" y="208.5" width="1.5" height="7.5" fill="#b2b2f5" stroke="#5c5cea" stroke-width="0.6"/>
<line x1="139.90" y1="212.3" x2="142.10" y2="212.3" stroke="#e8485a" stroke-width="0.5"/>
<rect x="143.25" y="208.5" width="1.5" height="7.5" fill="#b2b2f5" stroke="#5c5cea" stroke-width="0.6"/>
<line x1="142.90" y1="211.6" x2="145.10" y2="211.6" stroke="#e8485a" stroke-width="0.5"/>
<rect x="146.45" y="208.5" width="1.5" height="7.5" fill="#b2b2f5" stroke="#5c5cea" stroke-width="0.6"/>
<line x1="146.10" y1="212.9" x2="148.30" y2="212.9" stroke="#e8485a" stroke-width="0.5"/>
<rect x="149.25" y="205.0" width="1.5" height="11.0" fill="#b2b2f5" stroke="#5c5cea" stroke-width="0.6"/>
<line x1="148.90" y1="211.1" x2="151.10" y2="211.1" stroke="#e8485a" stroke-width="0.5"/>
<rect x="152.05" y="210.4" width="1.5" height="5.6" fill="#b2b2f5" stroke="#5c5cea" stroke-width="0.6"/>
<line x1="151.70" y1="213.3" x2="153.90" y2="213.3" stroke="#e8485a" stroke-width="0.5"/>
<rect x="154.85" y="211.1" width="1.5" height="5.9" fill="#b2b2f5" stroke="#5c5cea" stroke-width="0.6"/>
<line x1="154.50" y1="214.8" x2="156.70" y2="214.8" stroke="#e8485a" stroke-width="0.5"/>
<rect x="157.78" y="211.0" width="1.5" height="6.0" fill="#b2b2f5" stroke="#5c5cea" stroke-width="0.6"/>
<line x1="157.43" y1="214.1" x2="159.63" y2="214.1" stroke="#e8485a" stroke-width="0.5"/>
<rect x="160.71" y="212.8" width="1.5" height="4.2" fill="#b2b2f5" stroke="#5c5cea" stroke-width="0.6"/>
<line x1="160.36" y1="214.6" x2="162.56" y2="214.6" stroke="#e8485a" stroke-width="0.5"/>
<rect x="163.64" y="208.8" width="1.5" height="8.2" fill="#b2b2f5" stroke="#5c5cea" stroke-width="0.6"/>
<line x1="163.29" y1="212.5" x2="165.49" y2="212.5" stroke="#e8485a" stroke-width="0.5"/>
<rect x="166.57" y="208.7" width="1.5" height="8.3" fill="#b2b2f5" stroke="#5c5cea" stroke-width="0.6"/>
<line x1="166.22" y1="214.0" x2="168.42" y2="214.0" stroke="#e8485a" stroke-width="0.5"/>
<rect x="169.50" y="207.6" width="1.5" height="9.4" fill="#b2b2f5" stroke="#5c5cea" stroke-width="0.6"/>
<line x1="169.15" y1="213.8" x2="171.35" y2="213.8" stroke="#e8485a" stroke-width="0.5"/>
<rect x="172.43" y="210.0" width="1.5" height="7.0" fill="#b2b2f5" stroke="#5c5cea" stroke-width="0.6"/>
<line x1="172.08" y1="212.7" x2="174.28" y2="212.7" stroke="#e8485a" stroke-width="0.5"/>
<rect x="174.85" y="203.8" width="1.5" height="13.2" fill="#b2b2f5" stroke="#5c5cea" stroke-width="0.6"/>
<line x1="174.50" y1="212.3" x2="176.70" y2="212.3" stroke="#e8485a" stroke-width="0.5"/>
<rect x="178.29" y="210.5" width="1.5" height="6.5" fill="#b2b2f5" stroke="#5c5cea" stroke-width="0.6"/>
<line x1="177.94" y1="215.0" x2="180.14" y2="215.0" stroke="#e8485a" stroke-width="0.5"/>
<rect x="181.22" y="205.3" width="1.5" height="11.7" fill="#b2b2f5" stroke="#5c5cea" stroke-width="0.6"/>
<line x1="180.87" y1="211.2" x2="183.07" y2="211.2" stroke="#e8485a" stroke-width="0.5"/>
<rect x="184.15" y="206.7" width="1.5" height="10.3" fill="#b2b2f5" stroke="#5c5cea" stroke-width="0.6"/>
<line x1="183.80" y1="212.2" x2="186.00" y2="212.2" stroke="#e8485a" stroke-width="0.5"/>
<rect x="187.08" y="204.0" width="1.5" height="13.0" fill="#b2b2f5" stroke="#5c5cea" stroke-width="0.6"/>
<line x1="186.73" y1="209.0" x2="188.93" y2="209.0" stroke="#e8485a" stroke-width="0.5"/>
<rect x="190.01" y="210.2" width="1.5" height="6.8" fill="#b2b2f5" stroke="#5c5cea" stroke-width="0.6"/>
<line x1="189.66" y1="213.7" x2="191.86" y2="213.7" stroke="#e8485a" stroke-width="0.5"/>
<rect x="192.94" y="205.2" width="1.5" height="11.8" fill="#b2b2f5" stroke="#5c5cea" stroke-width="0.6"/>
<line x1="192.59" y1="211.1" x2="194.79" y2="211.1" stroke="#e8485a" stroke-width="0.5"/>
<rect x="195.87" y="210.3" width="1.5" height="6.7" fill="#b2b2f5" stroke="#5c5cea" stroke-width="0.6"/>
<line x1="195.52" y1="213.9" x2="197.72" y2="213.9" stroke="#e8485a" stroke-width="0.5"/>
<rect x="198.80" y="208.8" width="1.5" height="8.2" fill="#b2b2f5" stroke="#5c5cea" stroke-width="0.6"/>
<line x1="198.45" y1="211.4" x2="200.65" y2="211.4" stroke="#e8485a" stroke-width="0.5"/>
<rect x="201.73" y="211.3" width="1.5" height="5.7" fill="#b2b2f5" stroke="#5c5cea" stroke-width="0.6"/>
<line x1="201.38" y1="215.2" x2="203.58" y2="215.2" stroke="#e8485a" stroke-width="0.5"/>
<rect x="204.66" y="210.0" width="1.5" height="7.0" fill="#b2b2f5" stroke="#5c5cea" stroke-width="0.6"/>
<line x1="204.31" y1="213.6" x2="206.51" y2="213.6" stroke="#e8485a" stroke-width="0.5"/>
<rect x="207.59" y="207.5" width="1.5" height="9.5" fill="#b2b2f5" stroke="#5c5cea" stroke-width="0.6"/>
<line x1="207.24" y1="211.9" x2="209.44" y2="211.9" stroke="#e8485a" stroke-width="0.5"/>
<rect x="210.52" y="211.0" width="1.5" height="6.0" fill="#b2b2f5" stroke="#5c5cea" stroke-width="0.6"/>
<line x1="210.17" y1="214.7" x2="212.37" y2="214.7" stroke="#e8485a" stroke-width="0.5"/>
<rect x="213.45" y="210.3" width="1.5" height="6.7" fill="#b2b2f5" stroke="#5c5cea" stroke-width="0.6"/>
<line x1="213.10" y1="213.8" x2="215.30" y2="213.8" stroke="#e8485a" stroke-width="0.5"/>
<rect x="216.38" y="212.0" width="1.5" height="5.0" fill="#b2b2f5" stroke="#5c5cea" stroke-width="0.6"/>
<line x1="216.03" y1="214.5" x2="218.23" y2="214.5" stroke="#e8485a" stroke-width="0.5"/>
<rect x="219.31" y="211.4" width="1.5" height="5.6" fill="#b2b2f5" stroke="#5c5cea" stroke-width="0.6"/>
<line x1="218.96" y1="214.6" x2="221.16" y2="214.6" stroke="#e8485a" stroke-width="0.5"/>
<rect x="222.24" y="213.3" width="1.5" height="3.7" fill="#b2b2f5" stroke="#5c5cea" stroke-width="0.6"/>
<line x1="221.89" y1="214.5" x2="224.09" y2="214.5" stroke="#e8485a" stroke-width="0.5"/>
<rect x="225.17" y="205.8" width="1.5" height="11.2" fill="#b2b2f5" stroke="#5c5cea" stroke-width="0.6"/>
<line x1="224.82" y1="211.6" x2="227.02" y2="211.6" stroke="#e8485a" stroke-width="0.5"/>
<rect x="227.25" y="191.7" width="1.5" height="25.3" fill="#b2b2f5" stroke="#5c5cea" stroke-width="0.6"/>
<line x1="226.90" y1="203.5" x2="229.10" y2="203.5" stroke="#e8485a" stroke-width="0.5"/>
<rect x="230.05" y="199.2" width="1.5" height="17.8" fill="#b2b2f5" stroke="#5c5cea" stroke-width="0.6"/>
<line x1="229.70" y1="211.4" x2="231.90" y2="211.4" stroke="#e8485a" stroke-width="0.5"/>
<rect x="233.96" y="207.3" width="1.5" height="9.7" fill="#b2b2f5" stroke="#5c5cea" stroke-width="0.6"/>
<line x1="233.61" y1="213.8" x2="235.81" y2="213.8" stroke="#e8485a" stroke-width="0.5"/>
<rect x="236.89" y="204.3" width="1.5" height="12.7" fill="#b2b2f5" stroke="#5c5cea" stroke-width="0.6"/>
<line x1="236.54" y1="209.5" x2="238.74" y2="209.5" stroke="#e8485a" stroke-width="0.5"/>
<rect x="239.82" y="208.4" width="1.5" height="8.6" fill="#b2b2f5" stroke="#5c5cea" stroke-width="0.6"/>
<line x1="239.47" y1="212.6" x2="241.67" y2="212.6" stroke="#e8485a" stroke-width="0.5"/>
<rect x="242.75" y="208.7" width="1.5" height="8.3" fill="#b2b2f5" stroke="#5c5cea" stroke-width="0.6"/>
<line x1="242.40" y1="211.6" x2="244.60" y2="211.6" stroke="#e8485a" stroke-width="0.5"/>
<rect x="245.68" y="207.9" width="1.5" height="9.1" fill="#b2b2f5" stroke="#5c5cea" stroke-width="0.6"/>
<line x1="245.33" y1="212.2" x2="247.53" y2="212.2" stroke="#e8485a" stroke-width="0.5"/>
<rect x="248.61" y="210.1" width="1.5" height="6.9" fill="#b2b2f5" stroke="#5c5cea" stroke-width="0.6"/>
<line x1="248.26" y1="214.4" x2="250.46" y2="214.4" stroke="#e8485a" stroke-width="0.5"/>
<rect x="251.54" y="213.7" width="1.5" height="3.3" fill="#b2b2f5" stroke="#5c5cea" stroke-width="0.6"/>
<line x1="251.19" y1="215.9" x2="253.39" y2="215.9" stroke="#e8485a" stroke-width="0.5"/>
<rect x="254.47" y="209.4" width="1.5" height="7.6" fill="#b2b2f5" stroke="#5c5cea" stroke-width="0.6"/>
<line x1="254.12" y1="213.1" x2="256.32" y2="213.1" stroke="#e8485a" stroke-width="0.5"/>
<rect x="257.40" y="212.1" width="1.5" height="4.9" fill="#b2b2f5" stroke="#5c5cea" stroke-width="0.6"/>
<line x1="257.05" y1="214.2" x2="259.25" y2="214.2" stroke="#e8485a" stroke-width="0.5"/>
<rect x="260.33" y="212.5" width="1.5" height="4.5" fill="#b2b2f5" stroke="#5c5cea" stroke-width="0.6"/>
<line x1="259.98" y1="214.2" x2="262.18" y2="214.2" stroke="#e8485a" stroke-width="0.5"/>
<rect x="263.26" y="210.0" width="1.5" height="7.0" fill="#b2b2f5" stroke="#5c5cea" stroke-width="0.6"/>
<line x1="262.91" y1="213.8" x2="265.11" y2="213.8" stroke="#e8485a" stroke-width="0.5"/>
<rect x="266.19" y="213.9" width="1.5" height="3.1" fill="#b2b2f5" stroke="#5c5cea" stroke-width="0.6"/>
<line x1="265.84" y1="216.0" x2="268.04" y2="216.0" stroke="#e8485a" stroke-width="0.5"/>
<rect x="269.12" y="212.9" width="1.5" height="4.1" fill="#b2b2f5" stroke="#5c5cea" stroke-width="0.6"/>
<line x1="268.77" y1="214.3" x2="270.97" y2="214.3" stroke="#e8485a" stroke-width="0.5"/>
<rect x="272.05" y="211.6" width="1.5" height="5.4" fill="#b2b2f5" stroke="#5c5cea" stroke-width="0.6"/>
<line x1="271.70" y1="214.9" x2="273.90" y2="214.9" stroke="#e8485a" stroke-width="0.5"/>
<rect x="274.98" y="209.7" width="1.5" height="7.3" fill="#b2b2f5" stroke="#5c5cea" stroke-width="0.6"/>
<line x1="274.63" y1="212.0" x2="276.83" y2="212.0" stroke="#e8485a" stroke-width="0.5"/>
<rect x="277.91" y="213.1" width="1.5" height="3.9" fill="#b2b2f5" stroke="#5c5cea" stroke-width="0.6"/>
<line x1="277.56" y1="214.6" x2="279.76" y2="214.6" stroke="#e8485a" stroke-width="0.5"/>
<rect x="280.84" y="209.4" width="1.5" height="7.6" fill="#b2b2f5" stroke="#5c5cea" stroke-width="0.6"/>
<line x1="280.49" y1="212.4" x2="282.69" y2="212.4" stroke="#e8485a" stroke-width="0.5"/>
<rect x="283.77" y="209.9" width="1.5" height="7.1" fill="#b2b2f5" stroke="#5c5cea" stroke-width="0.6"/>
<line x1="283.42" y1="214.0" x2="285.62" y2="214.0" stroke="#e8485a" stroke-width="0.5"/>
<rect x="286.70" y="211.9" width="1.5" height="5.1" fill="#b2b2f5" stroke="#5c5cea" stroke-width="0.6"/>
<line x1="286.35" y1="214.1" x2="288.55" y2="214.1" stroke="#e8485a" stroke-width="0.5"/>
<rect x="289.63" y="210.5" width="1.5" height="6.5" fill="#b2b2f5" stroke="#5c5cea" stroke-width="0.6"/>
<line x1="289.28" y1="213.3" x2="291.48" y2="213.3" stroke="#e8485a" stroke-width="0.5"/>
<rect x="292.56" y="209.2" width="1.5" height="7.8" fill="#b2b2f5" stroke="#5c5cea" stroke-width="0.6"/>
<line x1="292.21" y1="213.5" x2="294.41" y2="213.5" stroke="#e8485a" stroke-width="0.5"/>
<rect x="295.49" y="208.1" width="1.5" height="8.9" fill="#b2b2f5" stroke="#5c5cea" stroke-width="0.6"/>
<line x1="295.14" y1="211.1" x2="297.34" y2="211.1" stroke="#e8485a" stroke-width="0.5"/>
<rect x="298.42" y="208.3" width="1.5" height="8.7" fill="#b2b2f5" stroke="#5c5cea" stroke-width="0.6"/>
<line x1="298.07" y1="213.5" x2="300.27" y2="213.5" stroke="#e8485a" stroke-width="0.5"/>
<rect x="301.35" y="208.4" width="1.5" height="8.6" fill="#b2b2f5" stroke="#5c5cea" stroke-width="0.6"/>
<line x1="301.00" y1="211.4" x2="303.20" y2="211.4" stroke="#e8485a" stroke-width="0.5"/>
<rect x="304.28" y="211.5" width="1.5" height="5.5" fill="#b2b2f5" stroke="#5c5cea" stroke-width="0.6"/>
<line x1="303.93" y1="214.3" x2="306.13" y2="214.3" stroke="#e8485a" stroke-width="0.5"/>
<rect x="307.21" y="213.5" width="1.5" height="3.5" fill="#b2b2f5" stroke="#5c5cea" stroke-width="0.6"/>
<line x1="306.86" y1="214.9" x2="309.06" y2="214.9" stroke="#e8485a" stroke-width="0.5"/>
<rect x="310.14" y="208.3" width="1.5" height="8.7" fill="#b2b2f5" stroke="#5c5cea" stroke-width="0.6"/>
<line x1="309.79" y1="211.6" x2="311.99" y2="211.6" stroke="#e8485a" stroke-width="0.5"/>
<rect x="313.07" y="209.2" width="1.5" height="7.8" fill="#b2b2f5" stroke="#5c5cea" stroke-width="0.6"/>
<line x1="312.72" y1="213.2" x2="314.92" y2="213.2" stroke="#e8485a" stroke-width="0.5"/>
<rect x="314.95" y="204.8" width="1.5" height="12.2" fill="#b2b2f5" stroke="#5c5cea" stroke-width="0.6"/>
<line x1="314.60" y1="210.6" x2="316.80" y2="210.6" stroke="#e8485a" stroke-width="0.5"/>
<rect x="318.93" y="208.6" width="1.5" height="8.4" fill="#b2b2f5" stroke="#5c5cea" stroke-width="0.6"/>
<line x1="318.58" y1="212.4" x2="320.78" y2="212.4" stroke="#e8485a" stroke-width="0.5"/>
<rect x="321.86" y="210.1" width="1.5" height="6.9" fill="#b2b2f5" stroke="#5c5cea" stroke-width="0.6"/>
<line x1="321.51" y1="213.3" x2="323.71" y2="213.3" stroke="#e8485a" stroke-width="0.5"/>
<rect x="324.79" y="209.5" width="1.5" height="7.5" fill="#b2b2f5" stroke="#5c5cea" stroke-width="0.6"/>
<line x1="324.44" y1="213.3" x2="326.64" y2="213.3" stroke="#e8485a" stroke-width="0.5"/>
<rect x="327.72" y="208.0" width="1.5" height="9.0" fill="#b2b2f5" stroke="#5c5cea" stroke-width="0.6"/>
<line x1="327.37" y1="211.3" x2="329.57" y2="211.3" stroke="#e8485a" stroke-width="0.5"/>
<rect x="330.65" y="209.6" width="1.5" height="7.4" fill="#b2b2f5" stroke="#5c5cea" stroke-width="0.6"/>
<line x1="330.30" y1="212.4" x2="332.50" y2="212.4" stroke="#e8485a" stroke-width="0.5"/>
<rect x="333.58" y="209.7" width="1.5" height="7.3" fill="#b2b2f5" stroke="#5c5cea" stroke-width="0.6"/>
<line x1="333.23" y1="213.7" x2="335.43" y2="213.7" stroke="#e8485a" stroke-width="0.5"/>
<rect x="336.51" y="211.9" width="1.5" height="5.1" fill="#b2b2f5" stroke="#5c5cea" stroke-width="0.6"/>
<line x1="336.16" y1="214.7" x2="338.36" y2="214.7" stroke="#e8485a" stroke-width="0.5"/>
<rect x="339.44" y="211.2" width="1.5" height="5.8" fill="#b2b2f5" stroke="#5c5cea" stroke-width="0.6"/>
<line x1="339.09" y1="214.2" x2="341.29" y2="214.2" stroke="#e8485a" stroke-width="0.5"/>
<rect x="342.37" y="208.3" width="1.5" height="8.7" fill="#b2b2f5" stroke="#5c5cea" stroke-width="0.6"/>
<line x1="342.02" y1="213.9" x2="344.22" y2="213.9" stroke="#e8485a" stroke-width="0.5"/>
<rect x="344.85" y="202.0" width="1.5" height="15.0" fill="#b2b2f5" stroke="#5c5cea" stroke-width="0.6"/>
<line x1="344.50" y1="210.2" x2="346.70" y2="210.2" stroke="#e8485a" stroke-width="0.5"/>
<rect x="348.23" y="213.1" width="1.5" height="3.9" fill="#b2b2f5" stroke="#5c5cea" stroke-width="0.6"/>
<line x1="347.88" y1="215.6" x2="350.08" y2="215.6" stroke="#e8485a" stroke-width="0.5"/>
<rect x="351.16" y="208.5" width="1.5" height="8.5" fill="#b2b2f5" stroke="#5c5cea" stroke-width="0.6"/>
<line x1="350.81" y1="211.8" x2="353.01" y2="211.8" stroke="#e8485a" stroke-width="0.5"/>
<rect x="354.09" y="212.2" width="1.5" height="4.8" fill="#b2b2f5" stroke="#5c5cea" stroke-width="0.6"/>
<line x1="353.74" y1="215.1" x2="355.94" y2="215.1" stroke="#e8485a" stroke-width="0.5"/>
<rect x="357.02" y="212.6" width="1.5" height="4.4" fill="#b2b2f5" stroke="#5c5cea" stroke-width="0.6"/>
<line x1="356.67" y1="215.3" x2="358.87" y2="215.3" stroke="#e8485a" stroke-width="0.5"/>
<rect x="359.95" y="210.8" width="1.5" height="6.2" fill="#b2b2f5" stroke="#5c5cea" stroke-width="0.6"/>
<line x1="359.60" y1="214.9" x2="361.80" y2="214.9" stroke="#e8485a" stroke-width="0.5"/>
<rect x="362.88" y="211.1" width="1.5" height="5.9" fill="#b2b2f5" stroke="#5c5cea" stroke-width="0.6"/>
<line x1="362.53" y1="213.6" x2="364.73" y2="213.6" stroke="#e8485a" stroke-width="0.5"/>
<rect x="365.81" y="213.7" width="1.5" height="3.3" fill="#b2b2f5" stroke="#5c5cea" stroke-width="0.6"/>
<line x1="365.46" y1="215.1" x2="367.66" y2="215.1" stroke="#e8485a" stroke-width="0.5"/>
<rect x="368.74" y="212.0" width="1.5" height="5.0" fill="#b2b2f5" stroke="#5c5cea" stroke-width="0.6"/>
<line x1="368.39" y1="215.3" x2="370.59" y2="215.3" stroke="#e8485a" stroke-width="0.5"/>
<rect x="371.67" y="213.1" width="1.5" height="3.9" fill="#b2b2f5" stroke="#5c5cea" stroke-width="0.6"/>
<line x1="371.32" y1="214.6" x2="373.52" y2="214.6" stroke="#e8485a" stroke-width="0.5"/>
<rect x="374.60" y="208.6" width="1.5" height="8.4" fill="#b2b2f5" stroke="#5c5cea" stroke-width="0.6"/>
<line x1="374.25" y1="214.5" x2="376.45" y2="214.5" stroke="#e8485a" stroke-width="0.5"/>
<rect x="377.53" y="209.9" width="1.5" height="7.1" fill="#b2b2f5" stroke="#5c5cea" stroke-width="0.6"/>
<line x1="377.18" y1="214.6" x2="379.38" y2="214.6" stroke="#e8485a" stroke-width="0.5"/>
<rect x="380.46" y="209.7" width="1.5" height="7.3" fill="#b2b2f5" stroke="#5c5cea" stroke-width="0.6"/>
<line x1="380.11" y1="212.3" x2="382.31" y2="212.3" stroke="#e8485a" stroke-width="0.5"/>
<rect x="383.39" y="209.6" width="1.5" height="7.4" fill="#b2b2f5" stroke="#5c5cea" stroke-width="0.6"/>
<line x1="383.04" y1="212.5" x2="385.24" y2="212.5" stroke="#e8485a" stroke-width="0.5"/>
<rect x="386.05" y="206.0" width="1.5" height="11.0" fill="#b2b2f5" stroke="#5c5cea" stroke-width="0.6"/>
<line x1="385.70" y1="212.5" x2="387.90" y2="212.5" stroke="#e8485a" stroke-width="0.5"/>
<rect x="389.25" y="213.9" width="1.5" height="3.1" fill="#b2b2f5" stroke="#5c5cea" stroke-width="0.6"/>
<line x1="388.90" y1="215.2" x2="391.10" y2="215.2" stroke="#e8485a" stroke-width="0.5"/>
<rect x="392.18" y="212.8" width="1.5" height="4.2" fill="#b2b2f5" stroke="#5c5cea" stroke-width="0.6"/>
<line x1="391.83" y1="214.2" x2="394.03" y2="214.2" stroke="#e8485a" stroke-width="0.5"/>
<rect x="395.11" y="210.6" width="1.5" height="6.4" fill="#b2b2f5" stroke="#5c5cea" stroke-width="0.6"/>
<line x1="394.76" y1="214.7" x2="396.96" y2="214.7" stroke="#e8485a" stroke-width="0.5"/>
<rect x="398.04" y="211.4" width="1.5" height="5.6" fill="#b2b2f5" stroke="#5c5cea" stroke-width="0.6"/>
<line x1="397.69" y1="214.0" x2="399.89" y2="214.0" stroke="#e8485a" stroke-width="0.5"/>
<rect x="400.97" y="213.4" width="1.5" height="3.6" fill="#b2b2f5" stroke="#5c5cea" stroke-width="0.6"/>
<line x1="400.62" y1="215.6" x2="402.82" y2="215.6" stroke="#e8485a" stroke-width="0.5"/>
<rect x="403.90" y="213.2" width="1.5" height="3.8" fill="#b2b2f5" stroke="#5c5cea" stroke-width="0.6"/>
<line x1="403.55" y1="214.5" x2="405.75" y2="214.5" stroke="#e8485a" stroke-width="0.5"/>
<rect x="406.83" y="208.1" width="1.5" height="8.9" fill="#b2b2f5" stroke="#5c5cea" stroke-width="0.6"/>
<line x1="406.48" y1="212.2" x2="408.68" y2="212.2" stroke="#e8485a" stroke-width="0.5"/>
<rect x="409.76" y="208.8" width="1.5" height="8.2" fill="#b2b2f5" stroke="#5c5cea" stroke-width="0.6"/>
<line x1="409.41" y1="213.5" x2="411.61" y2="213.5" stroke="#e8485a" stroke-width="0.5"/>
<rect x="412.69" y="209.8" width="1.5" height="7.2" fill="#b2b2f5" stroke="#5c5cea" stroke-width="0.6"/>
<line x1="412.34" y1="212.0" x2="414.54" y2="212.0" stroke="#e8485a" stroke-width="0.5"/>
<circle cx="43.5" cy="129.9" r="1.9" fill="none" stroke="#2a2a2a" stroke-width="0.75"/>
<circle cx="156.0" cy="169.1" r="1.9" fill="none" stroke="#2a2a2a" stroke-width="0.75"/>
<circle cx="159.0" cy="169.1" r="1.9" fill="none" stroke="#2a2a2a" stroke-width="0.75"/>
<circle cx="162.0" cy="169.1" r="1.9" fill="none" stroke="#2a2a2a" stroke-width="0.75"/>
<circle cx="197.5" cy="160.1" r="1.9" fill="none" stroke="#2a2a2a" stroke-width="0.75"/>
<circle cx="165.3" cy="194.5" r="1.9" fill="none" stroke="#2a2a2a" stroke-width="0.75"/>
<circle cx="168.5" cy="194.5" r="1.9" fill="none" stroke="#2a2a2a" stroke-width="0.75"/>
<circle cx="172.0" cy="194.5" r="1.9" fill="none" stroke="#2a2a2a" stroke-width="0.75"/>
<circle cx="173.8" cy="196.4" r="1.9" fill="none" stroke="#2a2a2a" stroke-width="0.75"/>
<circle cx="178.4" cy="206.6" r="1.9" fill="none" stroke="#2a2a2a" stroke-width="0.75"/>
<circle cx="182.2" cy="207.6" r="1.9" fill="none" stroke="#2a2a2a" stroke-width="0.75"/>
<circle cx="186.0" cy="212.2" r="1.9" fill="none" stroke="#2a2a2a" stroke-width="0.75"/>
<circle cx="188.7" cy="212.2" r="1.9" fill="none" stroke="#2a2a2a" stroke-width="0.75"/>
<circle cx="191.5" cy="206.6" r="1.9" fill="none" stroke="#2a2a2a" stroke-width="0.75"/>
<circle cx="194.3" cy="206.6" r="1.9" fill="none" stroke="#2a2a2a" stroke-width="0.75"/>
<circle cx="199.9" cy="195.4" r="1.9" fill="none" stroke="#2a2a2a" stroke-width="0.75"/>
<circle cx="202.5" cy="195.4" r="1.9" fill="none" stroke="#2a2a2a" stroke-width="0.75"/>
<circle cx="206.5" cy="181.4" r="1.9" fill="none" stroke="#2a2a2a" stroke-width="0.75"/>
<circle cx="209.0" cy="181.4" r="1.9" fill="none" stroke="#2a2a2a" stroke-width="0.75"/>
<circle cx="219.6" cy="202.0" r="1.9" fill="none" stroke="#2a2a2a" stroke-width="0.75"/>
<circle cx="222.3" cy="202.0" r="1.9" fill="none" stroke="#2a2a2a" stroke-width="0.75"/>
<circle cx="232.6" cy="206.6" r="1.9" fill="none" stroke="#2a2a2a" stroke-width="0.75"/>
<circle cx="240.5" cy="200.1" r="1.9" fill="none" stroke="#2a2a2a" stroke-width="0.75"/>
<circle cx="243.5" cy="200.1" r="1.9" fill="none" stroke="#2a2a2a" stroke-width="0.75"/>
<circle cx="245.7" cy="198.2" r="1.9" fill="none" stroke="#2a2a2a" stroke-width="0.75"/>
<circle cx="253.2" cy="196.4" r="1.9" fill="none" stroke="#2a2a2a" stroke-width="0.75"/>
<circle cx="257.0" cy="210.4" r="1.9" fill="none" stroke="#2a2a2a" stroke-width="0.75"/>
<circle cx="260.7" cy="210.4" r="1.9" fill="none" stroke="#2a2a2a" stroke-width="0.75"/>
<circle cx="265.3" cy="208.5" r="1.9" fill="none" stroke="#2a2a2a" stroke-width="0.75"/>
<circle cx="268.1" cy="205.7" r="1.9" fill="none" stroke="#2a2a2a" stroke-width="0.75"/>
<circle cx="258.0" cy="209.0" r="1.9" fill="none" stroke="#2a2a2a" stroke-width="0.75"/>
<circle cx="262.0" cy="209.0" r="1.9" fill="none" stroke="#2a2a2a" stroke-width="0.75"/>
<circle cx="266.0" cy="209.0" r="1.9" fill="none" stroke="#2a2a2a" stroke-width="0.75"/>
<circle cx="270.0" cy="209.0" r="1.9" fill="none" stroke="#2a2a2a" stroke-width="0.75"/>
<circle cx="273.8" cy="209.5" r="1.9" fill="none" stroke="#2a2a2a" stroke-width="0.75"/>
<circle cx="275.6" cy="198.2" r="1.9" fill="none" stroke="#2a2a2a" stroke-width="0.75"/>
<circle cx="278.4" cy="196.4" r="1.9" fill="none" stroke="#2a2a2a" stroke-width="0.75"/>
<circle cx="281.4" cy="196.4" r="1.9" fill="none" stroke="#2a2a2a" stroke-width="0.75"/>
<circle cx="295.3" cy="200.1" r="1.9" fill="none" stroke="#2a2a2a" stroke-width="0.75"/>
<circle cx="310.0" cy="172.5" r="1.9" fill="none" stroke="#2a2a2a" stroke-width="0.75"/>
<circle cx="313.8" cy="172.5" r="1.9" fill="none" stroke="#2a2a2a" stroke-width="0.75"/>
<circle cx="333.5" cy="171.0" r="1.9" fill="none" stroke="#2a2a2a" stroke-width="0.75"/>
<circle cx="357.8" cy="160.0" r="1.9" fill="none" stroke="#2a2a2a" stroke-width="0.75"/>
<circle cx="360.6" cy="155.5" r="1.9" fill="none" stroke="#2a2a2a" stroke-width="0.75"/>
<circle cx="363.4" cy="159.5" r="1.9" fill="none" stroke="#2a2a2a" stroke-width="0.75"/>
<circle cx="303.5" cy="209.4" r="1.9" fill="none" stroke="#2a2a2a" stroke-width="0.75"/>
<circle cx="307.2" cy="198.2" r="1.9" fill="none" stroke="#2a2a2a" stroke-width="0.75"/>
<circle cx="330.6" cy="206.6" r="1.9" fill="none" stroke="#2a2a2a" stroke-width="0.75"/>
<circle cx="341.9" cy="186.5" r="1.9" fill="none" stroke="#2a2a2a" stroke-width="0.75"/>
<circle cx="365.3" cy="211.3" r="1.9" fill="none" stroke="#2a2a2a" stroke-width="0.75"/>
<circle cx="369.0" cy="209.4" r="1.9" fill="none" stroke="#2a2a2a" stroke-width="0.75"/>
<circle cx="371.8" cy="206.6" r="1.9" fill="none" stroke="#2a2a2a" stroke-width="0.75"/>
<circle cx="374.5" cy="202.0" r="1.9" fill="none" stroke="#2a2a2a" stroke-width="0.75"/>
<circle cx="378.0" cy="202.0" r="1.9" fill="none" stroke="#2a2a2a" stroke-width="0.75"/>
<circle cx="381.0" cy="194.5" r="1.9" fill="none" stroke="#2a2a2a" stroke-width="0.75"/>
<circle cx="384.5" cy="194.5" r="1.9" fill="none" stroke="#2a2a2a" stroke-width="0.75"/>
<circle cx="389.6" cy="211.3" r="1.9" fill="none" stroke="#2a2a2a" stroke-width="0.75"/>
<circle cx="392.4" cy="211.3" r="1.9" fill="none" stroke="#2a2a2a" stroke-width="0.75"/>
<circle cx="396.2" cy="206.6" r="1.9" fill="none" stroke="#2a2a2a" stroke-width="0.75"/>
<circle cx="399.0" cy="206.6" r="1.9" fill="none" stroke="#2a2a2a" stroke-width="0.75"/>
<circle cx="401.8" cy="203.8" r="1.9" fill="none" stroke="#2a2a2a" stroke-width="0.75"/>
<circle cx="404.0" cy="180.1" r="1.9" fill="none" stroke="#2a2a2a" stroke-width="0.75"/>
<circle cx="407.0" cy="180.1" r="1.9" fill="none" stroke="#2a2a2a" stroke-width="0.75"/>
<circle cx="410.2" cy="187.6" r="1.9" fill="none" stroke="#2a2a2a" stroke-width="0.75"/>
<circle cx="413.0" cy="196.9" r="1.9" fill="none" stroke="#2a2a2a" stroke-width="0.75"/>
<circle cx="40.7" cy="211.3" r="1.9" fill="none" stroke="#2a2a2a" stroke-width="0.75"/>
<circle cx="46.8" cy="143.3" r="1.9" fill="none" stroke="#2a2a2a" stroke-width="0.75"/>
<circle cx="49.5" cy="208.5" r="1.9" fill="none" stroke="#2a2a2a" stroke-width="0.75"/>
<circle cx="52.4" cy="207.6" r="1.9" fill="none" stroke="#2a2a2a" stroke-width="0.75"/>
<circle cx="54.7" cy="206.6" r="1.9" fill="none" stroke="#2a2a2a" stroke-width="0.75"/>
<circle cx="58.0" cy="175.8" r="1.9" fill="none" stroke="#2a2a2a" stroke-width="0.75"/>
<circle cx="61.2" cy="166.3" r="1.9" fill="none" stroke="#2a2a2a" stroke-width="0.75"/>
<circle cx="64.0" cy="190.8" r="1.9" fill="none" stroke="#2a2a2a" stroke-width="0.75"/>
<circle cx="69.6" cy="213.2" r="1.9" fill="none" stroke="#2a2a2a" stroke-width="0.75"/>
<circle cx="72.6" cy="213.2" r="1.9" fill="none" stroke="#2a2a2a" stroke-width="0.75"/>
<circle cx="81.8" cy="210.4" r="1.9" fill="none" stroke="#2a2a2a" stroke-width="0.75"/>
<circle cx="85.0" cy="188.0" r="1.9" fill="none" stroke="#2a2a2a" stroke-width="0.75"/>
<circle cx="88.0" cy="183.3" r="1.9" fill="none" stroke="#2a2a2a" stroke-width="0.75"/>
<circle cx="90.8" cy="191.7" r="1.9" fill="none" stroke="#2a2a2a" stroke-width="0.75"/>
<circle cx="93.8" cy="213.2" r="1.9" fill="none" stroke="#2a2a2a" stroke-width="0.75"/>
<circle cx="96.7" cy="213.2" r="1.9" fill="none" stroke="#2a2a2a" stroke-width="0.75"/>
<circle cx="99.6" cy="208.5" r="1.9" fill="none" stroke="#2a2a2a" stroke-width="0.75"/>
<circle cx="102.4" cy="190.8" r="1.9" fill="none" stroke="#2a2a2a" stroke-width="0.75"/>
<circle cx="105.2" cy="209.4" r="1.9" fill="none" stroke="#2a2a2a" stroke-width="0.75"/>
<circle cx="108.0" cy="209.4" r="1.9" fill="none" stroke="#2a2a2a" stroke-width="0.75"/>
<circle cx="113.6" cy="180.5" r="1.9" fill="none" stroke="#2a2a2a" stroke-width="0.75"/>
<circle cx="116.4" cy="180.5" r="1.9" fill="none" stroke="#2a2a2a" stroke-width="0.75"/>
<circle cx="119.2" cy="180.5" r="1.9" fill="none" stroke="#2a2a2a" stroke-width="0.75"/>
<circle cx="121.9" cy="180.5" r="1.9" fill="none" stroke="#2a2a2a" stroke-width="0.75"/>
<circle cx="129.6" cy="189.4" r="1.9" fill="none" stroke="#2a2a2a" stroke-width="0.75"/>
<circle cx="132.0" cy="189.4" r="1.9" fill="none" stroke="#2a2a2a" stroke-width="0.75"/>
<circle cx="134.6" cy="195.4" r="1.9" fill="none" stroke="#2a2a2a" stroke-width="0.75"/>
<circle cx="137.9" cy="201.0" r="1.9" fill="none" stroke="#2a2a2a" stroke-width="0.75"/>
<circle cx="141.0" cy="201.0" r="1.9" fill="none" stroke="#2a2a2a" stroke-width="0.75"/>
<circle cx="144.0" cy="189.4" r="1.9" fill="none" stroke="#2a2a2a" stroke-width="0.75"/>
<circle cx="147.2" cy="194.5" r="1.9" fill="none" stroke="#2a2a2a" stroke-width="0.75"/>
<circle cx="150.0" cy="194.5" r="1.9" fill="none" stroke="#2a2a2a" stroke-width="0.75"/>
<circle cx="152.8" cy="168.0" r="1.9" fill="none" stroke="#2a2a2a" stroke-width="0.75"/>
<circle cx="164.4" cy="214.7" r="1.9" fill="none" stroke="#2a2a2a" stroke-width="0.75"/>
<circle cx="173.2" cy="215.5" r="1.9" fill="none" stroke="#2a2a2a" stroke-width="0.75"/>
<circle cx="175.6" cy="200.1" r="1.9" fill="none" stroke="#2a2a2a" stroke-width="0.75"/>
<circle cx="179.0" cy="215.4" r="1.9" fill="none" stroke="#2a2a2a" stroke-width="0.75"/>
<circle cx="190.8" cy="215.3" r="1.9" fill="none" stroke="#2a2a2a" stroke-width="0.75"/>
<circle cx="193.7" cy="213.1" r="1.9" fill="none" stroke="#2a2a2a" stroke-width="0.75"/>
<circle cx="199.6" cy="213.9" r="1.9" fill="none" stroke="#2a2a2a" stroke-width="0.75"/>
<circle cx="202.5" cy="213.1" r="1.9" fill="none" stroke="#2a2a2a" stroke-width="0.75"/>
<circle cx="205.4" cy="215.4" r="1.9" fill="none" stroke="#2a2a2a" stroke-width="0.75"/>
<circle cx="214.2" cy="213.1" r="1.9" fill="none" stroke="#2a2a2a" stroke-width="0.75"/>
<circle cx="225.9" cy="214.8" r="1.9" fill="none" stroke="#2a2a2a" stroke-width="0.75"/>
<circle cx="228.0" cy="193.6" r="1.9" fill="none" stroke="#2a2a2a" stroke-width="0.75"/>
<circle cx="234.7" cy="214.0" r="1.9" fill="none" stroke="#2a2a2a" stroke-width="0.75"/>
<circle cx="240.6" cy="215.1" r="1.9" fill="none" stroke="#2a2a2a" stroke-width="0.75"/>
<circle cx="243.5" cy="215.0" r="1.9" fill="none" stroke="#2a2a2a" stroke-width="0.75"/>
<circle cx="246.4" cy="213.1" r="1.9" fill="none" stroke="#2a2a2a" stroke-width="0.75"/>
<circle cx="255.2" cy="213.4" r="1.9" fill="none" stroke="#2a2a2a" stroke-width="0.75"/>
<circle cx="258.2" cy="213.7" r="1.9" fill="none" stroke="#2a2a2a" stroke-width="0.75"/>
<circle cx="264.0" cy="213.2" r="1.9" fill="none" stroke="#2a2a2a" stroke-width="0.75"/>
<circle cx="266.9" cy="214.4" r="1.9" fill="none" stroke="#2a2a2a" stroke-width="0.75"/>
<circle cx="269.9" cy="214.1" r="1.9" fill="none" stroke="#2a2a2a" stroke-width="0.75"/>
<circle cx="278.7" cy="215.5" r="1.9" fill="none" stroke="#2a2a2a" stroke-width="0.75"/>
<circle cx="296.2" cy="213.8" r="1.9" fill="none" stroke="#2a2a2a" stroke-width="0.75"/>
<circle cx="315.7" cy="188.0" r="1.9" fill="none" stroke="#2a2a2a" stroke-width="0.75"/>
<circle cx="319.7" cy="213.6" r="1.9" fill="none" stroke="#2a2a2a" stroke-width="0.75"/>
<circle cx="328.5" cy="215.5" r="1.9" fill="none" stroke="#2a2a2a" stroke-width="0.75"/>
<circle cx="331.4" cy="215.1" r="1.9" fill="none" stroke="#2a2a2a" stroke-width="0.75"/>
<circle cx="343.1" cy="214.0" r="1.9" fill="none" stroke="#2a2a2a" stroke-width="0.75"/>
<circle cx="345.6" cy="196.4" r="1.9" fill="none" stroke="#2a2a2a" stroke-width="0.75"/>
<circle cx="354.8" cy="214.4" r="1.9" fill="none" stroke="#2a2a2a" stroke-width="0.75"/>
<circle cx="360.7" cy="213.4" r="1.9" fill="none" stroke="#2a2a2a" stroke-width="0.75"/>
<circle cx="363.6" cy="215.4" r="1.9" fill="none" stroke="#2a2a2a" stroke-width="0.75"/>
<circle cx="375.4" cy="215.1" r="1.9" fill="none" stroke="#2a2a2a" stroke-width="0.75"/>
<circle cx="384.1" cy="214.3" r="1.9" fill="none" stroke="#2a2a2a" stroke-width="0.75"/>
<circle cx="386.8" cy="178.6" r="1.9" fill="none" stroke="#2a2a2a" stroke-width="0.75"/>
<circle cx="392.9" cy="214.6" r="1.9" fill="none" stroke="#2a2a2a" stroke-width="0.75"/>
<circle cx="407.6" cy="214.1" r="1.9" fill="none" stroke="#2a2a2a" stroke-width="0.75"/>
<circle cx="413.4" cy="213.7" r="1.9" fill="none" stroke="#2a2a2a" stroke-width="0.75"/>
<path d="M41.5 166.3h4M43.5 164.3v4" stroke="#f03a3a" stroke-width="0.8"/>
<path d="M41.5 172.9h4M43.5 170.9v4" stroke="#f03a3a" stroke-width="0.8"/>
<path d="M47.5 162.0h4M49.5 160.0v4" stroke="#f03a3a" stroke-width="0.8"/>
<path d="M59.2 155.7h4M61.2 153.7v4" stroke="#f03a3a" stroke-width="0.8"/>
<path d="M83.0 167.8h4M85.0 165.8v4" stroke="#f03a3a" stroke-width="0.8"/>
<path d="M100.4 172.5h4M102.4 170.5v4" stroke="#f03a3a" stroke-width="0.8"/>
<path d="M52.7 184.2h4M54.7 182.2v4" stroke="#f03a3a" stroke-width="0.8"/>
<path d="M67.6 202.9h4M69.6 200.9v4" stroke="#f03a3a" stroke-width="0.8"/>
<path d="M74.2 187.0h4M76.2 185.0v4" stroke="#f03a3a" stroke-width="0.8"/>
<path d="M74.2 191.7h4M76.2 189.7v4" stroke="#f03a3a" stroke-width="0.8"/>
<path d="M79.8 200.1h4M81.8 198.1v4" stroke="#f03a3a" stroke-width="0.8"/>
<path d="M83.0 175.8h4M85.0 173.8v4" stroke="#f03a3a" stroke-width="0.8"/>
<path d="M88.6 188.9h4M90.6 186.9v4" stroke="#f03a3a" stroke-width="0.8"/>
<path d="M88.6 196.4h4M90.6 194.4v4" stroke="#f03a3a" stroke-width="0.8"/>
<path d="M94.7 198.2h4M96.7 196.2v4" stroke="#f03a3a" stroke-width="0.8"/>
<path d="M94.7 201.0h4M96.7 199.0v4" stroke="#f03a3a" stroke-width="0.8"/>
<path d="M100.4 176.7h4M102.4 174.7v4" stroke="#f03a3a" stroke-width="0.8"/>
<path d="M100.4 197.3h4M102.4 195.3v4" stroke="#f03a3a" stroke-width="0.8"/>
<path d="M100.4 202.0h4M102.4 200.0v4" stroke="#f03a3a" stroke-width="0.8"/>
<path d="M103.2 202.0h4M105.2 200.0v4" stroke="#f03a3a" stroke-width="0.8"/>
<path d="M106.0 184.2h4M108.0 182.2v4" stroke="#f03a3a" stroke-width="0.8"/>
<path d="M124.7 200.0h4M126.7 198.0v4" stroke="#f03a3a" stroke-width="0.8"/>
<path d="M124.7 202.0h4M126.7 200.0v4" stroke="#f03a3a" stroke-width="0.8"/>
<path d="M142.4 198.2h4M144.4 196.2v4" stroke="#f03a3a" stroke-width="0.8"/>
<path d="M145.2 203.0h4M147.2 201.0v4" stroke="#f03a3a" stroke-width="0.8"/>
<path d="M145.2 206.6h4M147.2 204.6v4" stroke="#f03a3a" stroke-width="0.8"/>
<path d="M145.2 210.4h4M147.2 208.4v4" stroke="#f03a3a" stroke-width="0.8"/>
<path d="M150.8 208.5h4M152.8 206.5v4" stroke="#f03a3a" stroke-width="0.8"/>
<path d="M228.4 155.1h4M230.4 153.1v4" stroke="#f03a3a" stroke-width="0.8"/>
<path d="M225.4 167.8h4M227.4 165.8v4" stroke="#f03a3a" stroke-width="0.8"/>
<path d="M156.8 205.7h4M158.8 203.7v4" stroke="#f03a3a" stroke-width="0.8"/>
<path d="M162.4 202.9h4M164.4 200.9v4" stroke="#f03a3a" stroke-width="0.8"/>
<path d="M180.2 203.0h4M182.2 201.0v4" stroke="#f03a3a" stroke-width="0.8"/>
<path d="M197.9 205.7h4M199.9 203.7v4" stroke="#f03a3a" stroke-width="0.8"/>
<path d="M201.7 207.6h4M203.7 205.6v4" stroke="#f03a3a" stroke-width="0.8"/>
<path d="M204.5 211.3h4M206.5 209.3v4" stroke="#f03a3a" stroke-width="0.8"/>
<path d="M207.3 203.0h4M209.3 201.0v4" stroke="#f03a3a" stroke-width="0.8"/>
<path d="M210.1 206.6h4M212.1 204.6v4" stroke="#f03a3a" stroke-width="0.8"/>
<path d="M210.1 210.4h4M212.1 208.4v4" stroke="#f03a3a" stroke-width="0.8"/>
<path d="M230.6 204.8h4M232.6 202.8v4" stroke="#f03a3a" stroke-width="0.8"/>
<path d="M236.2 201.0h4M238.2 199.0v4" stroke="#f03a3a" stroke-width="0.8"/>
<path d="M248.4 206.6h4M250.4 204.6v4" stroke="#f03a3a" stroke-width="0.8"/>
<path d="M251.2 201.0h4M253.2 199.0v4" stroke="#f03a3a" stroke-width="0.8"/>
<path d="M260.5 201.0h4M262.5 199.0v4" stroke="#f03a3a" stroke-width="0.8"/>
<path d="M266.1 203.0h4M268.1 201.0v4" stroke="#f03a3a" stroke-width="0.8"/>
<path d="M272.7 201.0h4M274.7 199.0v4" stroke="#f03a3a" stroke-width="0.8"/>
<path d="M275.5 205.7h4M277.5 203.7v4" stroke="#f03a3a" stroke-width="0.8"/>
<path d="M284.0 202.0h4M286.0 200.0v4" stroke="#f03a3a" stroke-width="0.8"/>
<path d="M284.0 206.6h4M286.0 204.6v4" stroke="#f03a3a" stroke-width="0.8"/>
<path d="M289.5 202.0h4M291.5 200.0v4" stroke="#f03a3a" stroke-width="0.8"/>
<path d="M296.0 193.6h4M298.0 191.6v4" stroke="#f03a3a" stroke-width="0.8"/>
<path d="M296.0 203.0h4M298.0 201.0v4" stroke="#f03a3a" stroke-width="0.8"/>
<path d="M301.5 196.4h4M303.5 194.4v4" stroke="#f03a3a" stroke-width="0.8"/>
<path d="M305.2 205.7h4M307.2 203.7v4" stroke="#f03a3a" stroke-width="0.8"/>
<path d="M309.0 208.5h4M311.0 206.5v4" stroke="#f03a3a" stroke-width="0.8"/>
<path d="M318.3 202.0h4M320.3 200.0v4" stroke="#f03a3a" stroke-width="0.8"/>
<path d="M322.0 211.3h4M324.0 209.3v4" stroke="#f03a3a" stroke-width="0.8"/>
<path d="M325.8 203.8h4M327.8 201.8v4" stroke="#f03a3a" stroke-width="0.8"/>
<path d="M331.5 197.3h4M333.5 195.3v4" stroke="#f03a3a" stroke-width="0.8"/>
<path d="M339.9 207.6h4M341.9 205.6v4" stroke="#f03a3a" stroke-width="0.8"/>
<path d="M347.4 199.2h4M349.4 197.2v4" stroke="#f03a3a" stroke-width="0.8"/>
<path d="M350.2 196.4h4M352.2 194.4v4" stroke="#f03a3a" stroke-width="0.8"/>
<path d="M353.0 204.8h4M355.0 202.8v4" stroke="#f03a3a" stroke-width="0.8"/>
<path d="M358.6 199.2h4M360.6 197.2v4" stroke="#f03a3a" stroke-width="0.8"/>
<path d="M358.6 204.8h4M360.6 202.8v4" stroke="#f03a3a" stroke-width="0.8"/>
<path d="M361.4 203.0h4M363.4 201.0v4" stroke="#f03a3a" stroke-width="0.8"/>
<path d="M367.0 203.8h4M369.0 201.8v4" stroke="#f03a3a" stroke-width="0.8"/>
<path d="M376.4 205.7h4M378.4 203.7v4" stroke="#f03a3a" stroke-width="0.8"/>
<path d="M382.0 205.7h4M384.0 203.7v4" stroke="#f03a3a" stroke-width="0.8"/>
<path d="M399.8 207.6h4M401.8 205.6v4" stroke="#f03a3a" stroke-width="0.8"/>
<path d="M399.8 210.4h4M401.8 208.4v4" stroke="#f03a3a" stroke-width="0.8"/>
<path d="M399.8 212.2h4M401.8 210.2v4" stroke="#f03a3a" stroke-width="0.8"/>
<path d="M301.7 195.4h4M303.7 193.4v4" stroke="#f03a3a" stroke-width="0.8"/>
<path d="M306.3 204.8h4M308.3 202.8v4" stroke="#f03a3a" stroke-width="0.8"/>
<path d="M308.2 209.4h4M310.2 207.4v4" stroke="#f03a3a" stroke-width="0.8"/>
<rect x="36.5" y="4.5" width="381.0" height="88.0" fill="none" stroke="#4a4a4a" stroke-width="1"/>
<line x1="64.3" y1="92.5" x2="64.3" y2="89.5" stroke="#4a4a4a" stroke-width="1"/>
<line x1="64.3" y1="4.5" x2="64.3" y2="7.5" stroke="#4a4a4a" stroke-width="1"/>
<line x1="93.9" y1="92.5" x2="93.9" y2="89.5" stroke="#4a4a4a" stroke-width="1"/>
<line x1="93.9" y1="4.5" x2="93.9" y2="7.5" stroke="#4a4a4a" stroke-width="1"/>
<line x1="123.5" y1="92.5" x2="123.5" y2="89.5" stroke="#4a4a4a" stroke-width="1"/>
<line x1="123.5" y1="4.5" x2="123.5" y2="7.5" stroke="#4a4a4a" stroke-width="1"/>
<line x1="153.10000000000002" y1="92.5" x2="153.10000000000002" y2="89.5" stroke="#4a4a4a" stroke-width="1"/>
<line x1="153.10000000000002" y1="4.5" x2="153.10000000000002" y2="7.5" stroke="#4a4a4a" stroke-width="1"/>
<line x1="182.7" y1="92.5" x2="182.7" y2="89.5" stroke="#4a4a4a" stroke-width="1"/>
<line x1="182.7" y1="4.5" x2="182.7" y2="7.5" stroke="#4a4a4a" stroke-width="1"/>
<line x1="212.3" y1="92.5" x2="212.3" y2="89.5" stroke="#4a4a4a" stroke-width="1"/>
<line x1="212.3" y1="4.5" x2="212.3" y2="7.5" stroke="#4a4a4a" stroke-width="1"/>
<line x1="241.90000000000003" y1="92.5" x2="241.90000000000003" y2="89.5" stroke="#4a4a4a" stroke-width="1"/>
<line x1="241.90000000000003" y1="4.5" x2="241.90000000000003" y2="7.5" stroke="#4a4a4a" stroke-width="1"/>
<line x1="271.5" y1="92.5" x2="271.5" y2="89.5" stroke="#4a4a4a" stroke-width="1"/>
<line x1="271.5" y1="4.5" x2="271.5" y2="7.5" stroke="#4a4a4a" stroke-width="1"/>
<line x1="301.1" y1="92.5" x2="301.1" y2="89.5" stroke="#4a4a4a" stroke-width="1"/>
<line x1="301.1" y1="4.5" x2="301.1" y2="7.5" stroke="#4a4a4a" stroke-width="1"/>
<line x1="330.70000000000005" y1="92.5" x2="330.70000000000005" y2="89.5" stroke="#4a4a4a" stroke-width="1"/>
<line x1="330.70000000000005" y1="4.5" x2="330.70000000000005" y2="7.5" stroke="#4a4a4a" stroke-width="1"/>
<line x1="360.3" y1="92.5" x2="360.3" y2="89.5" stroke="#4a4a4a" stroke-width="1"/>
<line x1="360.3" y1="4.5" x2="360.3" y2="7.5" stroke="#4a4a4a" stroke-width="1"/>
<line x1="389.90000000000003" y1="92.5" x2="389.90000000000003" y2="89.5" stroke="#4a4a4a" stroke-width="1"/>
<line x1="389.90000000000003" y1="4.5" x2="389.90000000000003" y2="7.5" stroke="#4a4a4a" stroke-width="1"/>
<line x1="36.5" y1="92.4" x2="39.5" y2="92.4" stroke="#4a4a4a" stroke-width="1"/>
<line x1="417.5" y1="92.4" x2="414.5" y2="92.4" stroke="#4a4a4a" stroke-width="1"/>
<line x1="36.5" y1="70.42500000000001" x2="39.5" y2="70.42500000000001" stroke="#4a4a4a" stroke-width="1"/>
<line x1="417.5" y1="70.42500000000001" x2="414.5" y2="70.42500000000001" stroke="#4a4a4a" stroke-width="1"/>
<line x1="36.5" y1="48.45" x2="39.5" y2="48.45" stroke="#4a4a4a" stroke-width="1"/>
<line x1="417.5" y1="48.45" x2="414.5" y2="48.45" stroke="#4a4a4a" stroke-width="1"/>
<line x1="36.5" y1="26.47500000000001" x2="39.5" y2="26.47500000000001" stroke="#4a4a4a" stroke-width="1"/>
<line x1="417.5" y1="26.47500000000001" x2="414.5" y2="26.47500000000001" stroke="#4a4a4a" stroke-width="1"/>
<line x1="36.5" y1="4.5" x2="39.5" y2="4.5" stroke="#4a4a4a" stroke-width="1"/>
<line x1="417.5" y1="4.5" x2="414.5" y2="4.5" stroke="#4a4a4a" stroke-width="1"/>
<rect x="36.5" y="130.2" width="381.0" height="88.30000000000001" fill="none" stroke="#4a4a4a" stroke-width="1"/>
<line x1="64.3" y1="218.5" x2="64.3" y2="215.5" stroke="#4a4a4a" stroke-width="1"/>
<line x1="64.3" y1="130.2" x2="64.3" y2="133.2" stroke="#4a4a4a" stroke-width="1"/>
<line x1="93.9" y1="218.5" x2="93.9" y2="215.5" stroke="#4a4a4a" stroke-width="1"/>
<line x1="93.9" y1="130.2" x2="93.9" y2="133.2" stroke="#4a4a4a" stroke-width="1"/>
<line x1="123.5" y1="218.5" x2="123.5" y2="215.5" stroke="#4a4a4a" stroke-width="1"/>
<line x1="123.5" y1="130.2" x2="123.5" y2="133.2" stroke="#4a4a4a" stroke-width="1"/>
<line x1="153.10000000000002" y1="218.5" x2="153.10000000000002" y2="215.5" stroke="#4a4a4a" stroke-width="1"/>
<line x1="153.10000000000002" y1="130.2" x2="153.10000000000002" y2="133.2" stroke="#4a4a4a" stroke-width="1"/>
<line x1="182.7" y1="218.5" x2="182.7" y2="215.5" stroke="#4a4a4a" stroke-width="1"/>
<line x1="182.7" y1="130.2" x2="182.7" y2="133.2" stroke="#4a4a4a" stroke-width="1"/>
<line x1="212.3" y1="218.5" x2="212.3" y2="215.5" stroke="#4a4a4a" stroke-width="1"/>
<line x1="212.3" y1="130.2" x2="212.3" y2="133.2" stroke="#4a4a4a" stroke-width="1"/>
<line x1="241.90000000000003" y1="218.5" x2="241.90000000000003" y2="215.5" stroke="#4a4a4a" stroke-width="1"/>
<line x1="241.90000000000003" y1="130.2" x2="241.90000000000003" y2="133.2" stroke="#4a4a4a" stroke-width="1"/>
<line x1="271.5" y1="218.5" x2="271.5" y2="215.5" stroke="#4a4a4a" stroke-width="1"/>
<line x1="271.5" y1="130.2" x2="271.5" y2="133.2" stroke="#4a4a4a" stroke-width="1"/>
<line x1="301.1" y1="218.5" x2="301.1" y2="215.5" stroke="#4a4a4a" stroke-width="1"/>
<line x1="301.1" y1="130.2" x2="301.1" y2="133.2" stroke="#4a4a4a" stroke-width="1"/>
<line x1="330.70000000000005" y1="218.5" x2="330.70000000000005" y2="215.5" stroke="#4a4a4a" stroke-width="1"/>
<line x1="330.70000000000005" y1="130.2" x2="330.70000000000005" y2="133.2" stroke="#4a4a4a" stroke-width="1"/>
<line x1="360.3" y1="218.5" x2="360.3" y2="215.5" stroke="#4a4a4a" stroke-width="1"/>
<line x1="360.3" y1="130.2" x2="360.3" y2="133.2" stroke="#4a4a4a" stroke-width="1"/>
<line x1="389.90000000000003" y1="218.5" x2="389.90000000000003" y2="215.5" stroke="#4a4a4a" stroke-width="1"/>
<line x1="389.90000000000003" y1="130.2" x2="389.90000000000003" y2="133.2" stroke="#4a4a4a" stroke-width="1"/>
<line x1="36.5" y1="218.4" x2="39.5" y2="218.4" stroke="#4a4a4a" stroke-width="1"/>
<line x1="417.5" y1="218.4" x2="414.5" y2="218.4" stroke="#4a4a4a" stroke-width="1"/>
<line x1="36.5" y1="175.5" x2="39.5" y2="175.5" stroke="#4a4a4a" stroke-width="1"/>
<line x1="417.5" y1="175.5" x2="414.5" y2="175.5" stroke="#4a4a4a" stroke-width="1"/>
<line x1="36.5" y1="132.60000000000002" x2="39.5" y2="132.60000000000002" stroke="#4a4a4a" stroke-width="1"/>
<line x1="417.5" y1="132.60000000000002" x2="414.5" y2="132.60000000000002" stroke="#4a4a4a" stroke-width="1"/>
<line x1="460.5" y1="4.5" x2="460.5" y2="218.5" stroke="#4a4a4a" stroke-width="1"/>
<line x1="460.5" y1="218.5" x2="659" y2="218.5" stroke="#4a4a4a" stroke-width="1"/>
<line x1="460.5" y1="218.3" x2="463.5" y2="218.3" stroke="#4a4a4a" stroke-width="1"/>
<line x1="460.5" y1="196.92000000000002" x2="463.5" y2="196.92000000000002" stroke="#4a4a4a" stroke-width="1"/>
<line x1="460.5" y1="175.54000000000002" x2="463.5" y2="175.54000000000002" stroke="#4a4a4a" stroke-width="1"/>
<line x1="460.5" y1="154.16000000000003" x2="463.5" y2="154.16000000000003" stroke="#4a4a4a" stroke-width="1"/>
<line x1="460.5" y1="132.78000000000003" x2="463.5" y2="132.78000000000003" stroke="#4a4a4a" stroke-width="1"/>
<line x1="460.5" y1="111.40000000000002" x2="463.5" y2="111.40000000000002" stroke="#4a4a4a" stroke-width="1"/>
<line x1="460.5" y1="90.02000000000001" x2="463.5" y2="90.02000000000001" stroke="#4a4a4a" stroke-width="1"/>
<line x1="460.5" y1="68.64000000000001" x2="463.5" y2="68.64000000000001" stroke="#4a4a4a" stroke-width="1"/>
<line x1="460.5" y1="47.26000000000002" x2="463.5" y2="47.26000000000002" stroke="#4a4a4a" stroke-width="1"/>
<line x1="460.5" y1="25.880000000000024" x2="463.5" y2="25.880000000000024" stroke="#4a4a4a" stroke-width="1"/>
<line x1="460.5" y1="4.500000000000028" x2="463.5" y2="4.500000000000028" stroke="#4a4a4a" stroke-width="1"/>
<line x1="460.2" y1="218.5" x2="460.2" y2="215.5" stroke="#4a4a4a" stroke-width="1"/>
<line x1="492.6" y1="218.5" x2="492.6" y2="215.5" stroke="#4a4a4a" stroke-width="1"/>
<line x1="525.0" y1="218.5" x2="525.0" y2="215.5" stroke="#4a4a4a" stroke-width="1"/>
<line x1="557.4" y1="218.5" x2="557.4" y2="215.5" stroke="#4a4a4a" stroke-width="1"/>
<line x1="589.8" y1="218.5" x2="589.8" y2="215.5" stroke="#4a4a4a" stroke-width="1"/>
<line x1="622.2" y1="218.5" x2="622.2" y2="215.5" stroke="#4a4a4a" stroke-width="1"/>
<line x1="654.6" y1="218.5" x2="654.6" y2="215.5" stroke="#4a4a4a" stroke-width="1"/>
<defs><clipPath id="cc"><rect x="455" y="4.5" width="205" height="241"/></clipPath></defs><g clip-path="url(#cc)">
<path d="M460.40,4.40 C460.63,4.92 461.10,6.23 461.80,7.50 C462.50,8.77 463.85,10.88 464.58,12.00 C465.31,13.12 465.30,13.43 466.20,14.20 C467.09,14.97 468.75,15.80 469.94,16.60 C471.13,17.40 472.54,18.18 473.35,19.00 C474.16,19.82 474.44,20.65 474.80,21.50 C475.16,22.35 475.13,23.02 475.50,24.10 C475.87,25.18 476.42,26.68 477.00,28.00 C477.58,29.32 478.33,30.62 479.00,32.00 C479.67,33.38 479.92,34.93 481.00,36.30 C482.08,37.67 484.33,38.85 485.50,40.20 C486.67,41.55 486.88,42.35 488.00,44.40 C489.12,46.45 490.96,49.90 492.20,52.50 C493.44,55.10 493.87,56.98 495.42,60.00 C496.98,63.02 499.90,67.27 501.51,70.60 C503.13,73.93 503.87,76.77 505.10,80.00 C506.34,83.23 507.38,86.67 508.93,90.00 C510.48,93.33 512.72,96.33 514.41,100.00 C516.10,103.67 517.09,107.93 519.08,112.00 C521.07,116.07 523.79,120.30 526.35,124.40 C528.90,128.50 531.12,132.42 534.40,136.60 C537.68,140.78 542.40,145.65 546.00,149.50 C549.60,153.35 552.30,156.37 556.00,159.70 C559.70,163.03 564.13,166.23 568.20,169.50 C572.27,172.77 576.33,176.45 580.40,179.30 C584.47,182.15 589.33,184.77 592.60,186.60 C595.87,188.43 597.07,188.67 600.00,190.30 C602.93,191.93 606.82,194.03 610.20,196.39 C613.58,198.75 617.60,201.78 620.30,204.46 C623.00,207.13 624.70,210.55 626.40,212.45 C628.10,214.35 629.23,214.94 630.50,215.87 C631.77,216.79 632.75,217.58 634.00,218.00 C635.25,218.42 637.33,218.33 638.00,218.40" fill="none" stroke="#118811" stroke-width="0.8" stroke-linejoin="round"/>
<path d="M460.40,4.40 C460.64,4.92 461.14,6.23 461.84,7.50 C462.54,8.77 463.88,10.88 464.59,12.00 C465.30,13.12 465.29,13.43 466.10,14.20 C466.92,14.97 468.35,15.80 469.50,16.60 C470.65,17.40 472.17,18.18 473.00,19.00 C473.83,19.82 474.08,20.65 474.50,21.50 C474.92,22.35 475.06,23.02 475.50,24.10 C475.94,25.18 476.45,26.68 477.16,28.00 C477.87,29.32 478.89,30.62 479.77,32.00 C480.64,33.38 481.19,34.93 482.43,36.30 C483.67,37.67 485.97,38.85 487.22,40.20 C488.47,41.55 488.78,42.35 489.95,44.40 C491.11,46.45 493.02,49.90 494.21,52.50 C495.40,55.10 495.82,56.98 497.12,60.00 C498.41,63.02 500.72,67.27 501.99,70.60 C503.26,73.93 503.73,76.77 504.73,80.00 C505.73,83.23 506.50,86.67 508.00,90.00 C509.50,93.33 511.95,96.33 513.70,100.00 C515.45,103.67 516.45,107.93 518.50,112.00 C520.55,116.07 523.35,120.30 526.00,124.40 C528.65,128.50 531.07,132.44 534.40,136.60 C537.73,140.76 542.40,145.59 546.00,149.35 C549.60,153.11 552.30,155.93 556.00,159.17 C559.70,162.40 564.13,165.54 568.20,168.76 C572.27,171.98 576.33,175.64 580.40,178.49 C584.47,181.34 589.33,184.00 592.60,185.87 C595.87,187.74 597.07,188.03 600.00,189.72 C602.93,191.41 606.82,193.60 610.20,196.03 C613.58,198.47 617.60,201.58 620.30,204.34 C623.00,207.09 624.70,210.65 626.40,212.57 C628.10,214.50 629.23,214.98 630.50,215.88 C631.77,216.79 632.75,217.57 634.00,217.99 C635.25,218.41 637.33,218.33 638.00,218.40" fill="none" stroke="#118811" stroke-width="0.8" stroke-linejoin="round"/>
<path d="M460.40,4.40 C460.65,4.92 461.19,6.23 461.90,7.50 C462.62,8.77 463.93,10.88 464.69,12.00 C465.45,13.12 465.55,13.43 466.45,14.20 C467.36,14.97 468.91,15.80 470.14,16.60 C471.37,17.40 472.85,18.18 473.83,19.00 C474.80,19.82 475.34,20.65 476.01,21.50 C476.67,22.35 477.16,23.02 477.79,24.10 C478.43,25.18 479.15,26.68 479.80,28.00 C480.45,29.32 481.11,30.62 481.70,32.00 C482.29,33.38 482.44,34.93 483.33,36.30 C484.22,37.67 486.08,38.85 487.03,40.20 C487.97,41.55 488.03,42.35 488.99,44.40 C489.95,46.45 491.68,49.90 492.81,52.50 C493.95,55.10 494.39,56.98 495.82,60.00 C497.26,63.02 499.90,67.27 501.41,70.60 C502.93,73.93 503.66,76.77 504.91,80.00 C506.17,83.23 507.30,86.67 508.94,90.00 C510.58,93.33 512.92,96.33 514.75,100.00 C516.57,103.67 517.71,107.93 519.89,112.00 C522.07,116.07 525.03,120.30 527.81,124.40 C530.60,128.50 533.57,132.81 536.60,136.60 C539.64,140.39 542.77,143.60 546.00,147.15 C549.23,150.70 552.30,154.36 556.00,157.89 C559.70,161.42 564.13,164.88 568.20,168.33 C572.27,171.78 576.33,175.61 580.40,178.59 C584.47,181.58 589.33,184.31 592.60,186.24 C595.87,188.16 597.07,188.45 600.00,190.13 C602.93,191.80 606.82,193.92 610.20,196.31 C613.58,198.70 617.60,201.79 620.30,204.49 C623.00,207.19 624.70,210.62 626.40,212.51 C628.10,214.40 629.23,214.91 630.50,215.82 C631.77,216.73 632.75,217.54 634.00,217.97 C635.25,218.40 637.33,218.33 638.00,218.40" fill="none" stroke="#118811" stroke-width="0.8" stroke-linejoin="round"/>
<path d="M460.40,4.40 C460.66,4.92 461.19,6.23 461.96,7.50 C462.73,8.77 464.16,10.88 465.00,12.00 C465.84,13.12 466.03,13.43 466.98,14.20 C467.93,14.97 469.53,15.80 470.70,16.60 C471.87,17.40 473.18,18.18 474.02,19.00 C474.87,19.82 475.30,20.65 475.78,21.50 C476.26,22.35 476.48,23.02 476.91,24.10 C477.35,25.18 477.83,26.68 478.40,28.00 C478.97,29.32 479.66,30.62 480.35,32.00 C481.04,33.38 481.41,34.93 482.56,36.30 C483.71,37.67 485.96,38.85 487.25,40.20 C488.53,41.55 488.95,42.35 490.28,44.40 C491.60,46.45 493.76,49.90 495.21,52.50 C496.67,55.10 497.49,56.98 499.00,60.00 C500.52,63.02 502.90,67.27 504.29,70.60 C505.68,73.93 506.25,76.77 507.33,80.00 C508.41,83.23 509.39,86.67 510.77,90.00 C512.15,93.33 514.06,96.33 515.63,100.00 C517.20,103.67 518.21,107.93 520.19,112.00 C522.17,116.07 524.93,120.30 527.52,124.40 C530.11,128.50 532.67,132.61 535.75,136.60 C538.83,140.59 542.62,144.63 546.00,148.33 C549.38,152.03 552.30,155.39 556.00,158.79 C559.70,162.19 564.13,165.43 568.20,168.71 C572.27,171.99 576.33,175.63 580.40,178.47 C584.47,181.31 589.33,183.92 592.60,185.74 C595.87,187.57 597.07,187.77 600.00,189.42 C602.93,191.07 606.82,193.24 610.20,195.62 C613.58,198.00 617.60,201.01 620.30,203.70 C623.00,206.40 624.70,209.77 626.40,211.77 C628.10,213.77 629.23,214.70 630.50,215.73 C631.77,216.76 632.75,217.51 634.00,217.96 C635.25,218.41 637.33,218.33 638.00,218.40" fill="none" stroke="#118811" stroke-width="0.8" stroke-linejoin="round"/>
<path d="M460.40,4.40 C460.67,4.92 461.26,6.23 462.02,7.50 C462.79,8.77 464.18,10.88 465.00,12.00 C465.82,13.12 466.05,13.43 466.94,14.20 C467.82,14.97 469.16,15.80 470.31,16.60 C471.46,17.40 472.90,18.18 473.86,19.00 C474.81,19.82 475.32,20.65 476.03,21.50 C476.73,22.35 477.29,23.02 478.09,24.10 C478.88,25.18 479.86,26.68 480.79,28.00 C481.71,29.32 482.71,30.62 483.63,32.00 C484.56,33.38 485.20,34.93 486.34,36.30 C487.47,37.67 489.36,38.85 490.44,40.20 C491.52,41.55 491.76,42.35 492.84,44.40 C493.92,46.45 495.78,49.90 496.91,52.50 C498.03,55.10 498.41,56.98 499.58,60.00 C500.75,63.02 502.77,67.27 503.92,70.60 C505.07,73.93 505.50,76.77 506.48,80.00 C507.46,83.23 508.37,86.67 509.80,90.00 C511.22,93.33 513.32,96.33 515.01,100.00 C516.70,103.67 517.79,107.93 519.93,112.00 C522.07,116.07 525.02,120.30 527.84,124.40 C530.67,128.50 533.87,132.95 536.90,136.60 C539.92,140.25 542.82,142.97 546.00,146.30 C549.18,149.63 552.30,153.15 556.00,156.57 C559.70,159.98 564.13,163.39 568.20,166.79 C572.27,170.19 576.33,173.98 580.40,176.98 C584.47,179.98 589.33,182.80 592.60,184.79 C595.87,186.79 597.07,187.16 600.00,188.94 C602.93,190.73 606.82,193.02 610.20,195.50 C613.58,197.98 617.60,201.06 620.30,203.81 C623.00,206.57 624.70,210.05 626.40,212.03 C628.10,214.02 629.23,214.75 630.50,215.74 C631.77,216.72 632.75,217.50 634.00,217.94 C635.25,218.39 637.33,218.32 638.00,218.40" fill="none" stroke="#118811" stroke-width="0.8" stroke-linejoin="round"/>
<path d="M460.40,4.40 C460.68,4.92 461.28,6.23 462.08,7.50 C462.88,8.77 464.29,10.88 465.18,12.00 C466.08,13.12 466.42,13.43 467.46,14.20 C468.49,14.97 470.12,15.80 471.38,16.60 C472.63,17.40 473.95,18.18 474.99,19.00 C476.04,19.82 476.84,20.65 477.65,21.50 C478.46,22.35 479.13,23.02 479.87,24.10 C480.61,25.18 481.41,26.68 482.09,28.00 C482.77,29.32 483.35,30.62 483.94,32.00 C484.53,33.38 484.75,34.93 485.63,36.30 C486.50,37.67 488.21,38.85 489.17,40.20 C490.13,41.55 490.29,42.35 491.37,44.40 C492.45,46.45 494.37,49.90 495.65,52.50 C496.94,55.10 497.61,56.98 499.06,60.00 C500.51,63.02 502.91,67.27 504.35,70.60 C505.78,73.93 506.47,76.77 507.68,80.00 C508.89,83.23 510.09,86.67 511.61,90.00 C513.12,93.33 515.05,96.33 516.75,100.00 C518.46,103.67 519.65,107.93 521.82,112.00 C523.99,116.07 526.98,120.30 529.78,124.40 C532.57,128.50 535.88,133.13 538.59,136.60 C541.29,140.07 543.10,141.94 546.00,145.24 C548.90,148.54 552.30,152.73 556.00,156.39 C559.70,160.04 564.13,163.63 568.20,167.17 C572.27,170.70 576.33,174.56 580.40,177.58 C584.47,180.61 589.33,183.39 592.60,185.34 C595.87,187.30 597.07,187.59 600.00,189.30 C602.93,191.01 606.82,193.21 610.20,195.61 C613.58,198.01 617.60,201.01 620.30,203.69 C623.00,206.36 624.70,209.66 626.40,211.66 C628.10,213.65 629.23,214.60 630.50,215.64 C631.77,216.69 632.75,217.47 634.00,217.93 C635.25,218.39 637.33,218.32 638.00,218.40" fill="none" stroke="#118811" stroke-width="0.8" stroke-linejoin="round"/>
<path d="M460.40,4.40 C460.69,4.92 461.30,6.23 462.14,7.50 C462.98,8.77 464.50,10.88 465.44,12.00 C466.39,13.12 466.82,13.43 467.83,14.20 C468.83,14.97 470.32,15.80 471.48,16.60 C472.64,17.40 473.86,18.18 474.78,19.00 C475.71,19.82 476.33,20.65 477.01,21.50 C477.69,22.35 478.17,23.02 478.85,24.10 C479.54,25.18 480.33,26.68 481.13,28.00 C481.94,29.32 482.79,30.62 483.67,32.00 C484.55,33.38 485.22,34.93 486.44,36.30 C487.66,37.67 489.69,38.85 490.96,40.20 C492.23,41.55 492.72,42.35 494.08,44.40 C495.44,46.45 497.69,49.90 499.12,52.50 C500.56,55.10 501.38,56.98 502.70,60.00 C504.01,63.02 505.90,67.27 507.03,70.60 C508.16,73.93 508.56,76.77 509.49,80.00 C510.41,83.23 511.34,86.67 512.57,90.00 C513.81,93.33 515.42,96.33 516.91,100.00 C518.39,103.67 519.45,107.93 521.46,112.00 C523.48,116.07 526.31,120.30 529.00,124.40 C531.70,128.50 534.78,133.00 537.61,136.60 C540.45,140.20 542.94,142.70 546.00,146.03 C549.06,149.35 552.30,153.09 556.00,156.54 C559.70,160.00 564.13,163.37 568.20,166.73 C572.27,170.10 576.33,173.80 580.40,176.73 C584.47,179.66 589.33,182.39 592.60,184.32 C595.87,186.24 597.07,186.54 600.00,188.29 C602.93,190.04 606.82,192.38 610.20,194.82 C613.58,197.27 617.60,200.25 620.30,202.96 C623.00,205.67 624.70,209.01 626.40,211.11 C628.10,213.21 629.23,214.45 630.50,215.58 C631.77,216.72 632.75,217.44 634.00,217.91 C635.25,218.38 637.33,218.32 638.00,218.40" fill="none" stroke="#118811" stroke-width="0.8" stroke-linejoin="round"/>
<path d="M460.40,4.40 C460.70,4.92 461.37,6.23 462.20,7.50 C463.03,8.77 464.47,10.88 465.40,12.00 C466.34,13.12 466.81,13.43 467.80,14.20 C468.80,14.97 470.18,15.80 471.38,16.60 C472.59,17.40 473.94,18.18 475.03,19.00 C476.13,19.82 476.99,20.65 477.97,21.50 C478.94,22.35 479.85,23.02 480.89,24.10 C481.93,25.18 483.16,26.68 484.19,28.00 C485.22,29.32 486.15,30.62 487.05,32.00 C487.96,33.38 488.62,34.93 489.62,36.30 C490.62,37.67 492.13,38.85 493.05,40.20 C493.98,41.55 494.15,42.35 495.17,44.40 C496.19,46.45 498.05,49.90 499.16,52.50 C500.26,55.10 500.68,56.98 501.80,60.00 C502.91,63.02 504.74,67.27 505.84,70.60 C506.93,73.93 507.38,76.77 508.37,80.00 C509.37,83.23 510.42,86.67 511.82,90.00 C513.21,93.33 515.08,96.33 516.76,100.00 C518.44,103.67 519.67,107.93 521.90,112.00 C524.14,116.07 527.22,120.30 530.17,124.40 C533.12,128.50 536.95,133.43 539.59,136.60 C542.23,139.77 543.26,140.50 546.00,143.45 C548.74,146.39 552.30,150.65 556.00,154.27 C559.70,157.88 564.13,161.55 568.20,165.13 C572.27,168.72 576.33,172.63 580.40,175.76 C584.47,178.90 589.33,181.84 592.60,183.93 C595.87,186.01 597.07,186.44 600.00,188.29 C602.93,190.14 606.82,192.52 610.20,195.02 C613.58,197.52 617.60,200.55 620.30,203.29 C623.00,206.03 624.70,209.40 626.40,211.45 C628.10,213.50 629.23,214.51 630.50,215.58 C631.77,216.66 632.75,217.43 634.00,217.90 C635.25,218.37 637.33,218.32 638.00,218.40" fill="none" stroke="#118811" stroke-width="0.8" stroke-linejoin="round"/>
<path d="M460.40,4.40 C460.71,4.92 461.38,6.23 462.26,7.50 C463.15,8.77 464.67,10.88 465.70,12.00 C466.74,13.12 467.34,13.43 468.48,14.20 C469.62,14.97 471.29,15.80 472.55,16.60 C473.81,17.40 474.96,18.18 476.05,19.00 C477.14,19.82 478.16,20.65 479.10,21.50 C480.05,22.35 480.87,23.02 481.73,24.10 C482.58,25.18 483.49,26.68 484.24,28.00 C484.99,29.32 485.57,30.62 486.23,32.00 C486.89,33.38 487.29,34.93 488.22,36.30 C489.14,37.67 490.75,38.85 491.77,40.20 C492.79,41.55 493.10,42.35 494.32,44.40 C495.55,46.45 497.71,49.90 499.14,52.50 C500.56,55.10 501.46,56.98 502.88,60.00 C504.29,63.02 506.34,67.27 507.63,70.60 C508.92,73.93 509.51,76.77 510.61,80.00 C511.72,83.23 512.92,86.67 514.26,90.00 C515.60,93.33 517.10,96.33 518.65,100.00 C520.20,103.67 521.43,107.93 523.58,112.00 C525.72,116.07 528.72,120.30 531.52,124.40 C534.31,128.50 537.95,133.43 540.36,136.60 C542.78,139.77 543.39,140.40 546.00,143.44 C548.61,146.48 552.30,151.10 556.00,154.84 C559.70,158.57 564.13,162.26 568.20,165.85 C572.27,169.44 576.33,173.30 580.40,176.36 C584.47,179.42 589.33,182.24 592.60,184.23 C595.87,186.22 597.07,186.53 600.00,188.28 C602.93,190.04 606.82,192.36 610.20,194.78 C613.58,197.20 617.60,200.13 620.30,202.79 C623.00,205.45 624.70,208.65 626.40,210.76 C628.10,212.87 629.23,214.28 630.50,215.47 C631.77,216.65 632.75,217.39 634.00,217.88 C635.25,218.37 637.33,218.31 638.00,218.40" fill="none" stroke="#118811" stroke-width="0.8" stroke-linejoin="round"/>
<path d="M460.40,4.40 C460.72,4.92 461.42,6.23 462.33,7.50 C463.24,8.77 464.81,10.88 465.86,12.00 C466.91,13.12 467.56,13.43 468.63,14.20 C469.69,14.97 471.09,15.80 472.25,16.60 C473.41,17.40 474.57,18.18 475.60,19.00 C476.63,19.82 477.51,20.65 478.43,21.50 C479.35,22.35 480.16,23.02 481.14,24.10 C482.12,25.18 483.28,26.68 484.33,28.00 C485.37,29.32 486.36,30.62 487.41,32.00 C488.45,33.38 489.38,34.93 490.60,36.30 C491.82,37.67 493.54,38.85 494.72,40.20 C495.91,41.55 496.40,42.35 497.72,44.40 C499.05,46.45 501.31,49.90 502.67,52.50 C504.03,55.10 504.79,56.98 505.90,60.00 C507.02,63.02 508.46,67.27 509.36,70.60 C510.27,73.93 510.53,76.77 511.34,80.00 C512.14,83.23 513.06,86.67 514.20,90.00 C515.33,93.33 516.71,96.33 518.15,100.00 C519.59,103.67 520.74,107.93 522.83,112.00 C524.92,116.07 527.88,120.30 530.71,124.40 C533.54,128.50 537.27,133.44 539.82,136.60 C542.37,139.76 543.30,140.43 546.00,143.33 C548.70,146.24 552.30,150.47 556.00,154.02 C559.70,157.57 564.13,161.13 568.20,164.62 C572.27,168.11 576.33,171.91 580.40,174.96 C584.47,178.02 589.33,180.91 592.60,182.96 C595.87,185.01 597.07,185.40 600.00,187.26 C602.93,189.13 606.82,191.62 610.20,194.13 C613.58,196.65 617.60,199.59 620.30,202.33 C623.00,205.07 624.70,208.36 626.40,210.55 C628.10,212.73 629.23,214.22 630.50,215.44 C631.77,216.66 632.75,217.37 634.00,217.87 C635.25,218.36 637.33,218.31 638.00,218.40" fill="none" stroke="#118811" stroke-width="0.8" stroke-linejoin="round"/>
<path d="M460.40,4.40 C460.73,4.92 461.48,6.23 462.39,7.50 C463.31,8.77 464.81,10.88 465.89,12.00 C466.96,13.12 467.69,13.43 468.82,14.20 C469.95,14.97 471.42,15.80 472.68,16.60 C473.94,17.40 475.15,18.18 476.38,19.00 C477.61,19.82 478.83,20.65 480.06,21.50 C481.28,22.35 482.51,23.02 483.75,24.10 C484.99,25.18 486.41,26.68 487.49,28.00 C488.58,29.32 489.40,30.62 490.26,32.00 C491.12,33.38 491.78,34.93 492.66,36.30 C493.54,37.67 494.72,38.85 495.53,40.20 C496.35,41.55 496.51,42.35 497.53,44.40 C498.55,46.45 500.50,49.90 501.66,52.50 C502.82,55.10 503.39,56.98 504.50,60.00 C505.60,63.02 507.25,67.27 508.30,70.60 C509.36,73.93 509.82,76.77 510.83,80.00 C511.84,83.23 513.03,86.67 514.37,90.00 C515.71,93.33 517.25,96.33 518.88,100.00 C520.50,103.67 521.85,107.93 524.15,112.00 C526.45,116.07 529.65,120.30 532.68,124.40 C535.71,128.50 540.11,133.89 542.33,136.60 C544.55,139.31 543.72,138.10 546.00,140.68 C548.28,143.27 552.30,148.30 556.00,152.12 C559.70,155.93 564.13,159.85 568.20,163.60 C572.27,167.34 576.33,171.36 580.40,174.60 C584.47,177.84 589.33,180.88 592.60,183.04 C595.87,185.20 597.07,185.66 600.00,187.56 C602.93,189.46 606.82,191.93 610.20,194.44 C613.58,196.95 617.60,199.91 620.30,202.62 C623.00,205.32 624.70,208.56 626.40,210.69 C628.10,212.83 629.23,214.21 630.50,215.41 C631.77,216.60 632.75,217.35 634.00,217.85 C635.25,218.35 637.33,218.31 638.00,218.40" fill="none" stroke="#118811" stroke-width="0.8" stroke-linejoin="round"/>
<path d="M460.40,4.40 C460.74,4.92 461.48,6.23 462.46,7.50 C463.43,8.77 465.06,10.88 466.23,12.00 C467.40,13.12 468.25,13.43 469.48,14.20 C470.71,14.97 472.35,15.80 473.61,16.60 C474.86,17.40 475.85,18.18 476.99,19.00 C478.13,19.82 479.34,20.65 480.43,21.50 C481.52,22.35 482.51,23.02 483.53,24.10 C484.54,25.18 485.63,26.68 486.52,28.00 C487.41,29.32 488.07,30.62 488.88,32.00 C489.69,33.38 490.36,34.93 491.37,36.30 C492.38,37.67 493.88,38.85 494.97,40.20 C496.05,41.55 496.52,42.35 497.88,44.40 C499.25,46.45 501.62,49.90 503.15,52.50 C504.68,55.10 505.74,56.98 507.05,60.00 C508.36,63.02 509.95,67.27 511.02,70.60 C512.09,73.93 512.52,76.77 513.47,80.00 C514.43,83.23 515.59,86.67 516.74,90.00 C517.89,93.33 518.95,96.33 520.35,100.00 C521.75,103.67 523.01,107.93 525.14,112.00 C527.26,116.07 530.28,120.30 533.10,124.40 C535.93,128.50 539.94,133.75 542.09,136.60 C544.24,139.45 543.68,138.78 546.00,141.52 C548.32,144.26 552.30,149.26 556.00,153.05 C559.70,156.83 564.13,160.61 568.20,164.24 C572.27,167.88 576.33,171.75 580.40,174.85 C584.47,177.96 589.33,180.85 592.60,182.90 C595.87,184.94 597.07,185.29 600.00,187.12 C602.93,188.95 606.82,191.42 610.20,193.88 C613.58,196.34 617.60,199.20 620.30,201.87 C623.00,204.54 624.70,207.64 626.40,209.88 C628.10,212.12 629.23,213.97 630.50,215.29 C631.77,216.62 632.75,217.32 634.00,217.84 C635.25,218.35 637.33,218.31 638.00,218.40" fill="none" stroke="#118811" stroke-width="0.8" stroke-linejoin="round"/>
<path d="M460.40,4.40 C460.75,4.92 461.54,6.23 462.52,7.50 C463.50,8.77 465.12,10.88 466.28,12.00 C467.44,13.12 468.33,13.43 469.47,14.20 C470.62,14.97 471.96,15.80 473.14,16.60 C474.33,17.40 475.43,18.18 476.60,19.00 C477.77,19.82 478.96,20.65 480.17,21.50 C481.38,22.35 482.58,23.02 483.88,24.10 C485.18,25.18 486.72,26.68 487.98,28.00 C489.25,29.32 490.32,30.62 491.46,32.00 C492.61,33.38 493.72,34.93 494.87,36.30 C496.02,37.67 497.34,38.85 498.38,40.20 C499.42,41.55 499.85,42.35 501.10,44.40 C502.35,46.45 504.58,49.90 505.85,52.50 C507.13,55.10 507.82,56.98 508.76,60.00 C509.70,63.02 510.76,67.27 511.49,70.60 C512.23,73.93 512.41,76.77 513.15,80.00 C513.89,83.23 514.87,86.67 515.94,90.00 C517.02,93.33 518.18,96.33 519.61,100.00 C521.03,103.67 522.30,107.93 524.50,112.00 C526.70,116.07 529.82,120.30 532.81,124.40 C535.80,128.50 540.26,133.96 542.46,136.60 C544.66,139.24 543.74,137.81 546.00,140.26 C548.26,142.71 552.30,147.58 556.00,151.28 C559.70,154.98 564.13,158.80 568.20,162.46 C572.27,166.12 576.33,170.05 580.40,173.25 C584.47,176.46 589.33,179.52 592.60,181.70 C595.87,183.88 597.07,184.38 600.00,186.35 C602.93,188.32 606.82,190.95 610.20,193.52 C613.58,196.09 617.60,199.01 620.30,201.75 C623.00,204.50 624.70,207.73 626.40,209.99 C628.10,212.25 629.23,213.99 630.50,215.29 C631.77,216.60 632.75,217.30 634.00,217.82 C635.25,218.34 637.33,218.30 638.00,218.40" fill="none" stroke="#118811" stroke-width="0.8" stroke-linejoin="round"/>
<path d="M460.40,4.40 C460.76,4.92 461.57,6.23 462.56,7.50 C463.55,8.77 465.14,10.88 466.34,12.00 C467.54,13.12 468.51,13.43 469.77,14.20 C471.03,14.97 472.61,15.80 473.90,16.60 C475.19,17.40 476.23,18.18 477.50,19.00 C478.77,19.82 480.17,20.65 481.50,21.50 C482.83,22.35 484.17,23.02 485.50,24.10 C486.83,25.18 488.33,26.68 489.50,28.00 C490.67,29.32 491.60,30.62 492.50,32.00 C493.40,33.38 494.08,34.93 494.91,36.30 C495.74,37.67 496.70,38.85 497.48,40.20 C498.25,41.55 498.47,42.35 499.56,44.40 C500.65,46.45 502.75,49.90 504.03,52.50 C505.30,55.10 506.08,56.98 507.22,60.00 C508.35,63.02 509.82,67.27 510.84,70.60 C511.86,73.93 512.32,76.77 513.33,80.00 C514.33,83.23 515.63,86.67 516.88,90.00 C518.14,93.33 519.33,96.33 520.85,100.00 C522.37,103.67 523.74,107.93 526.00,112.00 C528.26,116.07 531.40,120.30 534.40,124.40 C537.40,128.50 542.07,134.17 544.00,136.60 C545.93,139.03 544.00,136.67 546.00,139.00 C548.00,141.33 552.30,146.69 556.00,150.60 C559.70,154.51 564.13,158.61 568.20,162.46 C572.27,166.31 576.33,170.39 580.40,173.69 C584.47,176.99 589.33,180.09 592.60,182.28 C595.87,184.48 597.07,184.95 600.00,186.87 C602.93,188.80 606.82,191.34 610.20,193.85 C613.58,196.36 617.60,199.24 620.30,201.92 C623.00,204.60 624.70,207.71 626.40,209.93 C628.10,212.15 629.23,213.93 630.50,215.24 C631.77,216.55 632.75,217.28 634.00,217.81 C635.25,218.34 637.33,218.30 638.00,218.40" fill="none" stroke="#118811" stroke-width="0.8" stroke-linejoin="round"/>
<path d="M460.40,4.40 C460.77,4.92 461.58,6.23 462.60,7.50 C463.62,8.77 465.27,10.88 466.50,12.00 C467.73,13.12 468.75,13.43 470.00,14.20 C471.25,14.97 472.75,15.80 474.00,16.60 C475.25,17.40 476.29,18.18 477.50,19.00 C478.71,19.82 480.05,20.65 481.26,21.50 C482.48,22.35 483.61,23.02 484.79,24.10 C485.96,25.18 487.25,26.68 488.32,28.00 C489.38,29.32 490.18,30.62 491.16,32.00 C492.14,33.38 493.08,34.93 494.19,36.30 C495.30,37.67 496.69,38.85 497.82,40.20 C498.95,41.55 499.61,42.35 500.97,44.40 C502.33,46.45 504.61,49.90 506.00,52.50 C507.39,55.10 508.23,56.98 509.30,60.00 C510.37,63.02 511.55,67.27 512.40,70.60 C513.25,73.93 513.55,76.77 514.40,80.00 C515.25,83.23 516.40,86.67 517.50,90.00 C518.60,93.33 519.58,96.33 521.00,100.00 C522.42,103.67 523.82,107.93 526.00,112.00 C528.18,116.07 531.22,120.30 534.10,124.40 C536.99,128.50 541.32,134.00 543.31,136.60 C545.29,139.20 543.88,137.52 546.00,140.00 C548.12,142.48 552.30,147.70 556.00,151.50 C559.70,155.30 564.13,159.14 568.20,162.81 C572.27,166.48 576.33,170.35 580.40,173.51 C584.47,176.67 589.33,179.61 592.60,181.74 C595.87,183.87 597.07,184.36 600.00,186.30 C602.93,188.24 606.82,190.87 610.20,193.40 C613.58,195.93 617.60,198.80 620.30,201.50 C623.00,204.20 624.70,207.32 626.40,209.60 C628.10,211.88 629.23,213.83 630.50,215.20 C631.77,216.57 632.75,217.27 634.00,217.80 C635.25,218.33 637.33,218.30 638.00,218.40" fill="none" stroke="#118811" stroke-width="0.8" stroke-linejoin="round"/>
<path d="M498.00,4.50 C499.17,4.50 503.16,4.49 505.00,4.50 C506.84,4.51 507.25,4.34 509.05,4.55 C510.84,4.75 513.51,5.13 515.76,5.73 C518.02,6.33 520.33,6.98 522.58,8.15 C524.83,9.32 527.04,10.93 529.27,12.78 C531.49,14.63 533.72,16.48 535.94,19.25 C538.15,22.03 540.91,26.42 542.55,29.43 C544.19,32.43 544.45,34.45 545.79,37.29 C547.12,40.13 548.71,42.60 550.58,46.47 C552.44,50.35 554.94,56.02 556.98,60.55 C559.03,65.07 560.82,69.08 562.86,73.60 C564.89,78.12 567.01,82.89 569.22,87.66 C571.42,92.43 573.59,97.06 576.07,102.22 C578.55,107.37 581.43,113.16 584.11,118.59 C586.80,124.02 589.60,129.60 592.20,134.80 C594.80,140.00 597.42,145.22 599.70,149.80 C601.99,154.38 604.20,158.80 605.90,162.30 C607.60,165.80 608.45,167.85 609.90,170.80 C611.35,173.75 612.97,176.78 614.60,180.00 C616.24,183.22 618.34,187.06 619.71,190.12 C621.08,193.17 621.97,195.96 622.82,198.35 C623.68,200.74 624.16,202.60 624.82,204.45 C625.49,206.29 626.13,207.91 626.81,209.42 C627.49,210.92 628.23,212.32 628.89,213.47 C629.55,214.63 630.01,215.69 630.79,216.36 C631.57,217.02 632.04,217.19 633.58,217.46 C635.12,217.72 638.96,217.87 640.03,217.95" fill="none" stroke="#a2142f" stroke-width="0.85" stroke-linejoin="round"/>
<path d="M498.00,4.50 C499.17,4.50 503.16,4.46 505.00,4.50 C506.84,4.54 507.25,4.43 509.01,4.72 C510.78,5.02 513.38,5.58 515.58,6.27 C517.77,6.96 519.98,7.69 522.17,8.89 C524.37,10.08 526.55,11.61 528.73,13.42 C530.91,15.24 533.10,17.04 535.28,19.78 C537.46,22.51 540.19,26.85 541.82,29.83 C543.44,32.81 543.69,34.81 545.03,37.65 C546.36,40.48 547.95,42.97 549.82,46.84 C551.70,50.71 554.22,56.36 556.29,60.86 C558.37,65.37 560.19,69.38 562.26,73.88 C564.33,78.39 566.48,83.14 568.71,87.90 C570.95,92.65 573.15,97.28 575.67,102.42 C578.19,107.56 581.12,113.32 583.82,118.74 C586.53,124.16 589.32,129.74 591.92,134.94 C594.52,140.14 597.14,145.36 599.42,149.94 C601.70,154.52 603.92,158.94 605.62,162.44 C607.32,165.94 608.17,167.99 609.62,170.94 C611.07,173.89 612.69,176.92 614.32,180.14 C615.95,183.36 618.06,187.19 619.42,190.24 C620.79,193.30 621.68,196.07 622.53,198.45 C623.38,200.84 623.86,202.71 624.53,204.55 C625.19,206.40 625.84,208.03 626.52,209.54 C627.20,211.06 627.94,212.46 628.62,213.63 C629.29,214.81 629.77,215.91 630.59,216.60 C631.40,217.29 631.95,217.49 633.52,217.77 C635.09,218.05 638.93,218.18 640.01,218.27" fill="none" stroke="#a2142f" stroke-width="0.85" stroke-linejoin="round"/>
<path d="M498.00,4.50 C499.17,4.50 503.17,4.44 505.00,4.50 C506.83,4.56 507.25,4.51 508.98,4.89 C510.72,5.27 513.27,5.99 515.41,6.77 C517.54,7.55 519.66,8.36 521.80,9.57 C523.93,10.78 526.09,12.24 528.23,14.02 C530.38,15.81 532.52,17.57 534.67,20.26 C536.82,22.96 539.52,27.25 541.13,30.20 C542.74,33.15 542.99,35.15 544.32,37.98 C545.65,40.81 547.23,43.32 549.12,47.18 C551.01,51.05 553.56,56.67 555.66,61.16 C557.75,65.65 559.60,69.65 561.70,74.14 C563.80,78.63 565.98,83.38 568.25,88.12 C570.52,92.86 572.75,97.47 575.30,102.60 C577.85,107.72 580.83,113.46 583.56,118.87 C586.28,124.28 589.06,129.87 591.66,135.07 C594.26,140.27 596.88,145.49 599.16,150.07 C601.44,154.65 603.66,159.07 605.36,162.57 C607.06,166.07 607.91,168.12 609.36,171.07 C610.81,174.02 612.43,177.06 614.06,180.27 C615.69,183.49 617.79,187.32 619.16,190.36 C620.52,193.41 621.40,196.17 622.25,198.55 C623.10,200.93 623.58,202.80 624.25,204.65 C624.92,206.51 625.57,208.14 626.26,209.66 C626.94,211.19 627.67,212.59 628.36,213.78 C629.05,214.97 629.55,216.11 630.40,216.82 C631.25,217.53 631.87,217.77 633.47,218.06 C635.07,218.34 638.90,218.47 639.99,218.56" fill="none" stroke="#a2142f" stroke-width="0.85" stroke-linejoin="round"/>
<path d="M498.00,4.50 C499.17,4.50 503.17,4.41 505.00,4.50 C506.83,4.59 507.25,4.59 508.95,5.05 C510.66,5.51 513.16,6.41 515.24,7.27 C517.32,8.14 519.34,9.02 521.42,10.25 C523.50,11.48 525.63,12.87 527.73,14.62 C529.84,16.37 531.94,18.09 534.06,20.75 C536.18,23.41 538.85,27.65 540.45,30.57 C542.04,33.50 542.29,35.49 543.61,38.31 C544.94,41.14 546.52,43.67 548.42,47.53 C550.32,51.38 552.90,56.98 555.02,61.45 C557.14,65.93 559.02,69.92 561.14,74.40 C563.27,78.88 565.49,83.61 567.78,88.34 C570.08,93.07 572.34,97.67 574.93,102.78 C577.51,107.89 580.54,113.60 583.29,119.01 C586.03,124.41 588.80,130.00 591.40,135.20 C594.00,140.40 596.61,145.62 598.90,150.20 C601.18,154.78 603.40,159.20 605.10,162.70 C606.80,166.20 607.65,168.25 609.10,171.20 C610.55,174.15 612.17,177.19 613.80,180.40 C615.43,183.62 617.53,187.44 618.89,190.48 C620.25,193.53 621.13,196.27 621.98,198.65 C622.82,201.03 623.31,202.90 623.98,204.75 C624.65,206.61 625.30,208.26 625.99,209.78 C626.68,211.31 627.41,212.72 628.11,213.93 C628.81,215.13 629.33,216.31 630.21,217.04 C631.10,217.78 631.79,218.04 633.42,218.34 C635.05,218.64 638.87,218.76 639.97,218.85" fill="none" stroke="#a2142f" stroke-width="0.85" stroke-linejoin="round"/>
<path d="M460.90,92.98 C461.00,94.15 461.27,97.64 461.51,99.96 C461.74,102.29 461.99,104.77 462.31,106.91 C462.64,109.05 463.02,111.00 463.48,112.79 C463.93,114.59 464.41,116.05 465.04,117.67 C465.67,119.29 466.06,120.63 467.26,122.52 C468.46,124.40 470.73,126.88 472.23,128.97 C473.73,131.06 474.80,132.45 476.28,135.06 C477.76,137.66 479.36,141.10 481.10,144.60 C482.85,148.10 484.89,152.74 486.78,156.05 C488.67,159.37 490.62,161.84 492.44,164.49 C494.27,167.14 496.04,169.64 497.73,171.97 C499.42,174.30 500.94,176.38 502.58,178.46 C504.22,180.54 505.90,182.66 507.58,184.45 C509.25,186.25 510.84,187.84 512.63,189.23 C514.42,190.61 516.64,191.81 518.30,192.75 C519.96,193.69 520.19,193.98 522.59,194.87 C524.99,195.76 527.60,196.80 532.70,198.10 C537.79,199.41 546.33,201.44 553.15,202.70 C559.98,203.97 566.83,204.70 573.64,205.70 C580.46,206.70 587.20,207.85 594.04,208.70 C600.87,209.55 609.94,210.05 614.65,210.80 C619.36,211.56 620.23,212.40 622.31,213.22 C624.39,214.04 625.83,215.10 627.13,215.73 C628.43,216.36 628.94,216.64 630.09,217.01 C631.24,217.39 632.38,217.82 634.03,218.00 C635.68,218.18 639.01,218.08 640.00,218.10" fill="none" stroke="#7e2f8e" stroke-width="0.7" stroke-linejoin="round"/>
<path d="M460.70,92.99 C460.78,94.16 460.99,97.66 461.18,99.99 C461.37,102.32 461.56,104.81 461.85,106.97 C462.14,109.13 462.47,111.11 462.91,112.93 C463.35,114.75 463.85,116.23 464.49,117.89 C465.14,119.54 465.56,120.93 466.77,122.83 C467.98,124.74 470.25,127.23 471.76,129.32 C473.26,131.40 474.30,132.75 475.77,135.34 C477.24,137.94 478.83,141.36 480.58,144.86 C482.33,148.36 484.38,153.02 486.27,156.34 C488.17,159.67 490.13,162.16 491.96,164.82 C493.79,167.48 495.56,169.98 497.25,172.31 C498.95,174.65 500.48,176.73 502.14,178.81 C503.80,180.89 505.50,183.01 507.20,184.81 C508.90,186.61 510.53,188.22 512.35,189.60 C514.17,190.98 516.42,192.17 518.11,193.11 C519.79,194.04 520.04,194.34 522.47,195.21 C524.89,196.09 527.53,197.08 532.63,198.36 C537.74,199.64 546.29,201.64 553.12,202.90 C559.95,204.15 566.80,204.90 573.62,205.90 C580.43,206.90 587.18,208.05 594.01,208.90 C600.85,209.75 609.91,210.25 614.62,211.00 C619.32,211.75 620.17,212.58 622.24,213.40 C624.31,214.22 625.75,215.27 627.05,215.91 C628.35,216.54 628.87,216.82 630.03,217.20 C631.19,217.58 632.35,218.01 634.01,218.20 C635.67,218.38 639.00,218.28 640.00,218.30" fill="none" stroke="#7e2f8e" stroke-width="0.7" stroke-linejoin="round"/>
<path d="M460.50,93.01 C460.55,94.17 460.68,97.68 460.82,100.01 C460.96,102.35 461.10,104.85 461.35,107.03 C461.60,109.21 461.87,111.23 462.29,113.07 C462.72,114.92 463.25,116.43 463.91,118.11 C464.56,119.80 465.01,121.24 466.23,123.17 C467.46,125.10 469.75,127.60 471.24,129.68 C472.74,131.77 473.76,133.08 475.23,135.66 C476.69,138.23 478.27,141.64 480.02,145.14 C481.77,148.64 483.82,153.32 485.73,156.66 C487.63,160.00 489.60,162.51 491.44,165.18 C493.28,167.85 495.04,170.35 496.75,172.69 C498.45,175.02 499.99,177.11 501.66,179.19 C503.34,181.27 505.07,183.39 506.80,185.19 C508.53,186.99 510.20,188.62 512.05,190.00 C513.90,191.38 516.18,192.56 517.89,193.49 C519.61,194.42 519.89,194.73 522.33,195.59 C524.78,196.44 527.44,197.39 532.57,198.64 C537.69,199.89 546.24,201.86 553.08,203.10 C559.92,204.35 566.77,205.10 573.58,206.10 C580.40,207.10 587.15,208.25 593.99,209.10 C600.82,209.95 609.89,210.45 614.58,211.20 C619.28,211.95 620.10,212.78 622.16,213.60 C624.22,214.41 625.65,215.46 626.95,216.09 C628.25,216.73 628.79,217.01 629.97,217.40 C631.14,217.78 632.32,218.22 633.99,218.40 C635.66,218.59 639.00,218.49 640.00,218.50" fill="none" stroke="#7e2f8e" stroke-width="0.7" stroke-linejoin="round"/>
<path d="M460.30,93.02 C460.33,94.19 460.39,97.69 460.49,100.04 C460.59,102.38 460.68,104.89 460.89,107.09 C461.09,109.28 461.31,111.33 461.72,113.21 C462.14,115.08 462.69,116.61 463.36,118.33 C464.03,120.04 464.51,121.53 465.74,123.48 C466.97,125.43 469.27,127.95 470.77,130.03 C472.27,132.10 473.26,133.38 474.72,135.94 C476.17,138.51 477.74,141.90 479.50,145.40 C481.25,148.90 483.31,153.59 485.22,156.95 C487.13,160.30 489.12,162.83 490.96,165.51 C492.80,168.19 494.56,170.69 496.27,173.03 C497.98,175.37 499.53,177.46 501.22,179.54 C502.91,181.63 504.67,183.74 506.42,185.55 C508.18,187.35 509.89,188.99 511.77,190.37 C513.65,191.76 515.96,192.93 517.70,193.85 C519.44,194.78 519.74,195.09 522.21,195.93 C524.68,196.77 527.36,197.67 532.50,198.90 C537.64,200.13 546.20,202.06 553.05,203.30 C559.89,204.53 566.74,205.30 573.56,206.30 C580.38,207.30 587.13,208.45 593.96,209.30 C600.80,210.15 609.86,210.65 614.55,211.40 C619.24,212.14 620.04,212.97 622.09,213.78 C624.14,214.59 625.57,215.64 626.87,216.27 C628.17,216.90 628.72,217.20 629.91,217.59 C631.09,217.97 632.29,218.41 633.97,218.60 C635.65,218.78 638.99,218.68 640.00,218.70" fill="none" stroke="#7e2f8e" stroke-width="0.7" stroke-linejoin="round"/>
<path d="M460.50,4.50 C460.50,32.75 460.50,145.75 460.50,174.00" fill="none" stroke="#edb120" stroke-width="0.9" stroke-linejoin="round"/>
<path d="M460.50,174.00 C460.93,175.35 461.83,179.14 463.06,182.09 C464.29,185.03 466.28,189.25 467.90,191.67 C469.51,194.09 470.86,194.45 472.75,196.60 C474.64,198.76 477.09,202.19 479.25,204.60 C481.40,207.00 483.54,209.32 485.67,211.03 C487.81,212.74 489.91,213.95 492.03,214.85 C494.16,215.74 496.24,215.95 498.41,216.41 C500.57,216.87 501.24,217.37 505.01,217.62 C508.77,217.87 514.34,217.84 521.00,217.92 C527.67,218.00 541.00,218.09 545.00,218.12" fill="none" stroke="#edb120" stroke-width="0.8" stroke-linejoin="round"/>
<path d="M460.50,174.00 C460.83,175.38 461.35,179.30 462.50,182.30 C463.65,185.30 465.77,189.55 467.40,192.00 C469.03,194.45 470.40,194.83 472.30,197.00 C474.20,199.17 476.63,202.58 478.80,205.00 C480.97,207.42 483.13,209.77 485.30,211.50 C487.47,213.23 489.63,214.48 491.80,215.40 C493.97,216.32 496.10,216.60 498.30,217.00 C500.50,217.40 501.22,217.62 505.00,217.80 C508.78,217.98 514.33,218.02 521.00,218.10 C527.67,218.18 541.00,218.27 545.00,218.30" fill="none" stroke="#edb120" stroke-width="0.8" stroke-linejoin="round"/>
<path d="M460.50,174.00 C460.74,175.42 460.87,179.46 461.94,182.51 C463.01,185.57 465.25,189.85 466.90,192.33 C468.55,194.81 469.94,195.22 471.85,197.40 C473.76,199.57 476.17,202.97 478.35,205.40 C480.53,207.83 482.72,210.21 484.93,211.97 C487.13,213.73 489.35,215.02 491.57,215.95 C493.78,216.89 495.96,217.25 498.19,217.59 C500.43,217.93 501.19,217.86 504.99,217.98 C508.79,218.09 514.33,218.20 521.00,218.28 C527.67,218.36 541.00,218.45 545.00,218.48" fill="none" stroke="#edb120" stroke-width="0.8" stroke-linejoin="round"/>
<path d="M460.50,4.50 C483.75,4.50 576.08,4.48 600.00,4.50 C623.92,4.52 602.75,4.48 604.00,4.60 C605.25,4.72 606.42,4.90 607.50,5.20 C608.58,5.50 609.58,5.88 610.50,6.40 C611.42,6.92 612.25,7.53 613.00,8.30 C613.75,9.07 614.42,10.05 615.00,11.00 C615.58,11.95 616.03,12.83 616.50,14.00 C616.97,15.17 616.80,10.42 617.80,18.00 C618.80,25.58 621.05,43.83 622.50,59.50 C623.95,75.17 625.15,94.42 626.50,112.00 C627.85,129.58 629.65,152.83 630.60,165.00 C631.55,177.17 631.72,179.53 632.20,185.00 C632.68,190.47 632.98,193.98 633.50,197.80 C634.02,201.62 634.58,205.17 635.30,207.90 C636.02,210.63 636.75,212.62 637.80,214.20 C638.85,215.78 640.40,216.73 641.60,217.40 C642.80,218.07 643.10,218.03 645.00,218.20 C646.90,218.37 651.67,218.37 653.00,218.40" fill="none" stroke="#000" stroke-width="1.35" stroke-linejoin="round"/>
</g>
<rect x="600.5" y="9.5" width="53" height="50" fill="#fff" stroke="#262626" stroke-width="0.8"/>
<line x1="600.5" y1="18.5" x2="653.5" y2="18.5" stroke="#262626" stroke-width="0.6"/>
<line x1="602" y1="23.0" x2="619.5" y2="23.0" stroke="#7e2f8e" stroke-width="0.6"/>
<line x1="602" y1="30.85" x2="619.5" y2="30.85" stroke="#118811" stroke-width="0.6"/>
<line x1="602" y1="38.7" x2="619.5" y2="38.7" stroke="#000" stroke-width="0.6"/>
<line x1="602" y1="46.55" x2="619.5" y2="46.55" stroke="#a2142f" stroke-width="0.6"/>
<line x1="602" y1="54.4" x2="619.5" y2="54.4" stroke="#edb120" stroke-width="0.6"/></svg><svg class="tx" xmlns="http://www.w3.org/2000/svg" width="660" height="246" viewBox="0 0 660 246" font-family="Liberation Sans, sans-serif" text-rendering="geometricPrecision"><text x="38.0" y="103.7" font-size="8.4" text-anchor="middle" fill="#262626">130</text>
<text x="64.3" y="103.7" font-size="8.4" text-anchor="middle" fill="#262626">140</text>
<text x="93.9" y="103.7" font-size="8.4" text-anchor="middle" fill="#262626">151</text>
<text x="123.5" y="103.7" font-size="8.4" text-anchor="middle" fill="#262626">162</text>
<text x="153.10000000000002" y="103.7" font-size="8.4" text-anchor="middle" fill="#262626">173</text>
<text x="182.7" y="103.7" font-size="8.4" text-anchor="middle" fill="#262626">184</text>
<text x="212.3" y="103.7" font-size="8.4" text-anchor="middle" fill="#262626">195</text>
<text x="241.90000000000003" y="103.7" font-size="8.4" text-anchor="middle" fill="#262626">205</text>
<text x="271.5" y="103.7" font-size="8.4" text-anchor="middle" fill="#262626">216</text>
<text x="301.1" y="103.7" font-size="8.4" text-anchor="middle" fill="#262626">227</text>
<text x="330.70000000000005" y="103.7" font-size="8.4" text-anchor="middle" fill="#262626">238</text>
<text x="360.3" y="103.7" font-size="8.4" text-anchor="middle" fill="#262626">249</text>
<text x="389.90000000000003" y="103.7" font-size="8.4" text-anchor="middle" fill="#262626">260</text>
<text x="417.0" y="103.7" font-size="8.4" text-anchor="middle" fill="#262626">270</text>
<text x="33.6" y="95.4" font-size="8.4" text-anchor="end" fill="#262626">0</text>
<text x="33.6" y="73.42500000000001" font-size="8.4" text-anchor="end" fill="#262626">5</text>
<text x="33.6" y="51.45" font-size="8.4" text-anchor="end" fill="#262626">10</text>
<text x="33.6" y="29.47500000000001" font-size="8.4" text-anchor="end" fill="#262626">15</text>
<text x="33.6" y="7.5" font-size="8.4" text-anchor="end" fill="#262626">20</text>
<text x="227.2" y="115.6" font-size="9.3" text-anchor="middle" fill="#262626">Gantry angle (degrees)</text>
<text x="9.3" y="49.5" font-size="9.4" text-anchor="middle" transform="rotate(-90 9.3 49.5)" fill="#262626">Proton range</text>
<text x="20.2" y="48.3" font-size="9.4" text-anchor="middle" transform="rotate(-90 20.2 48.3)" fill="#262626">in water (cm)</text>
<text x="20.5" y="112.7" font-size="11" text-anchor="middle" fill="#262626">a)</text>
<text x="38.0" y="229.7" font-size="8.4" text-anchor="middle" fill="#262626">130</text>
<text x="64.3" y="229.7" font-size="8.4" text-anchor="middle" fill="#262626">140</text>
<text x="93.9" y="229.7" font-size="8.4" text-anchor="middle" fill="#262626">151</text>
<text x="123.5" y="229.7" font-size="8.4" text-anchor="middle" fill="#262626">162</text>
<text x="153.10000000000002" y="229.7" font-size="8.4" text-anchor="middle" fill="#262626">173</text>
<text x="182.7" y="229.7" font-size="8.4" text-anchor="middle" fill="#262626">184</text>
<text x="212.3" y="229.7" font-size="8.4" text-anchor="middle" fill="#262626">195</text>
<text x="241.90000000000003" y="229.7" font-size="8.4" text-anchor="middle" fill="#262626">205</text>
<text x="271.5" y="229.7" font-size="8.4" text-anchor="middle" fill="#262626">216</text>
<text x="301.1" y="229.7" font-size="8.4" text-anchor="middle" fill="#262626">227</text>
<text x="330.70000000000005" y="229.7" font-size="8.4" text-anchor="middle" fill="#262626">238</text>
<text x="360.3" y="229.7" font-size="8.4" text-anchor="middle" fill="#262626">249</text>
<text x="389.90000000000003" y="229.7" font-size="8.4" text-anchor="middle" fill="#262626">260</text>
<text x="417.0" y="229.7" font-size="8.4" text-anchor="middle" fill="#262626">270</text>
<text x="33.6" y="221.4" font-size="8.4" text-anchor="end" fill="#262626">0</text>
<text x="33.6" y="178.5" font-size="8.4" text-anchor="end" fill="#262626">5</text>
<text x="33.6" y="135.60000000000002" font-size="8.4" text-anchor="end" fill="#262626">10</text>
<text x="227.2" y="241.6" font-size="9.3" text-anchor="middle" fill="#262626">Gantry angle (degrees)</text>
<text x="9.3" y="175.35" font-size="9.4" text-anchor="middle" transform="rotate(-90 9.3 175.35)" fill="#262626">Adjacent beam angle</text>
<text x="20.2" y="174.15" font-size="9.4" text-anchor="middle" transform="rotate(-90 20.2 174.15)" fill="#262626">range differences (cm)</text>
<text x="20.5" y="238.7" font-size="11" text-anchor="middle" fill="#262626">b)</text>
<text x="457.3" y="221.3" font-size="8.4" text-anchor="end" fill="#262626">0</text>
<text x="457.3" y="199.92000000000002" font-size="8.4" text-anchor="end" fill="#262626">10</text>
<text x="457.3" y="178.54000000000002" font-size="8.4" text-anchor="end" fill="#262626">20</text>
<text x="457.3" y="157.16000000000003" font-size="8.4" text-anchor="end" fill="#262626">30</text>
<text x="457.3" y="135.78000000000003" font-size="8.4" text-anchor="end" fill="#262626">40</text>
<text x="457.3" y="114.40000000000002" font-size="8.4" text-anchor="end" fill="#262626">50</text>
<text x="457.3" y="93.02000000000001" font-size="8.4" text-anchor="end" fill="#262626">60</text>
<text x="457.3" y="71.64000000000001" font-size="8.4" text-anchor="end" fill="#262626">70</text>
<text x="457.3" y="50.26000000000002" font-size="8.4" text-anchor="end" fill="#262626">80</text>
<text x="457.3" y="28.880000000000024" font-size="8.4" text-anchor="end" fill="#262626">90</text>
<text x="457.3" y="7.500000000000028" font-size="8.4" text-anchor="end" fill="#262626">100</text>
<text x="460.2" y="229.7" font-size="8.4" text-anchor="middle" fill="#262626">0</text>
<text x="492.6" y="229.7" font-size="8.4" text-anchor="middle" fill="#262626">10</text>
<text x="525.0" y="229.7" font-size="8.4" text-anchor="middle" fill="#262626">20</text>
<text x="557.4" y="229.7" font-size="8.4" text-anchor="middle" fill="#262626">30</text>
<text x="589.8" y="229.7" font-size="8.4" text-anchor="middle" fill="#262626">40</text>
<text x="622.2" y="229.7" font-size="8.4" text-anchor="middle" fill="#262626">50</text>
<text x="654.6" y="229.7" font-size="8.4" text-anchor="middle" fill="#262626">60</text>
<text x="438.8" y="110.8" font-size="9.3" text-anchor="middle" transform="rotate(-90 438.8 110.8)" fill="#262626">Percent volume (%)</text>
<text x="559.9" y="243" font-size="9.6" text-anchor="middle" fill="#262626">Dose (Gy)</text>
<text x="442.5" y="237.5" font-size="11" text-anchor="middle" fill="#262626">c)</text>
<text x="627" y="16.3" font-size="6" text-anchor="middle" font-weight="bold" fill="#262626">Plot Legend</text>
<text x="621" y="25.2" font-size="6" text-anchor="start" fill="#262626">Brain</text>
<text x="621" y="33.050000000000004" font-size="6" text-anchor="start" fill="#262626">Brainstem</text>
<text x="621" y="40.900000000000006" font-size="6" text-anchor="start" fill="#262626">PBSTV</text>
<text x="621" y="48.75" font-size="6" text-anchor="start" fill="#262626">Ring 10mm</text>
<text x="621" y="56.6" font-size="6" text-anchor="start" fill="#262626">Skin</text></svg></body></html>
